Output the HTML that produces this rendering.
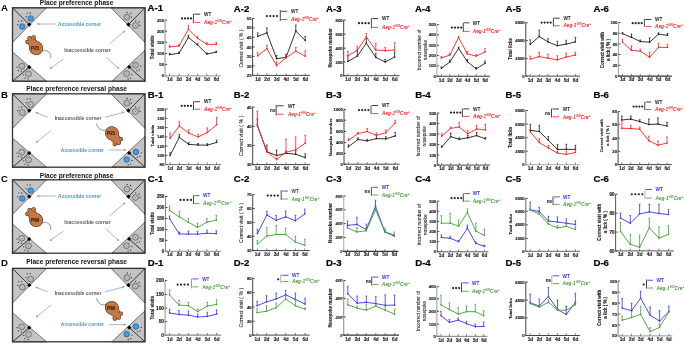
<!DOCTYPE html>
<html><head><meta charset="utf-8"><style>
html,body{margin:0;padding:0;background:#fff;}
body{width:685px;height:344px;overflow:hidden;}
svg{display:block;filter:blur(0.3px);}
text{font-family:"Liberation Sans", sans-serif;}
</style></head><body>
<svg xmlns="http://www.w3.org/2000/svg" width="685" height="344" viewBox="0 0 685 344">
<rect width="685" height="344" fill="#fff"/>
<polygon points="12.5,7.8 46.5,7.8 12.5,42.4" fill="#c4c4c4" stroke="#2a2a2a" stroke-width="0.6"/>
<polygon points="12.5,52.1 46.5,81.2 12.5,81.2" fill="#c4c4c4" stroke="#2a2a2a" stroke-width="0.6"/>
<polygon points="111,7.8 145,7.8 145,42.4" fill="#c4c4c4" stroke="#2a2a2a" stroke-width="0.6"/>
<polygon points="145,50.2 145,81.2 111.8,81.2" fill="#c4c4c4" stroke="#2a2a2a" stroke-width="0.6"/>
<line x1="12.5" y1="7.8" x2="29.3" y2="24.6" stroke="#111" stroke-width="0.8"/>
<rect x="27.8" y="23.1" width="3" height="3" fill="#000" transform="rotate(45 29.3 24.6)"/>
<line x1="12.5" y1="81.2" x2="29.2" y2="67.1" stroke="#111" stroke-width="0.8"/>
<rect x="27.7" y="65.6" width="3" height="3" fill="#000" transform="rotate(45 29.2 67.1)"/>
<line x1="145" y1="7.8" x2="128.4" y2="24.6" stroke="#111" stroke-width="0.8"/>
<rect x="126.9" y="23.1" width="3" height="3" fill="#000" transform="rotate(45 128.4 24.6)"/>
<line x1="145" y1="81.2" x2="129.2" y2="67" stroke="#111" stroke-width="0.8"/>
<rect x="127.7" y="65.5" width="3" height="3" fill="#000" transform="rotate(45 129.2 67)"/>
<rect x="12.5" y="7.8" width="132.5" height="73.4" fill="none" stroke="#333" stroke-width="1.3"/>
<circle cx="30.7" cy="18.5" r="2.75" fill="#46a6ec" stroke="#1a4f8a" stroke-width="0.7"/>
<circle cx="30.7" cy="18.5" r="1.5" fill="none" stroke="#2f80c8" stroke-width="0.35"/>
<circle cx="22.2" cy="26.5" r="2.75" fill="#46a6ec" stroke="#1a4f8a" stroke-width="0.7"/>
<circle cx="22.2" cy="26.5" r="1.5" fill="none" stroke="#2f80c8" stroke-width="0.35"/>
<circle cx="21.8" cy="66.2" r="2.9" fill="#d6d6d6" stroke="#333" stroke-width="0.6"/>
<circle cx="21.8" cy="66.2" r="1.8" fill="none" stroke="#777" stroke-width="0.4"/>
<circle cx="21.8" cy="66.2" r="0.5" fill="#444"/>
<circle cx="28.5" cy="73.9" r="2.9" fill="#d6d6d6" stroke="#333" stroke-width="0.6"/>
<circle cx="28.5" cy="73.9" r="1.8" fill="none" stroke="#777" stroke-width="0.4"/>
<circle cx="28.5" cy="73.9" r="0.5" fill="#444"/>
<circle cx="126.9" cy="17.1" r="2.9" fill="#d6d6d6" stroke="#333" stroke-width="0.6"/>
<circle cx="126.9" cy="17.1" r="1.8" fill="none" stroke="#777" stroke-width="0.4"/>
<circle cx="126.9" cy="17.1" r="0.5" fill="#444"/>
<circle cx="135.4" cy="25.5" r="2.9" fill="#d6d6d6" stroke="#333" stroke-width="0.6"/>
<circle cx="135.4" cy="25.5" r="1.8" fill="none" stroke="#777" stroke-width="0.4"/>
<circle cx="135.4" cy="25.5" r="0.5" fill="#444"/>
<circle cx="135.5" cy="65.3" r="2.9" fill="#d6d6d6" stroke="#333" stroke-width="0.6"/>
<circle cx="135.5" cy="65.3" r="1.8" fill="none" stroke="#777" stroke-width="0.4"/>
<circle cx="135.5" cy="65.3" r="0.5" fill="#444"/>
<circle cx="126.6" cy="73.7" r="2.9" fill="#d6d6d6" stroke="#333" stroke-width="0.6"/>
<circle cx="126.6" cy="73.7" r="1.8" fill="none" stroke="#777" stroke-width="0.4"/>
<circle cx="126.6" cy="73.7" r="0.5" fill="#444"/>
<circle cx="26.2" cy="16.7" r="0.65" fill="#333"/>
<circle cx="27.3" cy="13.1" r="0.65" fill="#333"/>
<circle cx="30.3" cy="13" r="0.65" fill="#333"/>
<circle cx="17.7" cy="24.7" r="0.65" fill="#333"/>
<circle cx="18.8" cy="21.1" r="0.65" fill="#333"/>
<circle cx="21.8" cy="21" r="0.65" fill="#333"/>
<circle cx="17" cy="67.1" r="0.65" fill="#333"/>
<circle cx="18.3" cy="70.4" r="0.65" fill="#333"/>
<circle cx="21.3" cy="71.2" r="0.65" fill="#333"/>
<circle cx="23.7" cy="74.8" r="0.65" fill="#333"/>
<circle cx="25" cy="78.1" r="0.65" fill="#333"/>
<circle cx="28" cy="78.9" r="0.65" fill="#333"/>
<circle cx="127.2" cy="12.4" r="0.65" fill="#333"/>
<circle cx="130.7" cy="13.5" r="0.65" fill="#333"/>
<circle cx="131.5" cy="17.1" r="0.65" fill="#333"/>
<circle cx="135.7" cy="20.8" r="0.65" fill="#333"/>
<circle cx="139.2" cy="21.9" r="0.65" fill="#333"/>
<circle cx="140" cy="25.5" r="0.65" fill="#333"/>
<circle cx="140.8" cy="66.2" r="0.65" fill="#333"/>
<circle cx="139.5" cy="69.8" r="0.65" fill="#333"/>
<circle cx="137" cy="70.6" r="0.65" fill="#333"/>
<circle cx="131.9" cy="74.6" r="0.65" fill="#333"/>
<circle cx="130.6" cy="78.2" r="0.65" fill="#333"/>
<circle cx="128.1" cy="79" r="0.65" fill="#333"/>
<text x="76.6" y="5.3" font-size="6.6" font-weight="bold" text-anchor="middle" fill="#111" >Place preference phase</text>
<text x="1" y="10.9" font-size="9.6" font-weight="bold" text-anchor="start" fill="#000" >A</text>
<text x="79.6" y="25.7" font-size="5" font-weight="bold" text-anchor="middle" fill="#4596dc" >Accessible corner</text>
<line x1="55.6" y1="24" x2="37.4" y2="24" stroke="#777" stroke-width="0.55"/>
<polyline points="39.41,23.1 37.4,24 39.41,24.9" fill="none" stroke="#777" stroke-width="0.55"/>
<text x="87.5" y="52.4" font-size="5" font-weight="bold" text-anchor="middle" fill="#5a5a5a" >Inaccessible corner</text>
<line x1="63.4" y1="59.1" x2="50.2" y2="68.6" stroke="#777" stroke-width="0.55"/>
<polyline points="51.31,66.7 50.2,68.6 52.35,68.15" fill="none" stroke="#777" stroke-width="0.55"/>
<line x1="106.2" y1="57.4" x2="118.8" y2="68.6" stroke="#777" stroke-width="0.55"/>
<polyline points="116.7,67.94 118.8,68.6 117.89,66.59" fill="none" stroke="#777" stroke-width="0.55"/>
<line x1="109.8" y1="43.6" x2="125" y2="31" stroke="#777" stroke-width="0.55"/>
<polyline points="124.03,32.97 125,31 122.88,31.59" fill="none" stroke="#777" stroke-width="0.55"/>
<g transform="translate(36,48) rotate(0)">
<ellipse cx="0" cy="0" rx="6.85" ry="7.25" transform="rotate(-40)" fill="#3a2010"/>
<circle cx="-2.5" cy="-5" r="3.95" fill="#3a2010"/>
<circle cx="-4.8" cy="-6.8" r="3.45" fill="#3a2010"/>
<circle cx="-8.6" cy="-6" r="2.15" fill="#3a2010"/>
<circle cx="-6.4" cy="-9.7" r="2.25" fill="#3a2010"/>
<circle cx="-2.4" cy="-10.6" r="2.25" fill="#3a2010"/>
<circle cx="-5.6" cy="-3.4" r="1.95" fill="#3a2010"/>
<ellipse cx="0" cy="0" rx="6.4" ry="6.8" transform="rotate(-40)" fill="#c57843"/>
<circle cx="-2.5" cy="-5" r="3.5" fill="#c57843"/>
<circle cx="-4.8" cy="-6.8" r="3" fill="#c57843"/>
<circle cx="-8.6" cy="-6" r="1.7" fill="#c57843"/>
<circle cx="-6.4" cy="-9.7" r="1.8" fill="#c57843"/>
<circle cx="-2.4" cy="-10.6" r="1.8" fill="#c57843"/>
<circle cx="-5.6" cy="-3.4" r="1.5" fill="#c57843"/>
</g>
<text x="35.2" y="49.6" font-size="4.6" font-weight="bold" text-anchor="middle" fill="#2a1508" stroke="#2a1508" stroke-width="0.1" >P21</text>
<path d="M 41.6 51.4 C 45 49.6 49 50.3 50.6 54.8 C 51.2 56.8 50.8 57.8 50.2 58.1" fill="none" stroke="#222" stroke-width="0.5"/>
<polygon points="12.5,93.8 46.5,93.8 12.5,128.4" fill="#c4c4c4" stroke="#2a2a2a" stroke-width="0.6"/>
<polygon points="12.5,138.1 46.5,167.2 12.5,167.2" fill="#c4c4c4" stroke="#2a2a2a" stroke-width="0.6"/>
<polygon points="111,93.8 145,93.8 145,128.4" fill="#c4c4c4" stroke="#2a2a2a" stroke-width="0.6"/>
<polygon points="145,136.2 145,167.2 111.8,167.2" fill="#c4c4c4" stroke="#2a2a2a" stroke-width="0.6"/>
<line x1="12.5" y1="93.8" x2="29.3" y2="110.6" stroke="#111" stroke-width="0.8"/>
<rect x="27.8" y="109.1" width="3" height="3" fill="#000" transform="rotate(45 29.3 110.6)"/>
<line x1="12.5" y1="167.2" x2="29.2" y2="153.1" stroke="#111" stroke-width="0.8"/>
<rect x="27.7" y="151.6" width="3" height="3" fill="#000" transform="rotate(45 29.2 153.1)"/>
<line x1="145" y1="93.8" x2="128.4" y2="110.6" stroke="#111" stroke-width="0.8"/>
<rect x="126.9" y="109.1" width="3" height="3" fill="#000" transform="rotate(45 128.4 110.6)"/>
<line x1="145" y1="167.2" x2="129.2" y2="153" stroke="#111" stroke-width="0.8"/>
<rect x="127.7" y="151.5" width="3" height="3" fill="#000" transform="rotate(45 129.2 153)"/>
<rect x="12.5" y="93.8" width="132.5" height="73.4" fill="none" stroke="#333" stroke-width="1.3"/>
<circle cx="30.7" cy="104.5" r="2.9" fill="#d6d6d6" stroke="#333" stroke-width="0.6"/>
<circle cx="30.7" cy="104.5" r="1.8" fill="none" stroke="#777" stroke-width="0.4"/>
<circle cx="30.7" cy="104.5" r="0.5" fill="#444"/>
<circle cx="22.2" cy="112.5" r="2.9" fill="#d6d6d6" stroke="#333" stroke-width="0.6"/>
<circle cx="22.2" cy="112.5" r="1.8" fill="none" stroke="#777" stroke-width="0.4"/>
<circle cx="22.2" cy="112.5" r="0.5" fill="#444"/>
<circle cx="21.8" cy="152.2" r="2.9" fill="#d6d6d6" stroke="#333" stroke-width="0.6"/>
<circle cx="21.8" cy="152.2" r="1.8" fill="none" stroke="#777" stroke-width="0.4"/>
<circle cx="21.8" cy="152.2" r="0.5" fill="#444"/>
<circle cx="28.5" cy="159.9" r="2.9" fill="#d6d6d6" stroke="#333" stroke-width="0.6"/>
<circle cx="28.5" cy="159.9" r="1.8" fill="none" stroke="#777" stroke-width="0.4"/>
<circle cx="28.5" cy="159.9" r="0.5" fill="#444"/>
<circle cx="126.9" cy="103.1" r="2.9" fill="#d6d6d6" stroke="#333" stroke-width="0.6"/>
<circle cx="126.9" cy="103.1" r="1.8" fill="none" stroke="#777" stroke-width="0.4"/>
<circle cx="126.9" cy="103.1" r="0.5" fill="#444"/>
<circle cx="135.4" cy="111.5" r="2.9" fill="#d6d6d6" stroke="#333" stroke-width="0.6"/>
<circle cx="135.4" cy="111.5" r="1.8" fill="none" stroke="#777" stroke-width="0.4"/>
<circle cx="135.4" cy="111.5" r="0.5" fill="#444"/>
<circle cx="135.9" cy="151.9" r="2.75" fill="#46a6ec" stroke="#1a4f8a" stroke-width="0.7"/>
<circle cx="135.9" cy="151.9" r="1.5" fill="none" stroke="#2f80c8" stroke-width="0.35"/>
<circle cx="126.7" cy="159.6" r="2.75" fill="#46a6ec" stroke="#1a4f8a" stroke-width="0.7"/>
<circle cx="126.7" cy="159.6" r="1.5" fill="none" stroke="#2f80c8" stroke-width="0.35"/>
<circle cx="26.2" cy="102.7" r="0.65" fill="#333"/>
<circle cx="27.3" cy="99.1" r="0.65" fill="#333"/>
<circle cx="30.3" cy="99" r="0.65" fill="#333"/>
<circle cx="17.7" cy="110.7" r="0.65" fill="#333"/>
<circle cx="18.8" cy="107.1" r="0.65" fill="#333"/>
<circle cx="21.8" cy="107" r="0.65" fill="#333"/>
<circle cx="17" cy="153.1" r="0.65" fill="#333"/>
<circle cx="18.3" cy="156.4" r="0.65" fill="#333"/>
<circle cx="21.3" cy="157.2" r="0.65" fill="#333"/>
<circle cx="23.7" cy="160.8" r="0.65" fill="#333"/>
<circle cx="25" cy="164.1" r="0.65" fill="#333"/>
<circle cx="28" cy="164.9" r="0.65" fill="#333"/>
<circle cx="127.2" cy="98.4" r="0.65" fill="#333"/>
<circle cx="130.7" cy="99.5" r="0.65" fill="#333"/>
<circle cx="131.5" cy="103.1" r="0.65" fill="#333"/>
<circle cx="135.7" cy="106.8" r="0.65" fill="#333"/>
<circle cx="139.2" cy="107.9" r="0.65" fill="#333"/>
<circle cx="140" cy="111.5" r="0.65" fill="#333"/>
<circle cx="141.2" cy="152.8" r="0.65" fill="#333"/>
<circle cx="139.9" cy="156.4" r="0.65" fill="#333"/>
<circle cx="137.4" cy="157.2" r="0.65" fill="#333"/>
<circle cx="132" cy="160.5" r="0.65" fill="#333"/>
<circle cx="130.7" cy="164.1" r="0.65" fill="#333"/>
<circle cx="128.2" cy="164.9" r="0.65" fill="#333"/>
<text x="76.6" y="90.8" font-size="6.6" font-weight="bold" text-anchor="middle" fill="#111" >Place preference reversal phase</text>
<text x="1" y="98.1" font-size="9.6" font-weight="bold" text-anchor="start" fill="#000" >B</text>
<text x="78" y="119.9" font-size="5" font-weight="bold" text-anchor="middle" fill="#5a5a5a" >Inaccessible corner</text>
<line x1="47.7" y1="117.3" x2="35.9" y2="112.6" stroke="#777" stroke-width="0.55"/>
<polyline points="38.1,112.51 35.9,112.6 37.43,114.18" fill="none" stroke="#777" stroke-width="0.55"/>
<line x1="104.9" y1="117.3" x2="124.3" y2="112.2" stroke="#777" stroke-width="0.55"/>
<polyline points="122.59,113.58 124.3,112.2 122.13,111.84" fill="none" stroke="#777" stroke-width="0.55"/>
<line x1="51" y1="130.4" x2="36.2" y2="142.5" stroke="#777" stroke-width="0.55"/>
<polyline points="37.19,140.53 36.2,142.5 38.32,141.92" fill="none" stroke="#777" stroke-width="0.55"/>
<text x="82.4" y="151.7" font-size="5" font-weight="bold" text-anchor="middle" fill="#4596dc" >Accessible corner</text>
<line x1="108.5" y1="150" x2="125.8" y2="150" stroke="#777" stroke-width="0.55"/>
<polyline points="123.79,150.9 125.8,150 123.79,149.1" fill="none" stroke="#777" stroke-width="0.55"/>
<g transform="translate(112,133.4) rotate(178)">
<ellipse cx="0" cy="0" rx="6.85" ry="7.25" transform="rotate(-40)" fill="#3a2010"/>
<circle cx="-2.5" cy="-5" r="3.95" fill="#3a2010"/>
<circle cx="-4.8" cy="-6.8" r="3.45" fill="#3a2010"/>
<circle cx="-8.6" cy="-6" r="2.15" fill="#3a2010"/>
<circle cx="-6.4" cy="-9.7" r="2.25" fill="#3a2010"/>
<circle cx="-2.4" cy="-10.6" r="2.25" fill="#3a2010"/>
<circle cx="-5.6" cy="-3.4" r="1.95" fill="#3a2010"/>
<ellipse cx="0" cy="0" rx="6.4" ry="6.8" transform="rotate(-40)" fill="#c57843"/>
<circle cx="-2.5" cy="-5" r="3.5" fill="#c57843"/>
<circle cx="-4.8" cy="-6.8" r="3" fill="#c57843"/>
<circle cx="-8.6" cy="-6" r="1.7" fill="#c57843"/>
<circle cx="-6.4" cy="-9.7" r="1.8" fill="#c57843"/>
<circle cx="-2.4" cy="-10.6" r="1.8" fill="#c57843"/>
<circle cx="-5.6" cy="-3.4" r="1.5" fill="#c57843"/>
</g>
<text x="111.2" y="135" font-size="4.6" font-weight="bold" text-anchor="middle" fill="#2a1508" stroke="#2a1508" stroke-width="0.1" >P21</text>
<path d="M 106.8 129.6 C 104 131 100.5 130.4 98.6 127.8 C 97 125.8 96.4 124.3 96.9 123.6" fill="none" stroke="#222" stroke-width="0.5"/>
<polygon points="12.5,179.8 46.5,179.8 12.5,214.4" fill="#c4c4c4" stroke="#2a2a2a" stroke-width="0.6"/>
<polygon points="12.5,224.1 46.5,253.2 12.5,253.2" fill="#c4c4c4" stroke="#2a2a2a" stroke-width="0.6"/>
<polygon points="111,179.8 145,179.8 145,214.4" fill="#c4c4c4" stroke="#2a2a2a" stroke-width="0.6"/>
<polygon points="145,222.2 145,253.2 111.8,253.2" fill="#c4c4c4" stroke="#2a2a2a" stroke-width="0.6"/>
<line x1="12.5" y1="179.8" x2="29.3" y2="196.6" stroke="#111" stroke-width="0.8"/>
<rect x="27.8" y="195.1" width="3" height="3" fill="#000" transform="rotate(45 29.3 196.6)"/>
<line x1="12.5" y1="253.2" x2="29.2" y2="239.1" stroke="#111" stroke-width="0.8"/>
<rect x="27.7" y="237.6" width="3" height="3" fill="#000" transform="rotate(45 29.2 239.1)"/>
<line x1="145" y1="179.8" x2="128.4" y2="196.6" stroke="#111" stroke-width="0.8"/>
<rect x="126.9" y="195.1" width="3" height="3" fill="#000" transform="rotate(45 128.4 196.6)"/>
<line x1="145" y1="253.2" x2="129.2" y2="239" stroke="#111" stroke-width="0.8"/>
<rect x="127.7" y="237.5" width="3" height="3" fill="#000" transform="rotate(45 129.2 239)"/>
<rect x="12.5" y="179.8" width="132.5" height="73.4" fill="none" stroke="#333" stroke-width="1.3"/>
<circle cx="30.7" cy="190.5" r="2.75" fill="#46a6ec" stroke="#1a4f8a" stroke-width="0.7"/>
<circle cx="30.7" cy="190.5" r="1.5" fill="none" stroke="#2f80c8" stroke-width="0.35"/>
<circle cx="22.2" cy="198.5" r="2.75" fill="#46a6ec" stroke="#1a4f8a" stroke-width="0.7"/>
<circle cx="22.2" cy="198.5" r="1.5" fill="none" stroke="#2f80c8" stroke-width="0.35"/>
<circle cx="21.8" cy="238.2" r="2.9" fill="#d6d6d6" stroke="#333" stroke-width="0.6"/>
<circle cx="21.8" cy="238.2" r="1.8" fill="none" stroke="#777" stroke-width="0.4"/>
<circle cx="21.8" cy="238.2" r="0.5" fill="#444"/>
<circle cx="28.5" cy="245.9" r="2.9" fill="#d6d6d6" stroke="#333" stroke-width="0.6"/>
<circle cx="28.5" cy="245.9" r="1.8" fill="none" stroke="#777" stroke-width="0.4"/>
<circle cx="28.5" cy="245.9" r="0.5" fill="#444"/>
<circle cx="126.9" cy="189.1" r="2.9" fill="#d6d6d6" stroke="#333" stroke-width="0.6"/>
<circle cx="126.9" cy="189.1" r="1.8" fill="none" stroke="#777" stroke-width="0.4"/>
<circle cx="126.9" cy="189.1" r="0.5" fill="#444"/>
<circle cx="135.4" cy="197.5" r="2.9" fill="#d6d6d6" stroke="#333" stroke-width="0.6"/>
<circle cx="135.4" cy="197.5" r="1.8" fill="none" stroke="#777" stroke-width="0.4"/>
<circle cx="135.4" cy="197.5" r="0.5" fill="#444"/>
<circle cx="135.5" cy="237.3" r="2.9" fill="#d6d6d6" stroke="#333" stroke-width="0.6"/>
<circle cx="135.5" cy="237.3" r="1.8" fill="none" stroke="#777" stroke-width="0.4"/>
<circle cx="135.5" cy="237.3" r="0.5" fill="#444"/>
<circle cx="126.6" cy="245.7" r="2.9" fill="#d6d6d6" stroke="#333" stroke-width="0.6"/>
<circle cx="126.6" cy="245.7" r="1.8" fill="none" stroke="#777" stroke-width="0.4"/>
<circle cx="126.6" cy="245.7" r="0.5" fill="#444"/>
<circle cx="26.2" cy="188.7" r="0.65" fill="#333"/>
<circle cx="27.3" cy="185.1" r="0.65" fill="#333"/>
<circle cx="30.3" cy="185" r="0.65" fill="#333"/>
<circle cx="17.7" cy="196.7" r="0.65" fill="#333"/>
<circle cx="18.8" cy="193.1" r="0.65" fill="#333"/>
<circle cx="21.8" cy="193" r="0.65" fill="#333"/>
<circle cx="17" cy="239.1" r="0.65" fill="#333"/>
<circle cx="18.3" cy="242.4" r="0.65" fill="#333"/>
<circle cx="21.3" cy="243.2" r="0.65" fill="#333"/>
<circle cx="23.7" cy="246.8" r="0.65" fill="#333"/>
<circle cx="25" cy="250.1" r="0.65" fill="#333"/>
<circle cx="28" cy="250.9" r="0.65" fill="#333"/>
<circle cx="127.2" cy="184.4" r="0.65" fill="#333"/>
<circle cx="130.7" cy="185.5" r="0.65" fill="#333"/>
<circle cx="131.5" cy="189.1" r="0.65" fill="#333"/>
<circle cx="135.7" cy="192.8" r="0.65" fill="#333"/>
<circle cx="139.2" cy="193.9" r="0.65" fill="#333"/>
<circle cx="140" cy="197.5" r="0.65" fill="#333"/>
<circle cx="140.8" cy="238.2" r="0.65" fill="#333"/>
<circle cx="139.5" cy="241.8" r="0.65" fill="#333"/>
<circle cx="137" cy="242.6" r="0.65" fill="#333"/>
<circle cx="131.9" cy="246.6" r="0.65" fill="#333"/>
<circle cx="130.6" cy="250.2" r="0.65" fill="#333"/>
<circle cx="128.1" cy="251" r="0.65" fill="#333"/>
<text x="76.6" y="177.8" font-size="6.6" font-weight="bold" text-anchor="middle" fill="#111" >Place preference phase</text>
<text x="1" y="182.1" font-size="9.6" font-weight="bold" text-anchor="start" fill="#000" >C</text>
<text x="79.6" y="197.7" font-size="5" font-weight="bold" text-anchor="middle" fill="#4596dc" >Accessible corner</text>
<line x1="55.6" y1="196" x2="37.4" y2="196" stroke="#777" stroke-width="0.55"/>
<polyline points="39.41,195.1 37.4,196 39.41,196.9" fill="none" stroke="#777" stroke-width="0.55"/>
<text x="87.5" y="224.4" font-size="5" font-weight="bold" text-anchor="middle" fill="#5a5a5a" >Inaccessible corner</text>
<line x1="63.4" y1="231.1" x2="50.2" y2="240.6" stroke="#777" stroke-width="0.55"/>
<polyline points="51.31,238.7 50.2,240.6 52.35,240.15" fill="none" stroke="#777" stroke-width="0.55"/>
<line x1="106.2" y1="229.4" x2="118.8" y2="240.6" stroke="#777" stroke-width="0.55"/>
<polyline points="116.7,239.94 118.8,240.6 117.89,238.59" fill="none" stroke="#777" stroke-width="0.55"/>
<line x1="109.8" y1="215.6" x2="125" y2="203" stroke="#777" stroke-width="0.55"/>
<polyline points="124.03,204.97 125,203 122.88,203.59" fill="none" stroke="#777" stroke-width="0.55"/>
<g transform="translate(36,220) rotate(0)">
<ellipse cx="0" cy="0" rx="6.85" ry="7.25" transform="rotate(-40)" fill="#3a2010"/>
<circle cx="-2.5" cy="-5" r="3.95" fill="#3a2010"/>
<circle cx="-4.8" cy="-6.8" r="3.45" fill="#3a2010"/>
<circle cx="-8.6" cy="-6" r="2.15" fill="#3a2010"/>
<circle cx="-6.4" cy="-9.7" r="2.25" fill="#3a2010"/>
<circle cx="-2.4" cy="-10.6" r="2.25" fill="#3a2010"/>
<circle cx="-5.6" cy="-3.4" r="1.95" fill="#3a2010"/>
<ellipse cx="0" cy="0" rx="6.4" ry="6.8" transform="rotate(-40)" fill="#c57843"/>
<circle cx="-2.5" cy="-5" r="3.5" fill="#c57843"/>
<circle cx="-4.8" cy="-6.8" r="3" fill="#c57843"/>
<circle cx="-8.6" cy="-6" r="1.7" fill="#c57843"/>
<circle cx="-6.4" cy="-9.7" r="1.8" fill="#c57843"/>
<circle cx="-2.4" cy="-10.6" r="1.8" fill="#c57843"/>
<circle cx="-5.6" cy="-3.4" r="1.5" fill="#c57843"/>
</g>
<text x="35.2" y="221.6" font-size="4.6" font-weight="bold" text-anchor="middle" fill="#2a1508" stroke="#2a1508" stroke-width="0.1" >P60</text>
<path d="M 41.6 223.4 C 45 221.6 49 222.3 50.6 226.8 C 51.2 228.8 50.8 229.8 50.2 230.1" fill="none" stroke="#222" stroke-width="0.5"/>
<polygon points="12.5,268.4 46.5,268.4 12.5,303" fill="#c4c4c4" stroke="#2a2a2a" stroke-width="0.6"/>
<polygon points="12.5,312.7 46.5,341.8 12.5,341.8" fill="#c4c4c4" stroke="#2a2a2a" stroke-width="0.6"/>
<polygon points="111,268.4 145,268.4 145,303" fill="#c4c4c4" stroke="#2a2a2a" stroke-width="0.6"/>
<polygon points="145,310.8 145,341.8 111.8,341.8" fill="#c4c4c4" stroke="#2a2a2a" stroke-width="0.6"/>
<line x1="12.5" y1="268.4" x2="29.3" y2="285.2" stroke="#111" stroke-width="0.8"/>
<rect x="27.8" y="283.7" width="3" height="3" fill="#000" transform="rotate(45 29.3 285.2)"/>
<line x1="12.5" y1="341.8" x2="29.2" y2="327.7" stroke="#111" stroke-width="0.8"/>
<rect x="27.7" y="326.2" width="3" height="3" fill="#000" transform="rotate(45 29.2 327.7)"/>
<line x1="145" y1="268.4" x2="128.4" y2="285.2" stroke="#111" stroke-width="0.8"/>
<rect x="126.9" y="283.7" width="3" height="3" fill="#000" transform="rotate(45 128.4 285.2)"/>
<line x1="145" y1="341.8" x2="129.2" y2="327.6" stroke="#111" stroke-width="0.8"/>
<rect x="127.7" y="326.1" width="3" height="3" fill="#000" transform="rotate(45 129.2 327.6)"/>
<rect x="12.5" y="268.4" width="132.5" height="73.4" fill="none" stroke="#333" stroke-width="1.3"/>
<circle cx="30.7" cy="279.1" r="2.9" fill="#d6d6d6" stroke="#333" stroke-width="0.6"/>
<circle cx="30.7" cy="279.1" r="1.8" fill="none" stroke="#777" stroke-width="0.4"/>
<circle cx="30.7" cy="279.1" r="0.5" fill="#444"/>
<circle cx="22.2" cy="287.1" r="2.9" fill="#d6d6d6" stroke="#333" stroke-width="0.6"/>
<circle cx="22.2" cy="287.1" r="1.8" fill="none" stroke="#777" stroke-width="0.4"/>
<circle cx="22.2" cy="287.1" r="0.5" fill="#444"/>
<circle cx="21.8" cy="326.8" r="2.9" fill="#d6d6d6" stroke="#333" stroke-width="0.6"/>
<circle cx="21.8" cy="326.8" r="1.8" fill="none" stroke="#777" stroke-width="0.4"/>
<circle cx="21.8" cy="326.8" r="0.5" fill="#444"/>
<circle cx="28.5" cy="334.5" r="2.9" fill="#d6d6d6" stroke="#333" stroke-width="0.6"/>
<circle cx="28.5" cy="334.5" r="1.8" fill="none" stroke="#777" stroke-width="0.4"/>
<circle cx="28.5" cy="334.5" r="0.5" fill="#444"/>
<circle cx="126.9" cy="277.7" r="2.9" fill="#d6d6d6" stroke="#333" stroke-width="0.6"/>
<circle cx="126.9" cy="277.7" r="1.8" fill="none" stroke="#777" stroke-width="0.4"/>
<circle cx="126.9" cy="277.7" r="0.5" fill="#444"/>
<circle cx="135.4" cy="286.1" r="2.9" fill="#d6d6d6" stroke="#333" stroke-width="0.6"/>
<circle cx="135.4" cy="286.1" r="1.8" fill="none" stroke="#777" stroke-width="0.4"/>
<circle cx="135.4" cy="286.1" r="0.5" fill="#444"/>
<circle cx="135.9" cy="326.5" r="2.75" fill="#46a6ec" stroke="#1a4f8a" stroke-width="0.7"/>
<circle cx="135.9" cy="326.5" r="1.5" fill="none" stroke="#2f80c8" stroke-width="0.35"/>
<circle cx="126.7" cy="334.2" r="2.75" fill="#46a6ec" stroke="#1a4f8a" stroke-width="0.7"/>
<circle cx="126.7" cy="334.2" r="1.5" fill="none" stroke="#2f80c8" stroke-width="0.35"/>
<circle cx="26.2" cy="277.3" r="0.65" fill="#333"/>
<circle cx="27.3" cy="273.7" r="0.65" fill="#333"/>
<circle cx="30.3" cy="273.6" r="0.65" fill="#333"/>
<circle cx="17.7" cy="285.3" r="0.65" fill="#333"/>
<circle cx="18.8" cy="281.7" r="0.65" fill="#333"/>
<circle cx="21.8" cy="281.6" r="0.65" fill="#333"/>
<circle cx="17" cy="327.7" r="0.65" fill="#333"/>
<circle cx="18.3" cy="331" r="0.65" fill="#333"/>
<circle cx="21.3" cy="331.8" r="0.65" fill="#333"/>
<circle cx="23.7" cy="335.4" r="0.65" fill="#333"/>
<circle cx="25" cy="338.7" r="0.65" fill="#333"/>
<circle cx="28" cy="339.5" r="0.65" fill="#333"/>
<circle cx="127.2" cy="273" r="0.65" fill="#333"/>
<circle cx="130.7" cy="274.1" r="0.65" fill="#333"/>
<circle cx="131.5" cy="277.7" r="0.65" fill="#333"/>
<circle cx="135.7" cy="281.4" r="0.65" fill="#333"/>
<circle cx="139.2" cy="282.5" r="0.65" fill="#333"/>
<circle cx="140" cy="286.1" r="0.65" fill="#333"/>
<circle cx="141.2" cy="327.4" r="0.65" fill="#333"/>
<circle cx="139.9" cy="331" r="0.65" fill="#333"/>
<circle cx="137.4" cy="331.8" r="0.65" fill="#333"/>
<circle cx="132" cy="335.1" r="0.65" fill="#333"/>
<circle cx="130.7" cy="338.7" r="0.65" fill="#333"/>
<circle cx="128.2" cy="339.5" r="0.65" fill="#333"/>
<text x="76.6" y="264.4" font-size="6.6" font-weight="bold" text-anchor="middle" fill="#111" >Place preference reversal phase</text>
<text x="1" y="266" font-size="9.6" font-weight="bold" text-anchor="start" fill="#000" >D</text>
<text x="78" y="294.5" font-size="5" font-weight="bold" text-anchor="middle" fill="#5a5a5a" >Inaccessible corner</text>
<line x1="47.7" y1="291.9" x2="35.9" y2="287.2" stroke="#777" stroke-width="0.55"/>
<polyline points="38.1,287.11 35.9,287.2 37.43,288.78" fill="none" stroke="#777" stroke-width="0.55"/>
<line x1="104.9" y1="291.9" x2="124.3" y2="286.8" stroke="#777" stroke-width="0.55"/>
<polyline points="122.59,288.18 124.3,286.8 122.13,286.44" fill="none" stroke="#777" stroke-width="0.55"/>
<line x1="51" y1="305" x2="36.2" y2="317.1" stroke="#777" stroke-width="0.55"/>
<polyline points="37.19,315.13 36.2,317.1 38.32,316.52" fill="none" stroke="#777" stroke-width="0.55"/>
<text x="82.4" y="326.3" font-size="5" font-weight="bold" text-anchor="middle" fill="#4596dc" >Accessible corner</text>
<line x1="108.5" y1="324.6" x2="125.8" y2="324.6" stroke="#777" stroke-width="0.55"/>
<polyline points="123.79,325.5 125.8,324.6 123.79,323.7" fill="none" stroke="#777" stroke-width="0.55"/>
<g transform="translate(112,308) rotate(178)">
<ellipse cx="0" cy="0" rx="6.85" ry="7.25" transform="rotate(-40)" fill="#3a2010"/>
<circle cx="-2.5" cy="-5" r="3.95" fill="#3a2010"/>
<circle cx="-4.8" cy="-6.8" r="3.45" fill="#3a2010"/>
<circle cx="-8.6" cy="-6" r="2.15" fill="#3a2010"/>
<circle cx="-6.4" cy="-9.7" r="2.25" fill="#3a2010"/>
<circle cx="-2.4" cy="-10.6" r="2.25" fill="#3a2010"/>
<circle cx="-5.6" cy="-3.4" r="1.95" fill="#3a2010"/>
<ellipse cx="0" cy="0" rx="6.4" ry="6.8" transform="rotate(-40)" fill="#c57843"/>
<circle cx="-2.5" cy="-5" r="3.5" fill="#c57843"/>
<circle cx="-4.8" cy="-6.8" r="3" fill="#c57843"/>
<circle cx="-8.6" cy="-6" r="1.7" fill="#c57843"/>
<circle cx="-6.4" cy="-9.7" r="1.8" fill="#c57843"/>
<circle cx="-2.4" cy="-10.6" r="1.8" fill="#c57843"/>
<circle cx="-5.6" cy="-3.4" r="1.5" fill="#c57843"/>
</g>
<text x="111.2" y="309.6" font-size="4.6" font-weight="bold" text-anchor="middle" fill="#2a1508" stroke="#2a1508" stroke-width="0.1" >P60</text>
<path d="M 106.8 304.2 C 104 305.6 100.5 305 98.6 302.4 C 97 300.4 96.4 298.9 96.9 298.2" fill="none" stroke="#222" stroke-width="0.5"/>
<text transform="translate(147.6,11.45)" font-size="9.6" font-weight="bold" fill="#000" stroke="#000" stroke-width="0.2">A-1</text>
<line x1="165.1" y1="19.7" x2="165.1" y2="76.3" stroke="#a8a8a8" stroke-width="1.3"/>
<line x1="165.1" y1="20" x2="167.1" y2="20" stroke="#222" stroke-width="0.8"/>
<text x="164" y="21.51" font-size="4.2" font-weight="bold" text-anchor="end" fill="#222" stroke="#222" stroke-width="0.15" >250</text>
<line x1="165.1" y1="31.2" x2="167.1" y2="31.2" stroke="#222" stroke-width="0.8"/>
<text x="164" y="32.71" font-size="4.2" font-weight="bold" text-anchor="end" fill="#222" stroke="#222" stroke-width="0.15" >200</text>
<line x1="165.1" y1="42.2" x2="167.1" y2="42.2" stroke="#222" stroke-width="0.8"/>
<text x="164" y="43.71" font-size="4.2" font-weight="bold" text-anchor="end" fill="#222" stroke="#222" stroke-width="0.15" >150</text>
<line x1="165.1" y1="53.5" x2="167.1" y2="53.5" stroke="#222" stroke-width="0.8"/>
<text x="164" y="55.01" font-size="4.2" font-weight="bold" text-anchor="end" fill="#222" stroke="#222" stroke-width="0.15" >100</text>
<line x1="165.1" y1="64.6" x2="167.1" y2="64.6" stroke="#222" stroke-width="0.8"/>
<text x="164" y="66.11" font-size="4.2" font-weight="bold" text-anchor="end" fill="#222" stroke="#222" stroke-width="0.15" >50</text>
<line x1="165.1" y1="75.8" x2="167.1" y2="75.8" stroke="#222" stroke-width="0.8"/>
<text x="164" y="77.31" font-size="4.2" font-weight="bold" text-anchor="end" fill="#222" stroke="#222" stroke-width="0.15" >0</text>
<line x1="164.6" y1="75.8" x2="221" y2="75.8" stroke="#a8a8a8" stroke-width="1.3"/>
<line x1="169.6" y1="73.6" x2="169.6" y2="75.8" stroke="#444" stroke-width="0.65"/>
<line x1="179" y1="73.6" x2="179" y2="75.8" stroke="#444" stroke-width="0.65"/>
<line x1="188.4" y1="73.6" x2="188.4" y2="75.8" stroke="#444" stroke-width="0.65"/>
<line x1="197.5" y1="73.6" x2="197.5" y2="75.8" stroke="#444" stroke-width="0.65"/>
<line x1="206.9" y1="73.6" x2="206.9" y2="75.8" stroke="#444" stroke-width="0.65"/>
<line x1="216.3" y1="73.6" x2="216.3" y2="75.8" stroke="#444" stroke-width="0.65"/>
<text x="169.8" y="81.25" font-size="4.7" font-weight="bold" text-anchor="middle" fill="#222" stroke="#222" stroke-width="0.12" >1d</text>
<text x="179.2" y="81.25" font-size="4.7" font-weight="bold" text-anchor="middle" fill="#222" stroke="#222" stroke-width="0.12" >2d</text>
<text x="188.6" y="81.25" font-size="4.7" font-weight="bold" text-anchor="middle" fill="#222" stroke="#222" stroke-width="0.12" >3d</text>
<text x="197.7" y="81.25" font-size="4.7" font-weight="bold" text-anchor="middle" fill="#222" stroke="#222" stroke-width="0.12" >4d</text>
<text x="207.1" y="81.25" font-size="4.7" font-weight="bold" text-anchor="middle" fill="#222" stroke="#222" stroke-width="0.12" >5d</text>
<text x="216.5" y="81.25" font-size="4.7" font-weight="bold" text-anchor="middle" fill="#222" stroke="#222" stroke-width="0.12" >6d</text>
<text transform="translate(154.28,47.3) rotate(-90)" font-size="4.66" font-weight="bold" text-anchor="middle" fill="#222" stroke="#222" stroke-width="0.12">Total visits</text>
<polyline points="169.6,54.6 179,53.3 188.4,37.4 197.5,44.9 206.9,54 216.3,52.2" fill="none" stroke="#1a1a1a" stroke-width="0.9" stroke-linejoin="round"/>
<line x1="169.6" y1="54.6" x2="169.6" y2="53.3" stroke="#1a1a1a" stroke-width="0.8"/>
<line x1="168.7" y1="53.3" x2="170.5" y2="53.3" stroke="#1a1a1a" stroke-width="0.7"/>
<rect x="168.9" y="53.9" width="1.4" height="1.4" fill="#1a1a1a"/>
<line x1="179" y1="53.3" x2="179" y2="52.2" stroke="#1a1a1a" stroke-width="0.8"/>
<line x1="178.1" y1="52.2" x2="179.9" y2="52.2" stroke="#1a1a1a" stroke-width="0.7"/>
<rect x="178.3" y="52.6" width="1.4" height="1.4" fill="#1a1a1a"/>
<line x1="188.4" y1="37.4" x2="188.4" y2="35.4" stroke="#1a1a1a" stroke-width="0.8"/>
<line x1="187.5" y1="35.4" x2="189.3" y2="35.4" stroke="#1a1a1a" stroke-width="0.7"/>
<rect x="187.7" y="36.7" width="1.4" height="1.4" fill="#1a1a1a"/>
<line x1="197.5" y1="44.9" x2="197.5" y2="43.6" stroke="#1a1a1a" stroke-width="0.8"/>
<line x1="196.6" y1="43.6" x2="198.4" y2="43.6" stroke="#1a1a1a" stroke-width="0.7"/>
<rect x="196.8" y="44.2" width="1.4" height="1.4" fill="#1a1a1a"/>
<line x1="206.9" y1="54" x2="206.9" y2="53" stroke="#1a1a1a" stroke-width="0.8"/>
<line x1="206" y1="53" x2="207.8" y2="53" stroke="#1a1a1a" stroke-width="0.7"/>
<rect x="206.2" y="53.3" width="1.4" height="1.4" fill="#1a1a1a"/>
<line x1="216.3" y1="52.2" x2="216.3" y2="51.2" stroke="#1a1a1a" stroke-width="0.8"/>
<line x1="215.4" y1="51.2" x2="217.2" y2="51.2" stroke="#1a1a1a" stroke-width="0.7"/>
<rect x="215.6" y="51.5" width="1.4" height="1.4" fill="#1a1a1a"/>
<polyline points="169.6,46.9 179,46 188.4,29.2 197.5,38.2 206.9,44.4 216.3,44.4" fill="none" stroke="#ff2020" stroke-width="0.9" stroke-linejoin="round"/>
<line x1="169.6" y1="46.9" x2="169.6" y2="45.5" stroke="#ff2020" stroke-width="0.8"/>
<line x1="168.7" y1="45.5" x2="170.5" y2="45.5" stroke="#ff2020" stroke-width="0.7"/>
<rect x="168.9" y="46.2" width="1.4" height="1.4" fill="#ff2020"/>
<line x1="179" y1="46" x2="179" y2="44.6" stroke="#ff2020" stroke-width="0.8"/>
<line x1="178.1" y1="44.6" x2="179.9" y2="44.6" stroke="#ff2020" stroke-width="0.7"/>
<rect x="178.3" y="45.3" width="1.4" height="1.4" fill="#ff2020"/>
<line x1="188.4" y1="29.2" x2="188.4" y2="25.3" stroke="#ff2020" stroke-width="0.8"/>
<line x1="187.5" y1="25.3" x2="189.3" y2="25.3" stroke="#ff2020" stroke-width="0.7"/>
<rect x="187.7" y="28.5" width="1.4" height="1.4" fill="#ff2020"/>
<line x1="197.5" y1="38.2" x2="197.5" y2="36.3" stroke="#ff2020" stroke-width="0.8"/>
<line x1="196.6" y1="36.3" x2="198.4" y2="36.3" stroke="#ff2020" stroke-width="0.7"/>
<rect x="196.8" y="37.5" width="1.4" height="1.4" fill="#ff2020"/>
<line x1="206.9" y1="44.4" x2="206.9" y2="42.4" stroke="#ff2020" stroke-width="0.8"/>
<line x1="206" y1="42.4" x2="207.8" y2="42.4" stroke="#ff2020" stroke-width="0.7"/>
<rect x="206.2" y="43.7" width="1.4" height="1.4" fill="#ff2020"/>
<line x1="216.3" y1="44.4" x2="216.3" y2="42.4" stroke="#ff2020" stroke-width="0.8"/>
<line x1="215.4" y1="42.4" x2="217.2" y2="42.4" stroke="#ff2020" stroke-width="0.7"/>
<rect x="215.6" y="43.7" width="1.4" height="1.4" fill="#ff2020"/>
<circle cx="182" cy="18.4" r="1.1" fill="#222"/>
<circle cx="185" cy="18.4" r="1.1" fill="#222"/>
<circle cx="188" cy="18.4" r="1.1" fill="#222"/>
<circle cx="191" cy="18.4" r="1.1" fill="#222"/>
<line x1="193.4" y1="13.8" x2="193.4" y2="23.2" stroke="#333" stroke-width="0.9"/>
<line x1="194.3" y1="14.2" x2="200.3" y2="14.2" stroke="#1a1a1a" stroke-width="0.85"/>
<line x1="194.3" y1="22.4" x2="200.3" y2="22.4" stroke="#ff2020" stroke-width="0.85"/>
<text x="204" y="15.9" font-size="4.7" font-weight="bold" text-anchor="start" fill="#1a1a1a" >WT</text>
<text x="204" y="24.1" font-size="4.7" font-weight="bold" font-style="italic" fill="#ff2020">Aeg-1<tspan font-size="3.0" dx="0.3" dy="-2.0">fl/fl</tspan><tspan dx="0.2" dy="2.0">Cre</tspan><tspan font-size="3.0" dx="0.2" dy="-2.0">+</tspan></text>
<text transform="translate(233.8,11.55)" font-size="9.6" font-weight="bold" fill="#000" stroke="#000" stroke-width="0.2">A-2</text>
<line x1="252.6" y1="18.1" x2="252.6" y2="75.9" stroke="#444" stroke-width="1"/>
<line x1="252.6" y1="18.4" x2="254.6" y2="18.4" stroke="#222" stroke-width="0.8"/>
<text x="251.5" y="19.91" font-size="4.2" font-weight="bold" text-anchor="end" fill="#222" stroke="#222" stroke-width="0.15" >55</text>
<line x1="252.6" y1="27.9" x2="254.6" y2="27.9" stroke="#222" stroke-width="0.8"/>
<text x="251.5" y="29.41" font-size="4.2" font-weight="bold" text-anchor="end" fill="#222" stroke="#222" stroke-width="0.15" >50</text>
<line x1="252.6" y1="37.4" x2="254.6" y2="37.4" stroke="#222" stroke-width="0.8"/>
<text x="251.5" y="38.91" font-size="4.2" font-weight="bold" text-anchor="end" fill="#222" stroke="#222" stroke-width="0.15" >45</text>
<line x1="252.6" y1="47" x2="254.6" y2="47" stroke="#222" stroke-width="0.8"/>
<text x="251.5" y="48.51" font-size="4.2" font-weight="bold" text-anchor="end" fill="#222" stroke="#222" stroke-width="0.15" >40</text>
<line x1="252.6" y1="56.4" x2="254.6" y2="56.4" stroke="#222" stroke-width="0.8"/>
<text x="251.5" y="57.91" font-size="4.2" font-weight="bold" text-anchor="end" fill="#222" stroke="#222" stroke-width="0.15" >35</text>
<line x1="252.6" y1="66" x2="254.6" y2="66" stroke="#222" stroke-width="0.8"/>
<text x="251.5" y="67.51" font-size="4.2" font-weight="bold" text-anchor="end" fill="#222" stroke="#222" stroke-width="0.15" >30</text>
<line x1="252.6" y1="75.4" x2="254.6" y2="75.4" stroke="#222" stroke-width="0.8"/>
<text x="251.5" y="76.91" font-size="4.2" font-weight="bold" text-anchor="end" fill="#222" stroke="#222" stroke-width="0.15" >25</text>
<line x1="252.1" y1="75.4" x2="309.8" y2="75.4" stroke="#444" stroke-width="1"/>
<line x1="257.7" y1="73.2" x2="257.7" y2="75.4" stroke="#444" stroke-width="0.65"/>
<line x1="266.9" y1="73.2" x2="266.9" y2="75.4" stroke="#444" stroke-width="0.65"/>
<line x1="276.6" y1="73.2" x2="276.6" y2="75.4" stroke="#444" stroke-width="0.65"/>
<line x1="286" y1="73.2" x2="286" y2="75.4" stroke="#444" stroke-width="0.65"/>
<line x1="295.8" y1="73.2" x2="295.8" y2="75.4" stroke="#444" stroke-width="0.65"/>
<line x1="305.2" y1="73.2" x2="305.2" y2="75.4" stroke="#444" stroke-width="0.65"/>
<text x="257.9" y="81.05" font-size="4.7" font-weight="bold" text-anchor="middle" fill="#222" stroke="#222" stroke-width="0.12" >1d</text>
<text x="267.1" y="81.05" font-size="4.7" font-weight="bold" text-anchor="middle" fill="#222" stroke="#222" stroke-width="0.12" >2d</text>
<text x="276.8" y="81.05" font-size="4.7" font-weight="bold" text-anchor="middle" fill="#222" stroke="#222" stroke-width="0.12" >3d</text>
<text x="286.2" y="81.05" font-size="4.7" font-weight="bold" text-anchor="middle" fill="#222" stroke="#222" stroke-width="0.12" >4d</text>
<text x="296" y="81.05" font-size="4.7" font-weight="bold" text-anchor="middle" fill="#222" stroke="#222" stroke-width="0.12" >5d</text>
<text x="305.4" y="81.05" font-size="4.7" font-weight="bold" text-anchor="middle" fill="#222" stroke="#222" stroke-width="0.12" >6d</text>
<text transform="translate(243.38,48.6) rotate(-90)" font-size="4.95" font-weight="normal" text-anchor="middle" fill="#222" stroke="#222" stroke-width="0.08">Correct visit ( % )</text>
<polyline points="257.7,36.4 266.9,32.9 276.6,58.7 286,57.4 295.8,31.1 305.2,40.4" fill="none" stroke="#1a1a1a" stroke-width="0.9" stroke-linejoin="round"/>
<line x1="257.7" y1="36.4" x2="257.7" y2="32.9" stroke="#1a1a1a" stroke-width="0.8"/>
<line x1="256.8" y1="32.9" x2="258.6" y2="32.9" stroke="#1a1a1a" stroke-width="0.7"/>
<rect x="257" y="35.7" width="1.4" height="1.4" fill="#1a1a1a"/>
<line x1="266.9" y1="32.9" x2="266.9" y2="27.9" stroke="#1a1a1a" stroke-width="0.8"/>
<line x1="266" y1="27.9" x2="267.8" y2="27.9" stroke="#1a1a1a" stroke-width="0.7"/>
<rect x="266.2" y="32.2" width="1.4" height="1.4" fill="#1a1a1a"/>
<line x1="276.6" y1="58.7" x2="276.6" y2="55.6" stroke="#1a1a1a" stroke-width="0.8"/>
<line x1="275.7" y1="55.6" x2="277.5" y2="55.6" stroke="#1a1a1a" stroke-width="0.7"/>
<rect x="275.9" y="58" width="1.4" height="1.4" fill="#1a1a1a"/>
<line x1="286" y1="57.4" x2="286" y2="54.5" stroke="#1a1a1a" stroke-width="0.8"/>
<line x1="285.1" y1="54.5" x2="286.9" y2="54.5" stroke="#1a1a1a" stroke-width="0.7"/>
<rect x="285.3" y="56.7" width="1.4" height="1.4" fill="#1a1a1a"/>
<line x1="295.8" y1="31.1" x2="295.8" y2="25.1" stroke="#1a1a1a" stroke-width="0.8"/>
<line x1="294.9" y1="25.1" x2="296.7" y2="25.1" stroke="#1a1a1a" stroke-width="0.7"/>
<rect x="295.1" y="30.4" width="1.4" height="1.4" fill="#1a1a1a"/>
<line x1="305.2" y1="40.4" x2="305.2" y2="36.4" stroke="#1a1a1a" stroke-width="0.8"/>
<line x1="304.3" y1="36.4" x2="306.1" y2="36.4" stroke="#1a1a1a" stroke-width="0.7"/>
<rect x="304.5" y="39.7" width="1.4" height="1.4" fill="#1a1a1a"/>
<polyline points="257.7,55.8 266.9,48.6 276.6,65.6 286,57.8 295.8,51.2 305.2,56.2" fill="none" stroke="#ff2020" stroke-width="0.9" stroke-linejoin="round"/>
<line x1="257.7" y1="55.8" x2="257.7" y2="52.4" stroke="#ff2020" stroke-width="0.8"/>
<line x1="256.8" y1="52.4" x2="258.6" y2="52.4" stroke="#ff2020" stroke-width="0.7"/>
<rect x="257" y="55.1" width="1.4" height="1.4" fill="#ff2020"/>
<line x1="266.9" y1="48.6" x2="266.9" y2="45.3" stroke="#ff2020" stroke-width="0.8"/>
<line x1="266" y1="45.3" x2="267.8" y2="45.3" stroke="#ff2020" stroke-width="0.7"/>
<rect x="266.2" y="47.9" width="1.4" height="1.4" fill="#ff2020"/>
<line x1="276.6" y1="65.6" x2="276.6" y2="61.8" stroke="#ff2020" stroke-width="0.8"/>
<line x1="275.7" y1="61.8" x2="277.5" y2="61.8" stroke="#ff2020" stroke-width="0.7"/>
<rect x="275.9" y="64.9" width="1.4" height="1.4" fill="#ff2020"/>
<line x1="286" y1="57.8" x2="286" y2="54.3" stroke="#ff2020" stroke-width="0.8"/>
<line x1="285.1" y1="54.3" x2="286.9" y2="54.3" stroke="#ff2020" stroke-width="0.7"/>
<rect x="285.3" y="57.1" width="1.4" height="1.4" fill="#ff2020"/>
<line x1="295.8" y1="51.2" x2="295.8" y2="47.4" stroke="#ff2020" stroke-width="0.8"/>
<line x1="294.9" y1="47.4" x2="296.7" y2="47.4" stroke="#ff2020" stroke-width="0.7"/>
<rect x="295.1" y="50.5" width="1.4" height="1.4" fill="#ff2020"/>
<line x1="305.2" y1="56.2" x2="305.2" y2="50.8" stroke="#ff2020" stroke-width="0.8"/>
<line x1="304.3" y1="50.8" x2="306.1" y2="50.8" stroke="#ff2020" stroke-width="0.7"/>
<rect x="304.5" y="55.5" width="1.4" height="1.4" fill="#ff2020"/>
<circle cx="266.9" cy="16.1" r="1.1" fill="#222"/>
<circle cx="270.27" cy="16.1" r="1.1" fill="#222"/>
<circle cx="273.63" cy="16.1" r="1.1" fill="#222"/>
<circle cx="277" cy="16.1" r="1.1" fill="#222"/>
<line x1="280.3" y1="10" x2="280.3" y2="21.1" stroke="#333" stroke-width="0.9"/>
<line x1="281.2" y1="11.3" x2="287.2" y2="11.3" stroke="#1a1a1a" stroke-width="0.85"/>
<line x1="281.2" y1="19.5" x2="287.2" y2="19.5" stroke="#ff2020" stroke-width="0.85"/>
<text x="291" y="13" font-size="4.7" font-weight="bold" text-anchor="start" fill="#1a1a1a" >WT</text>
<text x="291" y="21.2" font-size="4.7" font-weight="bold" font-style="italic" fill="#ff2020">Aeg-1<tspan font-size="3.0" dx="0.3" dy="-2.0">fl/fl</tspan><tspan dx="0.2" dy="2.0">Cre</tspan><tspan font-size="3.0" dx="0.2" dy="-2.0">+</tspan></text>
<text transform="translate(326.1,11.55)" font-size="9.6" font-weight="bold" fill="#000" stroke="#000" stroke-width="0.2">A-3</text>
<line x1="343.7" y1="19.8" x2="343.7" y2="76.2" stroke="#444" stroke-width="1"/>
<line x1="343.7" y1="20.1" x2="345.7" y2="20.1" stroke="#222" stroke-width="0.8"/>
<text x="342.6" y="21.61" font-size="4.2" font-weight="bold" text-anchor="end" fill="#222" stroke="#222" stroke-width="0.15" >800</text>
<line x1="343.7" y1="34.2" x2="345.7" y2="34.2" stroke="#222" stroke-width="0.8"/>
<text x="342.6" y="35.71" font-size="4.2" font-weight="bold" text-anchor="end" fill="#222" stroke="#222" stroke-width="0.15" >600</text>
<line x1="343.7" y1="48.2" x2="345.7" y2="48.2" stroke="#222" stroke-width="0.8"/>
<text x="342.6" y="49.71" font-size="4.2" font-weight="bold" text-anchor="end" fill="#222" stroke="#222" stroke-width="0.15" >400</text>
<line x1="343.7" y1="62" x2="345.7" y2="62" stroke="#222" stroke-width="0.8"/>
<text x="342.6" y="63.51" font-size="4.2" font-weight="bold" text-anchor="end" fill="#222" stroke="#222" stroke-width="0.15" >200</text>
<line x1="343.7" y1="75.7" x2="345.7" y2="75.7" stroke="#222" stroke-width="0.8"/>
<text x="342.6" y="77.21" font-size="4.2" font-weight="bold" text-anchor="end" fill="#222" stroke="#222" stroke-width="0.15" >0</text>
<line x1="343.2" y1="75.7" x2="399.6" y2="75.7" stroke="#444" stroke-width="1"/>
<line x1="347.9" y1="73.5" x2="347.9" y2="75.7" stroke="#444" stroke-width="0.65"/>
<line x1="357.3" y1="73.5" x2="357.3" y2="75.7" stroke="#444" stroke-width="0.65"/>
<line x1="366.3" y1="73.5" x2="366.3" y2="75.7" stroke="#444" stroke-width="0.65"/>
<line x1="375.8" y1="73.5" x2="375.8" y2="75.7" stroke="#444" stroke-width="0.65"/>
<line x1="385.2" y1="73.5" x2="385.2" y2="75.7" stroke="#444" stroke-width="0.65"/>
<line x1="394.6" y1="73.5" x2="394.6" y2="75.7" stroke="#444" stroke-width="0.65"/>
<text x="348.1" y="81.45" font-size="4.7" font-weight="bold" text-anchor="middle" fill="#222" stroke="#222" stroke-width="0.12" >1d</text>
<text x="357.5" y="81.45" font-size="4.7" font-weight="bold" text-anchor="middle" fill="#222" stroke="#222" stroke-width="0.12" >2d</text>
<text x="366.5" y="81.45" font-size="4.7" font-weight="bold" text-anchor="middle" fill="#222" stroke="#222" stroke-width="0.12" >3d</text>
<text x="376" y="81.45" font-size="4.7" font-weight="bold" text-anchor="middle" fill="#222" stroke="#222" stroke-width="0.12" >4d</text>
<text x="385.4" y="81.45" font-size="4.7" font-weight="bold" text-anchor="middle" fill="#222" stroke="#222" stroke-width="0.12" >5d</text>
<text x="394.8" y="81.45" font-size="4.7" font-weight="bold" text-anchor="middle" fill="#222" stroke="#222" stroke-width="0.12" >6d</text>
<text transform="translate(332.13,47.9) rotate(-90)" font-size="4.52" font-weight="bold" text-anchor="middle" fill="#222" stroke="#222" stroke-width="0.12">Nosepoke number</text>
<polyline points="347.9,61.4 357.3,56.1 366.3,43.2 375.8,57.4 385.2,62 394.6,57" fill="none" stroke="#1a1a1a" stroke-width="0.9" stroke-linejoin="round"/>
<line x1="347.9" y1="61.4" x2="347.9" y2="55.7" stroke="#1a1a1a" stroke-width="0.8"/>
<line x1="347" y1="55.7" x2="348.8" y2="55.7" stroke="#1a1a1a" stroke-width="0.7"/>
<rect x="347.2" y="60.7" width="1.4" height="1.4" fill="#1a1a1a"/>
<line x1="357.3" y1="56.1" x2="357.3" y2="51.3" stroke="#1a1a1a" stroke-width="0.8"/>
<line x1="356.4" y1="51.3" x2="358.2" y2="51.3" stroke="#1a1a1a" stroke-width="0.7"/>
<rect x="356.6" y="55.4" width="1.4" height="1.4" fill="#1a1a1a"/>
<line x1="366.3" y1="43.2" x2="366.3" y2="38.8" stroke="#1a1a1a" stroke-width="0.8"/>
<line x1="365.4" y1="38.8" x2="367.2" y2="38.8" stroke="#1a1a1a" stroke-width="0.7"/>
<rect x="365.6" y="42.5" width="1.4" height="1.4" fill="#1a1a1a"/>
<line x1="375.8" y1="57.4" x2="375.8" y2="53.2" stroke="#1a1a1a" stroke-width="0.8"/>
<line x1="374.9" y1="53.2" x2="376.7" y2="53.2" stroke="#1a1a1a" stroke-width="0.7"/>
<rect x="375.1" y="56.7" width="1.4" height="1.4" fill="#1a1a1a"/>
<line x1="385.2" y1="62" x2="385.2" y2="59.5" stroke="#1a1a1a" stroke-width="0.8"/>
<line x1="384.3" y1="59.5" x2="386.1" y2="59.5" stroke="#1a1a1a" stroke-width="0.7"/>
<rect x="384.5" y="61.3" width="1.4" height="1.4" fill="#1a1a1a"/>
<line x1="394.6" y1="57" x2="394.6" y2="52" stroke="#1a1a1a" stroke-width="0.8"/>
<line x1="393.7" y1="52" x2="395.5" y2="52" stroke="#1a1a1a" stroke-width="0.7"/>
<rect x="393.9" y="56.3" width="1.4" height="1.4" fill="#1a1a1a"/>
<polyline points="347.9,55.7 357.3,50.3 366.3,36.9 375.8,50.1 385.2,50.7 394.6,50.1" fill="none" stroke="#ff2020" stroke-width="0.9" stroke-linejoin="round"/>
<line x1="347.9" y1="55.7" x2="347.9" y2="51.3" stroke="#ff2020" stroke-width="0.8"/>
<line x1="347" y1="51.3" x2="348.8" y2="51.3" stroke="#ff2020" stroke-width="0.7"/>
<rect x="347.2" y="55" width="1.4" height="1.4" fill="#ff2020"/>
<line x1="357.3" y1="50.3" x2="357.3" y2="46.3" stroke="#ff2020" stroke-width="0.8"/>
<line x1="356.4" y1="46.3" x2="358.2" y2="46.3" stroke="#ff2020" stroke-width="0.7"/>
<rect x="356.6" y="49.6" width="1.4" height="1.4" fill="#ff2020"/>
<line x1="366.3" y1="36.9" x2="366.3" y2="33.5" stroke="#ff2020" stroke-width="0.8"/>
<line x1="365.4" y1="33.5" x2="367.2" y2="33.5" stroke="#ff2020" stroke-width="0.7"/>
<rect x="365.6" y="36.2" width="1.4" height="1.4" fill="#ff2020"/>
<line x1="375.8" y1="50.1" x2="375.8" y2="43.2" stroke="#ff2020" stroke-width="0.8"/>
<line x1="374.9" y1="43.2" x2="376.7" y2="43.2" stroke="#ff2020" stroke-width="0.7"/>
<rect x="375.1" y="49.4" width="1.4" height="1.4" fill="#ff2020"/>
<line x1="385.2" y1="50.7" x2="385.2" y2="47.6" stroke="#ff2020" stroke-width="0.8"/>
<line x1="384.3" y1="47.6" x2="386.1" y2="47.6" stroke="#ff2020" stroke-width="0.7"/>
<rect x="384.5" y="50" width="1.4" height="1.4" fill="#ff2020"/>
<line x1="394.6" y1="50.1" x2="394.6" y2="42.8" stroke="#ff2020" stroke-width="0.8"/>
<line x1="393.7" y1="42.8" x2="395.5" y2="42.8" stroke="#ff2020" stroke-width="0.7"/>
<rect x="393.9" y="49.4" width="1.4" height="1.4" fill="#ff2020"/>
<circle cx="359" cy="23.2" r="1.1" fill="#222"/>
<circle cx="362.23" cy="23.2" r="1.1" fill="#222"/>
<circle cx="365.47" cy="23.2" r="1.1" fill="#222"/>
<circle cx="368.7" cy="23.2" r="1.1" fill="#222"/>
<line x1="371.4" y1="18.2" x2="371.4" y2="28.6" stroke="#333" stroke-width="0.9"/>
<line x1="372.3" y1="18.6" x2="378" y2="18.6" stroke="#1a1a1a" stroke-width="0.85"/>
<line x1="372.3" y1="27.4" x2="378" y2="27.4" stroke="#ff2020" stroke-width="0.85"/>
<text x="382" y="20.3" font-size="4.7" font-weight="bold" text-anchor="start" fill="#1a1a1a" >WT</text>
<text x="382" y="29.1" font-size="4.7" font-weight="bold" font-style="italic" fill="#ff2020">Aeg-1<tspan font-size="3.0" dx="0.3" dy="-2.0">fl/fl</tspan><tspan dx="0.2" dy="2.0">Cre</tspan><tspan font-size="3.0" dx="0.2" dy="-2.0">+</tspan></text>
<text transform="translate(414.9,11.65)" font-size="9.6" font-weight="bold" fill="#000" stroke="#000" stroke-width="0.2">A-4</text>
<line x1="436.9" y1="24.3" x2="436.9" y2="76.7" stroke="#b0b0b0" stroke-width="1.1"/>
<line x1="436.9" y1="24.6" x2="438.9" y2="24.6" stroke="#222" stroke-width="0.8"/>
<text x="435.8" y="26.11" font-size="4.2" font-weight="bold" text-anchor="end" fill="#222" stroke="#222" stroke-width="0.15" >500</text>
<line x1="436.9" y1="34.8" x2="438.9" y2="34.8" stroke="#222" stroke-width="0.8"/>
<text x="435.8" y="36.31" font-size="4.2" font-weight="bold" text-anchor="end" fill="#222" stroke="#222" stroke-width="0.15" >400</text>
<line x1="436.9" y1="45.3" x2="438.9" y2="45.3" stroke="#222" stroke-width="0.8"/>
<text x="435.8" y="46.81" font-size="4.2" font-weight="bold" text-anchor="end" fill="#222" stroke="#222" stroke-width="0.15" >300</text>
<line x1="436.9" y1="55.5" x2="438.9" y2="55.5" stroke="#222" stroke-width="0.8"/>
<text x="435.8" y="57.01" font-size="4.2" font-weight="bold" text-anchor="end" fill="#222" stroke="#222" stroke-width="0.15" >200</text>
<line x1="436.9" y1="65.9" x2="438.9" y2="65.9" stroke="#222" stroke-width="0.8"/>
<text x="435.8" y="67.41" font-size="4.2" font-weight="bold" text-anchor="end" fill="#222" stroke="#222" stroke-width="0.15" >100</text>
<line x1="436.9" y1="76.2" x2="438.9" y2="76.2" stroke="#222" stroke-width="0.8"/>
<text x="435.8" y="77.71" font-size="4.2" font-weight="bold" text-anchor="end" fill="#222" stroke="#222" stroke-width="0.15" >0</text>
<line x1="436.4" y1="76.2" x2="490" y2="76.2" stroke="#333" stroke-width="1.1"/>
<line x1="441.4" y1="74" x2="441.4" y2="76.2" stroke="#444" stroke-width="0.65"/>
<line x1="449.8" y1="74" x2="449.8" y2="76.2" stroke="#444" stroke-width="0.65"/>
<line x1="458.6" y1="74" x2="458.6" y2="76.2" stroke="#444" stroke-width="0.65"/>
<line x1="467.4" y1="74" x2="467.4" y2="76.2" stroke="#444" stroke-width="0.65"/>
<line x1="476.2" y1="74" x2="476.2" y2="76.2" stroke="#444" stroke-width="0.65"/>
<line x1="485" y1="74" x2="485" y2="76.2" stroke="#444" stroke-width="0.65"/>
<text x="441.6" y="81.75" font-size="4.7" font-weight="bold" text-anchor="middle" fill="#222" stroke="#222" stroke-width="0.12" >1d</text>
<text x="450" y="81.75" font-size="4.7" font-weight="bold" text-anchor="middle" fill="#222" stroke="#222" stroke-width="0.12" >2d</text>
<text x="458.8" y="81.75" font-size="4.7" font-weight="bold" text-anchor="middle" fill="#222" stroke="#222" stroke-width="0.12" >3d</text>
<text x="467.6" y="81.75" font-size="4.7" font-weight="bold" text-anchor="middle" fill="#222" stroke="#222" stroke-width="0.12" >4d</text>
<text x="476.4" y="81.75" font-size="4.7" font-weight="bold" text-anchor="middle" fill="#222" stroke="#222" stroke-width="0.12" >5d</text>
<text x="485.2" y="81.75" font-size="4.7" font-weight="bold" text-anchor="middle" fill="#222" stroke="#222" stroke-width="0.12" >6d</text>
<text transform="translate(420.58,49.9) rotate(-90)" font-size="4.68" font-weight="normal" text-anchor="middle" fill="#222" stroke="#222" stroke-width="0.08">Incorrect number of</text>
<text transform="translate(426.68,49.9) rotate(-90)" font-size="4.68" font-weight="normal" text-anchor="middle" fill="#222" stroke="#222" stroke-width="0.08">nosepoke</text>
<polyline points="441.4,68.3 449.8,62 458.6,48.3 467.4,61.6 476.2,68.9 485,63.3" fill="none" stroke="#1a1a1a" stroke-width="0.9" stroke-linejoin="round"/>
<line x1="441.4" y1="68.3" x2="441.4" y2="67" stroke="#1a1a1a" stroke-width="0.8"/>
<line x1="440.5" y1="67" x2="442.3" y2="67" stroke="#1a1a1a" stroke-width="0.7"/>
<rect x="440.7" y="67.6" width="1.4" height="1.4" fill="#1a1a1a"/>
<line x1="449.8" y1="62" x2="449.8" y2="60" stroke="#1a1a1a" stroke-width="0.8"/>
<line x1="448.9" y1="60" x2="450.7" y2="60" stroke="#1a1a1a" stroke-width="0.7"/>
<rect x="449.1" y="61.3" width="1.4" height="1.4" fill="#1a1a1a"/>
<line x1="458.6" y1="48.3" x2="458.6" y2="47" stroke="#1a1a1a" stroke-width="0.8"/>
<line x1="457.7" y1="47" x2="459.5" y2="47" stroke="#1a1a1a" stroke-width="0.7"/>
<rect x="457.9" y="47.6" width="1.4" height="1.4" fill="#1a1a1a"/>
<line x1="467.4" y1="61.6" x2="467.4" y2="59.5" stroke="#1a1a1a" stroke-width="0.8"/>
<line x1="466.5" y1="59.5" x2="468.3" y2="59.5" stroke="#1a1a1a" stroke-width="0.7"/>
<rect x="466.7" y="60.9" width="1.4" height="1.4" fill="#1a1a1a"/>
<line x1="476.2" y1="68.9" x2="476.2" y2="67.5" stroke="#1a1a1a" stroke-width="0.8"/>
<line x1="475.3" y1="67.5" x2="477.1" y2="67.5" stroke="#1a1a1a" stroke-width="0.7"/>
<rect x="475.5" y="68.2" width="1.4" height="1.4" fill="#1a1a1a"/>
<line x1="485" y1="63.3" x2="485" y2="61" stroke="#1a1a1a" stroke-width="0.8"/>
<line x1="484.1" y1="61" x2="485.9" y2="61" stroke="#1a1a1a" stroke-width="0.7"/>
<rect x="484.3" y="62.6" width="1.4" height="1.4" fill="#1a1a1a"/>
<polyline points="441.4,57.9 449.8,55.1 458.6,37.5 467.4,53.9 476.2,56.1 485,52" fill="none" stroke="#ff2020" stroke-width="0.9" stroke-linejoin="round"/>
<line x1="441.4" y1="57.9" x2="441.4" y2="56.5" stroke="#ff2020" stroke-width="0.8"/>
<line x1="440.5" y1="56.5" x2="442.3" y2="56.5" stroke="#ff2020" stroke-width="0.7"/>
<rect x="440.7" y="57.2" width="1.4" height="1.4" fill="#ff2020"/>
<line x1="449.8" y1="55.1" x2="449.8" y2="53.5" stroke="#ff2020" stroke-width="0.8"/>
<line x1="448.9" y1="53.5" x2="450.7" y2="53.5" stroke="#ff2020" stroke-width="0.7"/>
<rect x="449.1" y="54.4" width="1.4" height="1.4" fill="#ff2020"/>
<line x1="458.6" y1="37.5" x2="458.6" y2="36.3" stroke="#ff2020" stroke-width="0.8"/>
<line x1="457.7" y1="36.3" x2="459.5" y2="36.3" stroke="#ff2020" stroke-width="0.7"/>
<rect x="457.9" y="36.8" width="1.4" height="1.4" fill="#ff2020"/>
<line x1="467.4" y1="53.9" x2="467.4" y2="51.5" stroke="#ff2020" stroke-width="0.8"/>
<line x1="466.5" y1="51.5" x2="468.3" y2="51.5" stroke="#ff2020" stroke-width="0.7"/>
<rect x="466.7" y="53.2" width="1.4" height="1.4" fill="#ff2020"/>
<line x1="476.2" y1="56.1" x2="476.2" y2="54.5" stroke="#ff2020" stroke-width="0.8"/>
<line x1="475.3" y1="54.5" x2="477.1" y2="54.5" stroke="#ff2020" stroke-width="0.7"/>
<rect x="475.5" y="55.4" width="1.4" height="1.4" fill="#ff2020"/>
<line x1="485" y1="52" x2="485" y2="48.6" stroke="#ff2020" stroke-width="0.8"/>
<line x1="484.1" y1="48.6" x2="485.9" y2="48.6" stroke="#ff2020" stroke-width="0.7"/>
<rect x="484.3" y="51.3" width="1.4" height="1.4" fill="#ff2020"/>
<circle cx="451.9" cy="27.6" r="1.1" fill="#222"/>
<circle cx="455" cy="27.6" r="1.1" fill="#222"/>
<circle cx="458.1" cy="27.6" r="1.1" fill="#222"/>
<circle cx="461.2" cy="27.6" r="1.1" fill="#222"/>
<line x1="463.3" y1="22.6" x2="463.3" y2="32" stroke="#333" stroke-width="0.9"/>
<line x1="464.2" y1="22.8" x2="469.3" y2="22.8" stroke="#1a1a1a" stroke-width="0.85"/>
<line x1="464.2" y1="31.4" x2="469.3" y2="31.4" stroke="#ff2020" stroke-width="0.85"/>
<text x="472.8" y="24.5" font-size="4.7" font-weight="bold" text-anchor="start" fill="#1a1a1a" >WT</text>
<text x="472.8" y="33.1" font-size="4.7" font-weight="bold" font-style="italic" fill="#ff2020">Aeg-1<tspan font-size="3.0" dx="0.3" dy="-2.0">fl/fl</tspan><tspan dx="0.2" dy="2.0">Cre</tspan><tspan font-size="3.0" dx="0.2" dy="-2.0">+</tspan></text>
<text transform="translate(505.6,11.65)" font-size="9.6" font-weight="bold" fill="#000" stroke="#000" stroke-width="0.2">A-5</text>
<line x1="525.8" y1="22.4" x2="525.8" y2="76.6" stroke="#444" stroke-width="1"/>
<line x1="525.8" y1="22.7" x2="527.8" y2="22.7" stroke="#222" stroke-width="0.8"/>
<text x="524.7" y="24.21" font-size="4.2" font-weight="bold" text-anchor="end" fill="#222" stroke="#222" stroke-width="0.15" >6000</text>
<line x1="525.8" y1="40.6" x2="527.8" y2="40.6" stroke="#222" stroke-width="0.8"/>
<text x="524.7" y="42.11" font-size="4.2" font-weight="bold" text-anchor="end" fill="#222" stroke="#222" stroke-width="0.15" >4000</text>
<line x1="525.8" y1="58.6" x2="527.8" y2="58.6" stroke="#222" stroke-width="0.8"/>
<text x="524.7" y="60.11" font-size="4.2" font-weight="bold" text-anchor="end" fill="#222" stroke="#222" stroke-width="0.15" >2000</text>
<line x1="525.8" y1="76.1" x2="527.8" y2="76.1" stroke="#222" stroke-width="0.8"/>
<text x="524.7" y="77.61" font-size="4.2" font-weight="bold" text-anchor="end" fill="#222" stroke="#222" stroke-width="0.15" >0</text>
<line x1="525.3" y1="76.1" x2="580" y2="76.1" stroke="#444" stroke-width="1"/>
<line x1="530.2" y1="73.9" x2="530.2" y2="76.1" stroke="#444" stroke-width="0.65"/>
<line x1="539.2" y1="73.9" x2="539.2" y2="76.1" stroke="#444" stroke-width="0.65"/>
<line x1="548" y1="73.9" x2="548" y2="76.1" stroke="#444" stroke-width="0.65"/>
<line x1="557.4" y1="73.9" x2="557.4" y2="76.1" stroke="#444" stroke-width="0.65"/>
<line x1="566.2" y1="73.9" x2="566.2" y2="76.1" stroke="#444" stroke-width="0.65"/>
<line x1="575.4" y1="73.9" x2="575.4" y2="76.1" stroke="#444" stroke-width="0.65"/>
<text x="530.4" y="81.75" font-size="4.7" font-weight="bold" text-anchor="middle" fill="#222" stroke="#222" stroke-width="0.12" >1d</text>
<text x="539.4" y="81.75" font-size="4.7" font-weight="bold" text-anchor="middle" fill="#222" stroke="#222" stroke-width="0.12" >2d</text>
<text x="548.2" y="81.75" font-size="4.7" font-weight="bold" text-anchor="middle" fill="#222" stroke="#222" stroke-width="0.12" >3d</text>
<text x="557.6" y="81.75" font-size="4.7" font-weight="bold" text-anchor="middle" fill="#222" stroke="#222" stroke-width="0.12" >4d</text>
<text x="566.4" y="81.75" font-size="4.7" font-weight="bold" text-anchor="middle" fill="#222" stroke="#222" stroke-width="0.12" >5d</text>
<text x="575.6" y="81.75" font-size="4.7" font-weight="bold" text-anchor="middle" fill="#222" stroke="#222" stroke-width="0.12" >6d</text>
<text transform="translate(512.32,48.8) rotate(-90)" font-size="4.5" font-weight="bold" text-anchor="middle" fill="#222" stroke="#222" stroke-width="0.12">Total licks</text>
<polyline points="530.2,44.4 539.2,36.5 548,41.9 557.4,45.7 566.2,44.1 575.4,41.9" fill="none" stroke="#1a1a1a" stroke-width="0.9" stroke-linejoin="round"/>
<line x1="530.2" y1="44.4" x2="530.2" y2="39.8" stroke="#1a1a1a" stroke-width="0.8"/>
<line x1="529.3" y1="39.8" x2="531.1" y2="39.8" stroke="#1a1a1a" stroke-width="0.7"/>
<rect x="529.5" y="43.7" width="1.4" height="1.4" fill="#1a1a1a"/>
<line x1="539.2" y1="36.5" x2="539.2" y2="30.1" stroke="#1a1a1a" stroke-width="0.8"/>
<line x1="538.3" y1="30.1" x2="540.1" y2="30.1" stroke="#1a1a1a" stroke-width="0.7"/>
<rect x="538.5" y="35.8" width="1.4" height="1.4" fill="#1a1a1a"/>
<line x1="548" y1="41.9" x2="548" y2="38.8" stroke="#1a1a1a" stroke-width="0.8"/>
<line x1="547.1" y1="38.8" x2="548.9" y2="38.8" stroke="#1a1a1a" stroke-width="0.7"/>
<rect x="547.3" y="41.2" width="1.4" height="1.4" fill="#1a1a1a"/>
<line x1="557.4" y1="45.7" x2="557.4" y2="41.3" stroke="#1a1a1a" stroke-width="0.8"/>
<line x1="556.5" y1="41.3" x2="558.3" y2="41.3" stroke="#1a1a1a" stroke-width="0.7"/>
<rect x="556.7" y="45" width="1.4" height="1.4" fill="#1a1a1a"/>
<line x1="566.2" y1="44.1" x2="566.2" y2="40.3" stroke="#1a1a1a" stroke-width="0.8"/>
<line x1="565.3" y1="40.3" x2="567.1" y2="40.3" stroke="#1a1a1a" stroke-width="0.7"/>
<rect x="565.5" y="43.4" width="1.4" height="1.4" fill="#1a1a1a"/>
<line x1="575.4" y1="41.9" x2="575.4" y2="37.3" stroke="#1a1a1a" stroke-width="0.8"/>
<line x1="574.5" y1="37.3" x2="576.3" y2="37.3" stroke="#1a1a1a" stroke-width="0.7"/>
<rect x="574.7" y="41.2" width="1.4" height="1.4" fill="#1a1a1a"/>
<polyline points="530.2,59.1 539.2,56.6 548,58.2 557.4,59.9 566.2,57 575.4,55.1" fill="none" stroke="#ff2020" stroke-width="0.9" stroke-linejoin="round"/>
<line x1="530.2" y1="59.1" x2="530.2" y2="56.1" stroke="#ff2020" stroke-width="0.8"/>
<line x1="529.3" y1="56.1" x2="531.1" y2="56.1" stroke="#ff2020" stroke-width="0.7"/>
<rect x="529.5" y="58.4" width="1.4" height="1.4" fill="#ff2020"/>
<line x1="539.2" y1="56.6" x2="539.2" y2="52.3" stroke="#ff2020" stroke-width="0.8"/>
<line x1="538.3" y1="52.3" x2="540.1" y2="52.3" stroke="#ff2020" stroke-width="0.7"/>
<rect x="538.5" y="55.9" width="1.4" height="1.4" fill="#ff2020"/>
<line x1="548" y1="58.2" x2="548" y2="54.2" stroke="#ff2020" stroke-width="0.8"/>
<line x1="547.1" y1="54.2" x2="548.9" y2="54.2" stroke="#ff2020" stroke-width="0.7"/>
<rect x="547.3" y="57.5" width="1.4" height="1.4" fill="#ff2020"/>
<line x1="557.4" y1="59.9" x2="557.4" y2="55.7" stroke="#ff2020" stroke-width="0.8"/>
<line x1="556.5" y1="55.7" x2="558.3" y2="55.7" stroke="#ff2020" stroke-width="0.7"/>
<rect x="556.7" y="59.2" width="1.4" height="1.4" fill="#ff2020"/>
<line x1="566.2" y1="57" x2="566.2" y2="53.2" stroke="#ff2020" stroke-width="0.8"/>
<line x1="565.3" y1="53.2" x2="567.1" y2="53.2" stroke="#ff2020" stroke-width="0.7"/>
<rect x="565.5" y="56.3" width="1.4" height="1.4" fill="#ff2020"/>
<line x1="575.4" y1="55.1" x2="575.4" y2="52" stroke="#ff2020" stroke-width="0.8"/>
<line x1="574.5" y1="52" x2="576.3" y2="52" stroke="#ff2020" stroke-width="0.7"/>
<rect x="574.7" y="54.4" width="1.4" height="1.4" fill="#ff2020"/>
<circle cx="541.6" cy="22.6" r="1.1" fill="#222"/>
<circle cx="544.63" cy="22.6" r="1.1" fill="#222"/>
<circle cx="547.67" cy="22.6" r="1.1" fill="#222"/>
<circle cx="550.7" cy="22.6" r="1.1" fill="#222"/>
<line x1="553.4" y1="17.6" x2="553.4" y2="26.6" stroke="#333" stroke-width="0.9"/>
<line x1="554.3" y1="18.2" x2="559.7" y2="18.2" stroke="#1a1a1a" stroke-width="0.85"/>
<line x1="554.3" y1="25.7" x2="559.7" y2="25.7" stroke="#ff2020" stroke-width="0.85"/>
<text x="563.4" y="19.9" font-size="4.7" font-weight="bold" text-anchor="start" fill="#1a1a1a" >WT</text>
<text x="563.4" y="27.4" font-size="4.7" font-weight="bold" font-style="italic" fill="#ff2020">Aeg-1<tspan font-size="3.0" dx="0.3" dy="-2.0">fl/fl</tspan><tspan dx="0.2" dy="2.0">Cre</tspan><tspan font-size="3.0" dx="0.2" dy="-2.0">+</tspan></text>
<text transform="translate(593.5,11.65)" font-size="9.6" font-weight="bold" fill="#000" stroke="#000" stroke-width="0.2">A-6</text>
<line x1="618.5" y1="22.3" x2="618.5" y2="76.6" stroke="#a8a8a8" stroke-width="1.2"/>
<line x1="618.5" y1="22.6" x2="620.5" y2="22.6" stroke="#222" stroke-width="0.8"/>
<text x="617.4" y="24.11" font-size="4.2" font-weight="bold" text-anchor="end" fill="#222" stroke="#222" stroke-width="0.15" >100</text>
<line x1="618.5" y1="33.4" x2="620.5" y2="33.4" stroke="#222" stroke-width="0.8"/>
<text x="617.4" y="34.91" font-size="4.2" font-weight="bold" text-anchor="end" fill="#222" stroke="#222" stroke-width="0.15" >80</text>
<line x1="618.5" y1="44" x2="620.5" y2="44" stroke="#222" stroke-width="0.8"/>
<text x="617.4" y="45.51" font-size="4.2" font-weight="bold" text-anchor="end" fill="#222" stroke="#222" stroke-width="0.15" >60</text>
<line x1="618.5" y1="54.5" x2="620.5" y2="54.5" stroke="#222" stroke-width="0.8"/>
<text x="617.4" y="56.01" font-size="4.2" font-weight="bold" text-anchor="end" fill="#222" stroke="#222" stroke-width="0.15" >40</text>
<line x1="618.5" y1="65.3" x2="620.5" y2="65.3" stroke="#222" stroke-width="0.8"/>
<text x="617.4" y="66.81" font-size="4.2" font-weight="bold" text-anchor="end" fill="#222" stroke="#222" stroke-width="0.15" >20</text>
<line x1="618.5" y1="76.1" x2="620.5" y2="76.1" stroke="#222" stroke-width="0.8"/>
<text x="617.4" y="77.61" font-size="4.2" font-weight="bold" text-anchor="end" fill="#222" stroke="#222" stroke-width="0.15" >0</text>
<line x1="618" y1="76.1" x2="671.8" y2="76.1" stroke="#333" stroke-width="1.2"/>
<line x1="622.5" y1="73.9" x2="622.5" y2="76.1" stroke="#444" stroke-width="0.65"/>
<line x1="631.5" y1="73.9" x2="631.5" y2="76.1" stroke="#444" stroke-width="0.65"/>
<line x1="640.3" y1="73.9" x2="640.3" y2="76.1" stroke="#444" stroke-width="0.65"/>
<line x1="649.6" y1="73.9" x2="649.6" y2="76.1" stroke="#444" stroke-width="0.65"/>
<line x1="658.5" y1="73.9" x2="658.5" y2="76.1" stroke="#444" stroke-width="0.65"/>
<line x1="667.5" y1="73.9" x2="667.5" y2="76.1" stroke="#444" stroke-width="0.65"/>
<text x="622.7" y="81.45" font-size="4.7" font-weight="bold" text-anchor="middle" fill="#222" stroke="#222" stroke-width="0.12" >1d</text>
<text x="631.7" y="81.45" font-size="4.7" font-weight="bold" text-anchor="middle" fill="#222" stroke="#222" stroke-width="0.12" >2d</text>
<text x="640.5" y="81.45" font-size="4.7" font-weight="bold" text-anchor="middle" fill="#222" stroke="#222" stroke-width="0.12" >3d</text>
<text x="649.8" y="81.45" font-size="4.7" font-weight="bold" text-anchor="middle" fill="#222" stroke="#222" stroke-width="0.12" >4d</text>
<text x="658.7" y="81.45" font-size="4.7" font-weight="bold" text-anchor="middle" fill="#222" stroke="#222" stroke-width="0.12" >5d</text>
<text x="667.7" y="81.45" font-size="4.7" font-weight="bold" text-anchor="middle" fill="#222" stroke="#222" stroke-width="0.12" >6d</text>
<text transform="translate(603.91,50) rotate(-90)" font-size="4.46" font-weight="bold" text-anchor="middle" fill="#222" stroke="#222" stroke-width="0.12">Correct visit with</text>
<text transform="translate(609.51,50) rotate(-90)" font-size="4.46" font-weight="bold" text-anchor="middle" fill="#222" stroke="#222" stroke-width="0.12">a lick ( % )</text>
<polyline points="622.5,33.7 631.5,37.3 640.3,41.5 649.6,42.2 658.5,34.2 667.5,35.3" fill="none" stroke="#1a1a1a" stroke-width="0.9" stroke-linejoin="round"/>
<line x1="622.5" y1="33.7" x2="622.5" y2="32.4" stroke="#1a1a1a" stroke-width="0.8"/>
<line x1="621.6" y1="32.4" x2="623.4" y2="32.4" stroke="#1a1a1a" stroke-width="0.7"/>
<rect x="621.8" y="33" width="1.4" height="1.4" fill="#1a1a1a"/>
<line x1="631.5" y1="37.3" x2="631.5" y2="34" stroke="#1a1a1a" stroke-width="0.8"/>
<line x1="630.6" y1="34" x2="632.4" y2="34" stroke="#1a1a1a" stroke-width="0.7"/>
<rect x="630.8" y="36.6" width="1.4" height="1.4" fill="#1a1a1a"/>
<line x1="640.3" y1="41.5" x2="640.3" y2="40" stroke="#1a1a1a" stroke-width="0.8"/>
<line x1="639.4" y1="40" x2="641.2" y2="40" stroke="#1a1a1a" stroke-width="0.7"/>
<rect x="639.6" y="40.8" width="1.4" height="1.4" fill="#1a1a1a"/>
<line x1="649.6" y1="42.2" x2="649.6" y2="37.8" stroke="#1a1a1a" stroke-width="0.8"/>
<line x1="648.7" y1="37.8" x2="650.5" y2="37.8" stroke="#1a1a1a" stroke-width="0.7"/>
<rect x="648.9" y="41.5" width="1.4" height="1.4" fill="#1a1a1a"/>
<line x1="658.5" y1="34.2" x2="658.5" y2="32.8" stroke="#1a1a1a" stroke-width="0.8"/>
<line x1="657.6" y1="32.8" x2="659.4" y2="32.8" stroke="#1a1a1a" stroke-width="0.7"/>
<rect x="657.8" y="33.5" width="1.4" height="1.4" fill="#1a1a1a"/>
<line x1="667.5" y1="35.3" x2="667.5" y2="33.4" stroke="#1a1a1a" stroke-width="0.8"/>
<line x1="666.6" y1="33.4" x2="668.4" y2="33.4" stroke="#1a1a1a" stroke-width="0.7"/>
<rect x="666.8" y="34.6" width="1.4" height="1.4" fill="#1a1a1a"/>
<polyline points="622.5,42.2 631.5,50.4 640.3,51.2 649.6,57.2 658.5,47.4 667.5,47.4" fill="none" stroke="#ff2020" stroke-width="0.9" stroke-linejoin="round"/>
<line x1="622.5" y1="42.2" x2="622.5" y2="39.2" stroke="#ff2020" stroke-width="0.8"/>
<line x1="621.6" y1="39.2" x2="623.4" y2="39.2" stroke="#ff2020" stroke-width="0.7"/>
<rect x="621.8" y="41.5" width="1.4" height="1.4" fill="#ff2020"/>
<line x1="631.5" y1="50.4" x2="631.5" y2="45.8" stroke="#ff2020" stroke-width="0.8"/>
<line x1="630.6" y1="45.8" x2="632.4" y2="45.8" stroke="#ff2020" stroke-width="0.7"/>
<rect x="630.8" y="49.7" width="1.4" height="1.4" fill="#ff2020"/>
<line x1="640.3" y1="51.2" x2="640.3" y2="49.1" stroke="#ff2020" stroke-width="0.8"/>
<line x1="639.4" y1="49.1" x2="641.2" y2="49.1" stroke="#ff2020" stroke-width="0.7"/>
<rect x="639.6" y="50.5" width="1.4" height="1.4" fill="#ff2020"/>
<line x1="649.6" y1="57.2" x2="649.6" y2="52.4" stroke="#ff2020" stroke-width="0.8"/>
<line x1="648.7" y1="52.4" x2="650.5" y2="52.4" stroke="#ff2020" stroke-width="0.7"/>
<rect x="648.9" y="56.5" width="1.4" height="1.4" fill="#ff2020"/>
<line x1="658.5" y1="47.4" x2="658.5" y2="43.3" stroke="#ff2020" stroke-width="0.8"/>
<line x1="657.6" y1="43.3" x2="659.4" y2="43.3" stroke="#ff2020" stroke-width="0.7"/>
<rect x="657.8" y="46.7" width="1.4" height="1.4" fill="#ff2020"/>
<line x1="667.5" y1="47.4" x2="667.5" y2="44.2" stroke="#ff2020" stroke-width="0.8"/>
<line x1="666.6" y1="44.2" x2="668.4" y2="44.2" stroke="#ff2020" stroke-width="0.7"/>
<rect x="666.8" y="46.7" width="1.4" height="1.4" fill="#ff2020"/>
<circle cx="632.7" cy="23.2" r="1.1" fill="#222"/>
<circle cx="635.7" cy="23.2" r="1.1" fill="#222"/>
<circle cx="638.7" cy="23.2" r="1.1" fill="#222"/>
<circle cx="641.7" cy="23.2" r="1.1" fill="#222"/>
<line x1="644.4" y1="18.8" x2="644.4" y2="26.6" stroke="#333" stroke-width="0.9"/>
<line x1="645.3" y1="19.5" x2="651.3" y2="19.5" stroke="#1a1a1a" stroke-width="0.85"/>
<line x1="645.3" y1="26.6" x2="651.3" y2="26.6" stroke="#ff2020" stroke-width="0.85"/>
<text x="655" y="21.2" font-size="4.7" font-weight="bold" text-anchor="start" fill="#1a1a1a" >WT</text>
<text x="655" y="28.3" font-size="4.7" font-weight="bold" font-style="italic" fill="#ff2020">Aeg-1<tspan font-size="3.0" dx="0.3" dy="-2.0">fl/fl</tspan><tspan dx="0.2" dy="2.0">Cre</tspan><tspan font-size="3.0" dx="0.2" dy="-2.0">+</tspan></text>
<text transform="translate(147.8,98.25)" font-size="9.6" font-weight="bold" fill="#000" stroke="#000" stroke-width="0.2">B-1</text>
<line x1="165.5" y1="108.7" x2="165.5" y2="165.1" stroke="#777" stroke-width="1"/>
<line x1="165.5" y1="109" x2="167.5" y2="109" stroke="#222" stroke-width="0.8"/>
<text x="164.4" y="110.58" font-size="4.4" font-weight="bold" text-anchor="end" fill="#222" stroke="#222" stroke-width="0.15" >200</text>
<line x1="165.5" y1="118.3" x2="167.5" y2="118.3" stroke="#222" stroke-width="0.8"/>
<text x="164.4" y="119.88" font-size="4.4" font-weight="bold" text-anchor="end" fill="#222" stroke="#222" stroke-width="0.15" >180</text>
<line x1="165.5" y1="127.6" x2="167.5" y2="127.6" stroke="#222" stroke-width="0.8"/>
<text x="164.4" y="129.18" font-size="4.4" font-weight="bold" text-anchor="end" fill="#222" stroke="#222" stroke-width="0.15" >160</text>
<line x1="165.5" y1="136.9" x2="167.5" y2="136.9" stroke="#222" stroke-width="0.8"/>
<text x="164.4" y="138.48" font-size="4.4" font-weight="bold" text-anchor="end" fill="#222" stroke="#222" stroke-width="0.15" >140</text>
<line x1="165.5" y1="146.1" x2="167.5" y2="146.1" stroke="#222" stroke-width="0.8"/>
<text x="164.4" y="147.68" font-size="4.4" font-weight="bold" text-anchor="end" fill="#222" stroke="#222" stroke-width="0.15" >120</text>
<line x1="165.5" y1="155.4" x2="167.5" y2="155.4" stroke="#222" stroke-width="0.8"/>
<text x="164.4" y="156.98" font-size="4.4" font-weight="bold" text-anchor="end" fill="#222" stroke="#222" stroke-width="0.15" >100</text>
<line x1="165.5" y1="164.6" x2="167.5" y2="164.6" stroke="#222" stroke-width="0.8"/>
<text x="164.4" y="166.18" font-size="4.4" font-weight="bold" text-anchor="end" fill="#222" stroke="#222" stroke-width="0.15" >80</text>
<line x1="165" y1="164.6" x2="221.1" y2="164.6" stroke="#777" stroke-width="1"/>
<line x1="170.1" y1="162.4" x2="170.1" y2="164.6" stroke="#444" stroke-width="0.65"/>
<line x1="179.3" y1="162.4" x2="179.3" y2="164.6" stroke="#444" stroke-width="0.65"/>
<line x1="188.7" y1="162.4" x2="188.7" y2="164.6" stroke="#444" stroke-width="0.65"/>
<line x1="198.1" y1="162.4" x2="198.1" y2="164.6" stroke="#444" stroke-width="0.65"/>
<line x1="207.3" y1="162.4" x2="207.3" y2="164.6" stroke="#444" stroke-width="0.65"/>
<line x1="216.6" y1="162.4" x2="216.6" y2="164.6" stroke="#444" stroke-width="0.65"/>
<text x="170.3" y="169.85" font-size="4.7" font-weight="bold" text-anchor="middle" fill="#222" stroke="#222" stroke-width="0.12" >1d</text>
<text x="179.5" y="169.85" font-size="4.7" font-weight="bold" text-anchor="middle" fill="#222" stroke="#222" stroke-width="0.12" >2d</text>
<text x="188.9" y="169.85" font-size="4.7" font-weight="bold" text-anchor="middle" fill="#222" stroke="#222" stroke-width="0.12" >3d</text>
<text x="198.3" y="169.85" font-size="4.7" font-weight="bold" text-anchor="middle" fill="#222" stroke="#222" stroke-width="0.12" >4d</text>
<text x="207.5" y="169.85" font-size="4.7" font-weight="bold" text-anchor="middle" fill="#222" stroke="#222" stroke-width="0.12" >5d</text>
<text x="216.8" y="169.85" font-size="4.7" font-weight="bold" text-anchor="middle" fill="#222" stroke="#222" stroke-width="0.12" >6d</text>
<text transform="translate(153.95,135.8) rotate(-90)" font-size="4.3" font-weight="bold" text-anchor="middle" fill="#222" stroke="#222" stroke-width="0.12">Total visits</text>
<polyline points="170.1,155.5 179.3,137.3 188.7,144.4 198.1,145 207.3,145.2 216.6,142.4" fill="none" stroke="#1a1a1a" stroke-width="0.9" stroke-linejoin="round"/>
<line x1="170.1" y1="155.5" x2="170.1" y2="152.8" stroke="#1a1a1a" stroke-width="0.8"/>
<line x1="169.2" y1="152.8" x2="171" y2="152.8" stroke="#1a1a1a" stroke-width="0.7"/>
<rect x="169.4" y="154.8" width="1.4" height="1.4" fill="#1a1a1a"/>
<line x1="179.3" y1="137.3" x2="179.3" y2="134.6" stroke="#1a1a1a" stroke-width="0.8"/>
<line x1="178.4" y1="134.6" x2="180.2" y2="134.6" stroke="#1a1a1a" stroke-width="0.7"/>
<rect x="178.6" y="136.6" width="1.4" height="1.4" fill="#1a1a1a"/>
<line x1="188.7" y1="144.4" x2="188.7" y2="142.5" stroke="#1a1a1a" stroke-width="0.8"/>
<line x1="187.8" y1="142.5" x2="189.6" y2="142.5" stroke="#1a1a1a" stroke-width="0.7"/>
<rect x="188" y="143.7" width="1.4" height="1.4" fill="#1a1a1a"/>
<line x1="198.1" y1="145" x2="198.1" y2="143.5" stroke="#1a1a1a" stroke-width="0.8"/>
<line x1="197.2" y1="143.5" x2="199" y2="143.5" stroke="#1a1a1a" stroke-width="0.7"/>
<rect x="197.4" y="144.3" width="1.4" height="1.4" fill="#1a1a1a"/>
<line x1="207.3" y1="145.2" x2="207.3" y2="143.7" stroke="#1a1a1a" stroke-width="0.8"/>
<line x1="206.4" y1="143.7" x2="208.2" y2="143.7" stroke="#1a1a1a" stroke-width="0.7"/>
<rect x="206.6" y="144.5" width="1.4" height="1.4" fill="#1a1a1a"/>
<line x1="216.6" y1="142.4" x2="216.6" y2="140.1" stroke="#1a1a1a" stroke-width="0.8"/>
<line x1="215.7" y1="140.1" x2="217.5" y2="140.1" stroke="#1a1a1a" stroke-width="0.7"/>
<rect x="215.9" y="141.7" width="1.4" height="1.4" fill="#1a1a1a"/>
<polyline points="170.1,138.3 179.3,126 188.7,133 198.1,136.9 207.3,132.6 216.6,124.8" fill="none" stroke="#ff2020" stroke-width="0.9" stroke-linejoin="round"/>
<line x1="170.1" y1="138.3" x2="170.1" y2="133" stroke="#ff2020" stroke-width="0.8"/>
<line x1="169.2" y1="133" x2="171" y2="133" stroke="#ff2020" stroke-width="0.7"/>
<rect x="169.4" y="137.6" width="1.4" height="1.4" fill="#ff2020"/>
<line x1="179.3" y1="126" x2="179.3" y2="121.6" stroke="#ff2020" stroke-width="0.8"/>
<line x1="178.4" y1="121.6" x2="180.2" y2="121.6" stroke="#ff2020" stroke-width="0.7"/>
<rect x="178.6" y="125.3" width="1.4" height="1.4" fill="#ff2020"/>
<line x1="188.7" y1="133" x2="188.7" y2="129.8" stroke="#ff2020" stroke-width="0.8"/>
<line x1="187.8" y1="129.8" x2="189.6" y2="129.8" stroke="#ff2020" stroke-width="0.7"/>
<rect x="188" y="132.3" width="1.4" height="1.4" fill="#ff2020"/>
<line x1="198.1" y1="136.9" x2="198.1" y2="134" stroke="#ff2020" stroke-width="0.8"/>
<line x1="197.2" y1="134" x2="199" y2="134" stroke="#ff2020" stroke-width="0.7"/>
<rect x="197.4" y="136.2" width="1.4" height="1.4" fill="#ff2020"/>
<line x1="207.3" y1="132.6" x2="207.3" y2="127.9" stroke="#ff2020" stroke-width="0.8"/>
<line x1="206.4" y1="127.9" x2="208.2" y2="127.9" stroke="#ff2020" stroke-width="0.7"/>
<rect x="206.6" y="131.9" width="1.4" height="1.4" fill="#ff2020"/>
<line x1="216.6" y1="124.8" x2="216.6" y2="117.3" stroke="#ff2020" stroke-width="0.8"/>
<line x1="215.7" y1="117.3" x2="217.5" y2="117.3" stroke="#ff2020" stroke-width="0.7"/>
<rect x="215.9" y="124.1" width="1.4" height="1.4" fill="#ff2020"/>
<circle cx="181.7" cy="105.8" r="1.1" fill="#222"/>
<circle cx="184.8" cy="105.8" r="1.1" fill="#222"/>
<circle cx="187.9" cy="105.8" r="1.1" fill="#222"/>
<circle cx="191" cy="105.8" r="1.1" fill="#222"/>
<line x1="193.5" y1="101.3" x2="193.5" y2="109.9" stroke="#333" stroke-width="0.9"/>
<line x1="194.4" y1="101.7" x2="200" y2="101.7" stroke="#1a1a1a" stroke-width="0.85"/>
<line x1="194.4" y1="109.2" x2="200" y2="109.2" stroke="#ff2020" stroke-width="0.85"/>
<text x="204" y="103.4" font-size="4.7" font-weight="bold" text-anchor="start" fill="#1a1a1a" >WT</text>
<text x="204" y="110.9" font-size="4.7" font-weight="bold" font-style="italic" fill="#ff2020">Aeg-1<tspan font-size="3.0" dx="0.3" dy="-2.0">fl/fl</tspan><tspan dx="0.2" dy="2.0">Cre</tspan><tspan font-size="3.0" dx="0.2" dy="-2.0">+</tspan></text>
<text transform="translate(233.8,98.25)" font-size="9.6" font-weight="bold" fill="#000" stroke="#000" stroke-width="0.2">B-2</text>
<line x1="252.7" y1="106.8" x2="252.7" y2="165.1" stroke="#444" stroke-width="1"/>
<line x1="252.7" y1="107.1" x2="254.7" y2="107.1" stroke="#222" stroke-width="0.8"/>
<text x="251.6" y="108.61" font-size="4.2" font-weight="bold" text-anchor="end" fill="#222" stroke="#222" stroke-width="0.15" >45</text>
<line x1="252.7" y1="126.3" x2="254.7" y2="126.3" stroke="#222" stroke-width="0.8"/>
<text x="251.6" y="127.81" font-size="4.2" font-weight="bold" text-anchor="end" fill="#222" stroke="#222" stroke-width="0.15" >40</text>
<line x1="252.7" y1="145.4" x2="254.7" y2="145.4" stroke="#222" stroke-width="0.8"/>
<text x="251.6" y="146.91" font-size="4.2" font-weight="bold" text-anchor="end" fill="#222" stroke="#222" stroke-width="0.15" >35</text>
<line x1="252.7" y1="164.6" x2="254.7" y2="164.6" stroke="#222" stroke-width="0.8"/>
<text x="251.6" y="166.11" font-size="4.2" font-weight="bold" text-anchor="end" fill="#222" stroke="#222" stroke-width="0.15" >30</text>
<line x1="252.2" y1="164.6" x2="310.1" y2="164.6" stroke="#444" stroke-width="1"/>
<line x1="257.4" y1="162.4" x2="257.4" y2="164.6" stroke="#444" stroke-width="0.65"/>
<line x1="266.9" y1="162.4" x2="266.9" y2="164.6" stroke="#444" stroke-width="0.65"/>
<line x1="276.6" y1="162.4" x2="276.6" y2="164.6" stroke="#444" stroke-width="0.65"/>
<line x1="286" y1="162.4" x2="286" y2="164.6" stroke="#444" stroke-width="0.65"/>
<line x1="295.7" y1="162.4" x2="295.7" y2="164.6" stroke="#444" stroke-width="0.65"/>
<line x1="305.2" y1="162.4" x2="305.2" y2="164.6" stroke="#444" stroke-width="0.65"/>
<text x="257.6" y="170.05" font-size="4.7" font-weight="bold" text-anchor="middle" fill="#222" stroke="#222" stroke-width="0.12" >1d</text>
<text x="267.1" y="170.05" font-size="4.7" font-weight="bold" text-anchor="middle" fill="#222" stroke="#222" stroke-width="0.12" >2d</text>
<text x="276.8" y="170.05" font-size="4.7" font-weight="bold" text-anchor="middle" fill="#222" stroke="#222" stroke-width="0.12" >3d</text>
<text x="286.2" y="170.05" font-size="4.7" font-weight="bold" text-anchor="middle" fill="#222" stroke="#222" stroke-width="0.12" >4d</text>
<text x="295.9" y="170.05" font-size="4.7" font-weight="bold" text-anchor="middle" fill="#222" stroke="#222" stroke-width="0.12" >5d</text>
<text x="305.4" y="170.05" font-size="4.7" font-weight="bold" text-anchor="middle" fill="#222" stroke="#222" stroke-width="0.12" >6d</text>
<text transform="translate(243.21,135.9) rotate(-90)" font-size="5.3" font-weight="normal" text-anchor="middle" fill="#222" stroke="#222" stroke-width="0.08">Correct visit ( % )</text>
<polyline points="257.4,125.4 266.9,151.7 276.6,155.5 286,153.3 295.7,154.2 305.2,157.6" fill="none" stroke="#1a1a1a" stroke-width="0.9" stroke-linejoin="round"/>
<line x1="257.4" y1="125.4" x2="257.4" y2="119.1" stroke="#1a1a1a" stroke-width="0.8"/>
<line x1="256.5" y1="119.1" x2="258.3" y2="119.1" stroke="#1a1a1a" stroke-width="0.7"/>
<rect x="256.7" y="124.7" width="1.4" height="1.4" fill="#1a1a1a"/>
<line x1="266.9" y1="151.7" x2="266.9" y2="145" stroke="#1a1a1a" stroke-width="0.8"/>
<line x1="266" y1="145" x2="267.8" y2="145" stroke="#1a1a1a" stroke-width="0.7"/>
<rect x="266.2" y="151" width="1.4" height="1.4" fill="#1a1a1a"/>
<line x1="276.6" y1="155.5" x2="276.6" y2="150.1" stroke="#1a1a1a" stroke-width="0.8"/>
<line x1="275.7" y1="150.1" x2="277.5" y2="150.1" stroke="#1a1a1a" stroke-width="0.7"/>
<rect x="275.9" y="154.8" width="1.4" height="1.4" fill="#1a1a1a"/>
<line x1="286" y1="153.3" x2="286" y2="151" stroke="#1a1a1a" stroke-width="0.8"/>
<line x1="285.1" y1="151" x2="286.9" y2="151" stroke="#1a1a1a" stroke-width="0.7"/>
<rect x="285.3" y="152.6" width="1.4" height="1.4" fill="#1a1a1a"/>
<line x1="295.7" y1="154.2" x2="295.7" y2="150.8" stroke="#1a1a1a" stroke-width="0.8"/>
<line x1="294.8" y1="150.8" x2="296.6" y2="150.8" stroke="#1a1a1a" stroke-width="0.7"/>
<rect x="295" y="153.5" width="1.4" height="1.4" fill="#1a1a1a"/>
<line x1="305.2" y1="157.6" x2="305.2" y2="153.8" stroke="#1a1a1a" stroke-width="0.8"/>
<line x1="304.3" y1="153.8" x2="306.1" y2="153.8" stroke="#1a1a1a" stroke-width="0.7"/>
<rect x="304.5" y="156.9" width="1.4" height="1.4" fill="#1a1a1a"/>
<polyline points="257.4,125.4 266.9,151.7 276.6,159.6 286,152.3 295.7,149.8 305.2,143.3" fill="none" stroke="#ff2020" stroke-width="0.9" stroke-linejoin="round"/>
<line x1="257.4" y1="125.4" x2="257.4" y2="111.1" stroke="#ff2020" stroke-width="0.8"/>
<line x1="256.5" y1="111.1" x2="258.3" y2="111.1" stroke="#ff2020" stroke-width="0.7"/>
<rect x="256.7" y="124.7" width="1.4" height="1.4" fill="#ff2020"/>
<line x1="266.9" y1="151.7" x2="266.9" y2="150" stroke="#ff2020" stroke-width="0.8"/>
<line x1="266" y1="150" x2="267.8" y2="150" stroke="#ff2020" stroke-width="0.7"/>
<rect x="266.2" y="151" width="1.4" height="1.4" fill="#ff2020"/>
<line x1="276.6" y1="159.6" x2="276.6" y2="158" stroke="#ff2020" stroke-width="0.8"/>
<line x1="275.7" y1="158" x2="277.5" y2="158" stroke="#ff2020" stroke-width="0.7"/>
<rect x="275.9" y="158.9" width="1.4" height="1.4" fill="#ff2020"/>
<line x1="286" y1="152.3" x2="286" y2="139.1" stroke="#ff2020" stroke-width="0.8"/>
<line x1="285.1" y1="139.1" x2="286.9" y2="139.1" stroke="#ff2020" stroke-width="0.7"/>
<rect x="285.3" y="151.6" width="1.4" height="1.4" fill="#ff2020"/>
<line x1="295.7" y1="149.8" x2="295.7" y2="137" stroke="#ff2020" stroke-width="0.8"/>
<line x1="294.8" y1="137" x2="296.6" y2="137" stroke="#ff2020" stroke-width="0.7"/>
<rect x="295" y="149.1" width="1.4" height="1.4" fill="#ff2020"/>
<line x1="305.2" y1="143.3" x2="305.2" y2="135.3" stroke="#ff2020" stroke-width="0.8"/>
<line x1="304.3" y1="135.3" x2="306.1" y2="135.3" stroke="#ff2020" stroke-width="0.7"/>
<rect x="304.5" y="142.6" width="1.4" height="1.4" fill="#ff2020"/>
<text x="272.8" y="112.4" font-size="4.6" font-weight="bold" text-anchor="middle" fill="#222" stroke="#222" stroke-width="0.1" >ns</text>
<line x1="276.2" y1="104.8" x2="276.2" y2="115.5" stroke="#333" stroke-width="0.9"/>
<line x1="277.1" y1="105.8" x2="283.5" y2="105.8" stroke="#1a1a1a" stroke-width="0.85"/>
<line x1="277.1" y1="114.2" x2="283.5" y2="114.2" stroke="#ff2020" stroke-width="0.85"/>
<text x="287.9" y="107.5" font-size="4.7" font-weight="bold" text-anchor="start" fill="#1a1a1a" >WT</text>
<text x="287.9" y="115.9" font-size="4.7" font-weight="bold" font-style="italic" fill="#ff2020">Aeg-1<tspan font-size="3.0" dx="0.3" dy="-2.0">fl/fl</tspan><tspan dx="0.2" dy="2.0">Cre</tspan><tspan font-size="3.0" dx="0.2" dy="-2.0">+</tspan></text>
<text transform="translate(326.1,98.25)" font-size="9.6" font-weight="bold" fill="#000" stroke="#000" stroke-width="0.2">B-3</text>
<line x1="344" y1="109.1" x2="344" y2="164.7" stroke="#444" stroke-width="1"/>
<line x1="344" y1="109.4" x2="346" y2="109.4" stroke="#222" stroke-width="0.8"/>
<text x="342.9" y="110.91" font-size="4.2" font-weight="bold" text-anchor="end" fill="#222" stroke="#222" stroke-width="0.15" >1000</text>
<line x1="344" y1="120.2" x2="346" y2="120.2" stroke="#222" stroke-width="0.8"/>
<text x="342.9" y="121.71" font-size="4.2" font-weight="bold" text-anchor="end" fill="#222" stroke="#222" stroke-width="0.15" >800</text>
<line x1="344" y1="131.5" x2="346" y2="131.5" stroke="#222" stroke-width="0.8"/>
<text x="342.9" y="133.01" font-size="4.2" font-weight="bold" text-anchor="end" fill="#222" stroke="#222" stroke-width="0.15" >600</text>
<line x1="344" y1="142.5" x2="346" y2="142.5" stroke="#222" stroke-width="0.8"/>
<text x="342.9" y="144.01" font-size="4.2" font-weight="bold" text-anchor="end" fill="#222" stroke="#222" stroke-width="0.15" >400</text>
<line x1="344" y1="153.4" x2="346" y2="153.4" stroke="#222" stroke-width="0.8"/>
<text x="342.9" y="154.91" font-size="4.2" font-weight="bold" text-anchor="end" fill="#222" stroke="#222" stroke-width="0.15" >200</text>
<line x1="344" y1="164.2" x2="346" y2="164.2" stroke="#222" stroke-width="0.8"/>
<text x="342.9" y="165.71" font-size="4.2" font-weight="bold" text-anchor="end" fill="#222" stroke="#222" stroke-width="0.15" >0</text>
<line x1="343.5" y1="164.2" x2="399.6" y2="164.2" stroke="#444" stroke-width="1"/>
<line x1="348.4" y1="162" x2="348.4" y2="164.2" stroke="#444" stroke-width="0.65"/>
<line x1="357.9" y1="162" x2="357.9" y2="164.2" stroke="#444" stroke-width="0.65"/>
<line x1="367.2" y1="162" x2="367.2" y2="164.2" stroke="#444" stroke-width="0.65"/>
<line x1="376.4" y1="162" x2="376.4" y2="164.2" stroke="#444" stroke-width="0.65"/>
<line x1="385.8" y1="162" x2="385.8" y2="164.2" stroke="#444" stroke-width="0.65"/>
<line x1="395.2" y1="162" x2="395.2" y2="164.2" stroke="#444" stroke-width="0.65"/>
<text x="348.6" y="169.85" font-size="4.7" font-weight="bold" text-anchor="middle" fill="#222" stroke="#222" stroke-width="0.12" >1d</text>
<text x="358.1" y="169.85" font-size="4.7" font-weight="bold" text-anchor="middle" fill="#222" stroke="#222" stroke-width="0.12" >2d</text>
<text x="367.4" y="169.85" font-size="4.7" font-weight="bold" text-anchor="middle" fill="#222" stroke="#222" stroke-width="0.12" >3d</text>
<text x="376.6" y="169.85" font-size="4.7" font-weight="bold" text-anchor="middle" fill="#222" stroke="#222" stroke-width="0.12" >4d</text>
<text x="386" y="169.85" font-size="4.7" font-weight="bold" text-anchor="middle" fill="#222" stroke="#222" stroke-width="0.12" >5d</text>
<text x="395.4" y="169.85" font-size="4.7" font-weight="bold" text-anchor="middle" fill="#222" stroke="#222" stroke-width="0.12" >6d</text>
<text transform="translate(332.06,137.3) rotate(-90)" font-size="4.33" font-weight="bold" text-anchor="middle" fill="#222" stroke="#222" stroke-width="0.12">Nosepoke number</text>
<polyline points="348.4,146.8 357.9,139.5 367.2,140.8 376.4,138.6 385.8,138.8 395.2,136" fill="none" stroke="#1a1a1a" stroke-width="0.9" stroke-linejoin="round"/>
<line x1="348.4" y1="146.8" x2="348.4" y2="144.8" stroke="#1a1a1a" stroke-width="0.8"/>
<line x1="347.5" y1="144.8" x2="349.3" y2="144.8" stroke="#1a1a1a" stroke-width="0.7"/>
<rect x="347.7" y="146.1" width="1.4" height="1.4" fill="#1a1a1a"/>
<line x1="357.9" y1="139.5" x2="357.9" y2="137.8" stroke="#1a1a1a" stroke-width="0.8"/>
<line x1="357" y1="137.8" x2="358.8" y2="137.8" stroke="#1a1a1a" stroke-width="0.7"/>
<rect x="357.2" y="138.8" width="1.4" height="1.4" fill="#1a1a1a"/>
<line x1="367.2" y1="140.8" x2="367.2" y2="139.2" stroke="#1a1a1a" stroke-width="0.8"/>
<line x1="366.3" y1="139.2" x2="368.1" y2="139.2" stroke="#1a1a1a" stroke-width="0.7"/>
<rect x="366.5" y="140.1" width="1.4" height="1.4" fill="#1a1a1a"/>
<line x1="376.4" y1="138.6" x2="376.4" y2="135.4" stroke="#1a1a1a" stroke-width="0.8"/>
<line x1="375.5" y1="135.4" x2="377.3" y2="135.4" stroke="#1a1a1a" stroke-width="0.7"/>
<rect x="375.7" y="137.9" width="1.4" height="1.4" fill="#1a1a1a"/>
<line x1="385.8" y1="138.8" x2="385.8" y2="136.7" stroke="#1a1a1a" stroke-width="0.8"/>
<line x1="384.9" y1="136.7" x2="386.7" y2="136.7" stroke="#1a1a1a" stroke-width="0.7"/>
<rect x="385.1" y="138.1" width="1.4" height="1.4" fill="#1a1a1a"/>
<line x1="395.2" y1="136" x2="395.2" y2="132.4" stroke="#1a1a1a" stroke-width="0.8"/>
<line x1="394.3" y1="132.4" x2="396.1" y2="132.4" stroke="#1a1a1a" stroke-width="0.7"/>
<rect x="394.5" y="135.3" width="1.4" height="1.4" fill="#1a1a1a"/>
<polyline points="348.4,140.3 357.9,133.7 367.2,131.5 376.4,135.3 385.8,132.8 395.2,123" fill="none" stroke="#ff2020" stroke-width="0.9" stroke-linejoin="round"/>
<line x1="348.4" y1="140.3" x2="348.4" y2="138.7" stroke="#ff2020" stroke-width="0.8"/>
<line x1="347.5" y1="138.7" x2="349.3" y2="138.7" stroke="#ff2020" stroke-width="0.7"/>
<rect x="347.7" y="139.6" width="1.4" height="1.4" fill="#ff2020"/>
<line x1="357.9" y1="133.7" x2="357.9" y2="132.4" stroke="#ff2020" stroke-width="0.8"/>
<line x1="357" y1="132.4" x2="358.8" y2="132.4" stroke="#ff2020" stroke-width="0.7"/>
<rect x="357.2" y="133" width="1.4" height="1.4" fill="#ff2020"/>
<line x1="367.2" y1="131.5" x2="367.2" y2="128.6" stroke="#ff2020" stroke-width="0.8"/>
<line x1="366.3" y1="128.6" x2="368.1" y2="128.6" stroke="#ff2020" stroke-width="0.7"/>
<rect x="366.5" y="130.8" width="1.4" height="1.4" fill="#ff2020"/>
<line x1="376.4" y1="135.3" x2="376.4" y2="133" stroke="#ff2020" stroke-width="0.8"/>
<line x1="375.5" y1="133" x2="377.3" y2="133" stroke="#ff2020" stroke-width="0.7"/>
<rect x="375.7" y="134.6" width="1.4" height="1.4" fill="#ff2020"/>
<line x1="385.8" y1="132.8" x2="385.8" y2="129.9" stroke="#ff2020" stroke-width="0.8"/>
<line x1="384.9" y1="129.9" x2="386.7" y2="129.9" stroke="#ff2020" stroke-width="0.7"/>
<rect x="385.1" y="132.1" width="1.4" height="1.4" fill="#ff2020"/>
<line x1="395.2" y1="123" x2="395.2" y2="120.3" stroke="#ff2020" stroke-width="0.8"/>
<line x1="394.3" y1="120.3" x2="396.1" y2="120.3" stroke="#ff2020" stroke-width="0.7"/>
<rect x="394.5" y="122.3" width="1.4" height="1.4" fill="#ff2020"/>
<circle cx="359" cy="110.1" r="1.1" fill="#222"/>
<circle cx="362.13" cy="110.1" r="1.1" fill="#222"/>
<circle cx="365.27" cy="110.1" r="1.1" fill="#222"/>
<circle cx="368.4" cy="110.1" r="1.1" fill="#222"/>
<line x1="371" y1="105.5" x2="371" y2="114.2" stroke="#333" stroke-width="0.9"/>
<line x1="371.9" y1="105.5" x2="378" y2="105.5" stroke="#1a1a1a" stroke-width="0.85"/>
<line x1="371.9" y1="113.6" x2="378" y2="113.6" stroke="#ff2020" stroke-width="0.85"/>
<text x="382" y="107.2" font-size="4.7" font-weight="bold" text-anchor="start" fill="#1a1a1a" >WT</text>
<text x="382" y="115.3" font-size="4.7" font-weight="bold" font-style="italic" fill="#ff2020">Aeg-1<tspan font-size="3.0" dx="0.3" dy="-2.0">fl/fl</tspan><tspan dx="0.2" dy="2.0">Cre</tspan><tspan font-size="3.0" dx="0.2" dy="-2.0">+</tspan></text>
<text transform="translate(415.2,98.25)" font-size="9.6" font-weight="bold" fill="#000" stroke="#000" stroke-width="0.2">B-4</text>
<line x1="437.3" y1="112.7" x2="437.3" y2="165.6" stroke="#444" stroke-width="1"/>
<line x1="437.3" y1="113" x2="439.3" y2="113" stroke="#222" stroke-width="0.8"/>
<text x="436.2" y="114.51" font-size="4.2" font-weight="bold" text-anchor="end" fill="#222" stroke="#222" stroke-width="0.15" >500</text>
<line x1="437.3" y1="123.5" x2="439.3" y2="123.5" stroke="#222" stroke-width="0.8"/>
<text x="436.2" y="125.01" font-size="4.2" font-weight="bold" text-anchor="end" fill="#222" stroke="#222" stroke-width="0.15" >400</text>
<line x1="437.3" y1="134" x2="439.3" y2="134" stroke="#222" stroke-width="0.8"/>
<text x="436.2" y="135.51" font-size="4.2" font-weight="bold" text-anchor="end" fill="#222" stroke="#222" stroke-width="0.15" >300</text>
<line x1="437.3" y1="144.6" x2="439.3" y2="144.6" stroke="#222" stroke-width="0.8"/>
<text x="436.2" y="146.11" font-size="4.2" font-weight="bold" text-anchor="end" fill="#222" stroke="#222" stroke-width="0.15" >200</text>
<line x1="437.3" y1="155" x2="439.3" y2="155" stroke="#222" stroke-width="0.8"/>
<text x="436.2" y="156.51" font-size="4.2" font-weight="bold" text-anchor="end" fill="#222" stroke="#222" stroke-width="0.15" >100</text>
<line x1="437.3" y1="165.1" x2="439.3" y2="165.1" stroke="#222" stroke-width="0.8"/>
<text x="436.2" y="166.61" font-size="4.2" font-weight="bold" text-anchor="end" fill="#222" stroke="#222" stroke-width="0.15" >0</text>
<line x1="436.8" y1="165.1" x2="490" y2="165.1" stroke="#444" stroke-width="1"/>
<line x1="441.7" y1="162.9" x2="441.7" y2="165.1" stroke="#444" stroke-width="0.65"/>
<line x1="450.7" y1="162.9" x2="450.7" y2="165.1" stroke="#444" stroke-width="0.65"/>
<line x1="459.2" y1="162.9" x2="459.2" y2="165.1" stroke="#444" stroke-width="0.65"/>
<line x1="467.8" y1="162.9" x2="467.8" y2="165.1" stroke="#444" stroke-width="0.65"/>
<line x1="476.6" y1="162.9" x2="476.6" y2="165.1" stroke="#444" stroke-width="0.65"/>
<line x1="485.4" y1="162.9" x2="485.4" y2="165.1" stroke="#444" stroke-width="0.65"/>
<text x="441.9" y="170.25" font-size="4.7" font-weight="bold" text-anchor="middle" fill="#222" stroke="#222" stroke-width="0.12" >1d</text>
<text x="450.9" y="170.25" font-size="4.7" font-weight="bold" text-anchor="middle" fill="#222" stroke="#222" stroke-width="0.12" >2d</text>
<text x="459.4" y="170.25" font-size="4.7" font-weight="bold" text-anchor="middle" fill="#222" stroke="#222" stroke-width="0.12" >3d</text>
<text x="468" y="170.25" font-size="4.7" font-weight="bold" text-anchor="middle" fill="#222" stroke="#222" stroke-width="0.12" >4d</text>
<text x="476.8" y="170.25" font-size="4.7" font-weight="bold" text-anchor="middle" fill="#222" stroke="#222" stroke-width="0.12" >5d</text>
<text x="485.6" y="170.25" font-size="4.7" font-weight="bold" text-anchor="middle" fill="#222" stroke="#222" stroke-width="0.12" >6d</text>
<text transform="translate(420.38,136.3) rotate(-90)" font-size="4.68" font-weight="normal" text-anchor="middle" fill="#222" stroke="#222" stroke-width="0.08">Incorrect number of</text>
<text transform="translate(426.28,136.3) rotate(-90)" font-size="4.68" font-weight="normal" text-anchor="middle" fill="#222" stroke="#222" stroke-width="0.08">nosepoke</text>
<polyline points="441.7,147.1 450.7,136.6 459.2,139.3 467.8,137.8 476.6,135.6 485.4,138.8" fill="none" stroke="#1a1a1a" stroke-width="0.9" stroke-linejoin="round"/>
<line x1="441.7" y1="147.1" x2="441.7" y2="146" stroke="#1a1a1a" stroke-width="0.8"/>
<line x1="440.8" y1="146" x2="442.6" y2="146" stroke="#1a1a1a" stroke-width="0.7"/>
<rect x="441" y="146.4" width="1.4" height="1.4" fill="#1a1a1a"/>
<line x1="450.7" y1="136.6" x2="450.7" y2="133" stroke="#1a1a1a" stroke-width="0.8"/>
<line x1="449.8" y1="133" x2="451.6" y2="133" stroke="#1a1a1a" stroke-width="0.7"/>
<rect x="450" y="135.9" width="1.4" height="1.4" fill="#1a1a1a"/>
<line x1="459.2" y1="139.3" x2="459.2" y2="137.8" stroke="#1a1a1a" stroke-width="0.8"/>
<line x1="458.3" y1="137.8" x2="460.1" y2="137.8" stroke="#1a1a1a" stroke-width="0.7"/>
<rect x="458.5" y="138.6" width="1.4" height="1.4" fill="#1a1a1a"/>
<line x1="467.8" y1="137.8" x2="467.8" y2="135.3" stroke="#1a1a1a" stroke-width="0.8"/>
<line x1="466.9" y1="135.3" x2="468.7" y2="135.3" stroke="#1a1a1a" stroke-width="0.7"/>
<rect x="467.1" y="137.1" width="1.4" height="1.4" fill="#1a1a1a"/>
<line x1="476.6" y1="135.6" x2="476.6" y2="132.4" stroke="#1a1a1a" stroke-width="0.8"/>
<line x1="475.7" y1="132.4" x2="477.5" y2="132.4" stroke="#1a1a1a" stroke-width="0.7"/>
<rect x="475.9" y="134.9" width="1.4" height="1.4" fill="#1a1a1a"/>
<line x1="485.4" y1="138.8" x2="485.4" y2="137.6" stroke="#1a1a1a" stroke-width="0.8"/>
<line x1="484.5" y1="137.6" x2="486.3" y2="137.6" stroke="#1a1a1a" stroke-width="0.7"/>
<rect x="484.7" y="138.1" width="1.4" height="1.4" fill="#1a1a1a"/>
<polyline points="441.7,136.2 450.7,128.3 459.2,127 467.8,133.8 476.6,129 485.4,129.9" fill="none" stroke="#ff2020" stroke-width="0.9" stroke-linejoin="round"/>
<line x1="441.7" y1="136.2" x2="441.7" y2="133.7" stroke="#ff2020" stroke-width="0.8"/>
<line x1="440.8" y1="133.7" x2="442.6" y2="133.7" stroke="#ff2020" stroke-width="0.7"/>
<rect x="441" y="135.5" width="1.4" height="1.4" fill="#ff2020"/>
<line x1="450.7" y1="128.3" x2="450.7" y2="127" stroke="#ff2020" stroke-width="0.8"/>
<line x1="449.8" y1="127" x2="451.6" y2="127" stroke="#ff2020" stroke-width="0.7"/>
<rect x="450" y="127.6" width="1.4" height="1.4" fill="#ff2020"/>
<line x1="459.2" y1="127" x2="459.2" y2="122.4" stroke="#ff2020" stroke-width="0.8"/>
<line x1="458.3" y1="122.4" x2="460.1" y2="122.4" stroke="#ff2020" stroke-width="0.7"/>
<rect x="458.5" y="126.3" width="1.4" height="1.4" fill="#ff2020"/>
<line x1="467.8" y1="133.8" x2="467.8" y2="130.6" stroke="#ff2020" stroke-width="0.8"/>
<line x1="466.9" y1="130.6" x2="468.7" y2="130.6" stroke="#ff2020" stroke-width="0.7"/>
<rect x="467.1" y="133.1" width="1.4" height="1.4" fill="#ff2020"/>
<line x1="476.6" y1="129" x2="476.6" y2="125.3" stroke="#ff2020" stroke-width="0.8"/>
<line x1="475.7" y1="125.3" x2="477.5" y2="125.3" stroke="#ff2020" stroke-width="0.7"/>
<rect x="475.9" y="128.3" width="1.4" height="1.4" fill="#ff2020"/>
<line x1="485.4" y1="129.9" x2="485.4" y2="124.3" stroke="#ff2020" stroke-width="0.8"/>
<line x1="484.5" y1="124.3" x2="486.3" y2="124.3" stroke="#ff2020" stroke-width="0.7"/>
<rect x="484.7" y="129.2" width="1.4" height="1.4" fill="#ff2020"/>
<circle cx="451" cy="112.6" r="1.1" fill="#222"/>
<circle cx="454.1" cy="112.6" r="1.1" fill="#222"/>
<circle cx="457.2" cy="112.6" r="1.1" fill="#222"/>
<circle cx="460.3" cy="112.6" r="1.1" fill="#222"/>
<line x1="462.4" y1="108.6" x2="462.4" y2="117.1" stroke="#333" stroke-width="0.9"/>
<line x1="463.3" y1="108.9" x2="469.3" y2="108.9" stroke="#1a1a1a" stroke-width="0.85"/>
<line x1="463.3" y1="116.4" x2="469.3" y2="116.4" stroke="#ff2020" stroke-width="0.85"/>
<text x="473" y="110.6" font-size="4.7" font-weight="bold" text-anchor="start" fill="#1a1a1a" >WT</text>
<text x="473" y="118.1" font-size="4.7" font-weight="bold" font-style="italic" fill="#ff2020">Aeg-1<tspan font-size="3.0" dx="0.3" dy="-2.0">fl/fl</tspan><tspan dx="0.2" dy="2.0">Cre</tspan><tspan font-size="3.0" dx="0.2" dy="-2.0">+</tspan></text>
<text transform="translate(505.6,98.25)" font-size="9.6" font-weight="bold" fill="#000" stroke="#000" stroke-width="0.2">B-5</text>
<line x1="525.8" y1="110.2" x2="525.8" y2="165.2" stroke="#777" stroke-width="1"/>
<line x1="525.8" y1="110.5" x2="527.8" y2="110.5" stroke="#222" stroke-width="0.8"/>
<text x="524.7" y="112.01" font-size="4.2" font-weight="bold" text-anchor="end" fill="#222" stroke="#222" stroke-width="0.15" >8000</text>
<line x1="525.8" y1="124" x2="527.8" y2="124" stroke="#222" stroke-width="0.8"/>
<text x="524.7" y="125.51" font-size="4.2" font-weight="bold" text-anchor="end" fill="#222" stroke="#222" stroke-width="0.15" >6000</text>
<line x1="525.8" y1="137.8" x2="527.8" y2="137.8" stroke="#222" stroke-width="0.8"/>
<text x="524.7" y="139.31" font-size="4.2" font-weight="bold" text-anchor="end" fill="#222" stroke="#222" stroke-width="0.15" >4000</text>
<line x1="525.8" y1="151.2" x2="527.8" y2="151.2" stroke="#222" stroke-width="0.8"/>
<text x="524.7" y="152.71" font-size="4.2" font-weight="bold" text-anchor="end" fill="#222" stroke="#222" stroke-width="0.15" >2000</text>
<line x1="525.8" y1="164.7" x2="527.8" y2="164.7" stroke="#222" stroke-width="0.8"/>
<text x="524.7" y="166.21" font-size="4.2" font-weight="bold" text-anchor="end" fill="#222" stroke="#222" stroke-width="0.15" >0</text>
<line x1="525.3" y1="164.7" x2="580" y2="164.7" stroke="#aaa" stroke-width="1"/>
<line x1="530.4" y1="162.5" x2="530.4" y2="164.7" stroke="#444" stroke-width="0.65"/>
<line x1="539.3" y1="162.5" x2="539.3" y2="164.7" stroke="#444" stroke-width="0.65"/>
<line x1="548.4" y1="162.5" x2="548.4" y2="164.7" stroke="#444" stroke-width="0.65"/>
<line x1="557.5" y1="162.5" x2="557.5" y2="164.7" stroke="#444" stroke-width="0.65"/>
<line x1="566.3" y1="162.5" x2="566.3" y2="164.7" stroke="#444" stroke-width="0.65"/>
<line x1="575.4" y1="162.5" x2="575.4" y2="164.7" stroke="#444" stroke-width="0.65"/>
<text x="530.6" y="170.05" font-size="4.7" font-weight="bold" text-anchor="middle" fill="#222" stroke="#222" stroke-width="0.12" >1d</text>
<text x="539.5" y="170.05" font-size="4.7" font-weight="bold" text-anchor="middle" fill="#222" stroke="#222" stroke-width="0.12" >2d</text>
<text x="548.6" y="170.05" font-size="4.7" font-weight="bold" text-anchor="middle" fill="#222" stroke="#222" stroke-width="0.12" >3d</text>
<text x="557.7" y="170.05" font-size="4.7" font-weight="bold" text-anchor="middle" fill="#222" stroke="#222" stroke-width="0.12" >4d</text>
<text x="566.5" y="170.05" font-size="4.7" font-weight="bold" text-anchor="middle" fill="#222" stroke="#222" stroke-width="0.12" >5d</text>
<text x="575.6" y="170.05" font-size="4.7" font-weight="bold" text-anchor="middle" fill="#222" stroke="#222" stroke-width="0.12" >6d</text>
<text transform="translate(512.29,137.4) rotate(-90)" font-size="4.42" font-weight="bold" text-anchor="middle" fill="#222" stroke="#222" stroke-width="0.12">Total licks</text>
<polyline points="530.4,130.3 539.3,131.5 548.4,140.3 557.5,149.4 566.3,149.4 575.4,149.4" fill="none" stroke="#1a1a1a" stroke-width="0.9" stroke-linejoin="round"/>
<line x1="530.4" y1="130.3" x2="530.4" y2="124.3" stroke="#1a1a1a" stroke-width="0.8"/>
<line x1="529.5" y1="124.3" x2="531.3" y2="124.3" stroke="#1a1a1a" stroke-width="0.7"/>
<rect x="529.7" y="129.6" width="1.4" height="1.4" fill="#1a1a1a"/>
<line x1="539.3" y1="131.5" x2="539.3" y2="125.3" stroke="#1a1a1a" stroke-width="0.8"/>
<line x1="538.4" y1="125.3" x2="540.2" y2="125.3" stroke="#1a1a1a" stroke-width="0.7"/>
<rect x="538.6" y="130.8" width="1.4" height="1.4" fill="#1a1a1a"/>
<line x1="548.4" y1="140.3" x2="548.4" y2="136.5" stroke="#1a1a1a" stroke-width="0.8"/>
<line x1="547.5" y1="136.5" x2="549.3" y2="136.5" stroke="#1a1a1a" stroke-width="0.7"/>
<rect x="547.7" y="139.6" width="1.4" height="1.4" fill="#1a1a1a"/>
<line x1="557.5" y1="149.4" x2="557.5" y2="144.6" stroke="#1a1a1a" stroke-width="0.8"/>
<line x1="556.6" y1="144.6" x2="558.4" y2="144.6" stroke="#1a1a1a" stroke-width="0.7"/>
<rect x="556.8" y="148.7" width="1.4" height="1.4" fill="#1a1a1a"/>
<line x1="566.3" y1="149.4" x2="566.3" y2="144.3" stroke="#1a1a1a" stroke-width="0.8"/>
<line x1="565.4" y1="144.3" x2="567.2" y2="144.3" stroke="#1a1a1a" stroke-width="0.7"/>
<rect x="565.6" y="148.7" width="1.4" height="1.4" fill="#1a1a1a"/>
<line x1="575.4" y1="149.4" x2="575.4" y2="145.3" stroke="#1a1a1a" stroke-width="0.8"/>
<line x1="574.5" y1="145.3" x2="576.3" y2="145.3" stroke="#1a1a1a" stroke-width="0.7"/>
<rect x="574.7" y="148.7" width="1.4" height="1.4" fill="#1a1a1a"/>
<polyline points="530.4,131.8 539.3,142.5 548.4,147.9 557.5,153.1 566.3,154.4 575.4,152.5" fill="none" stroke="#ff2020" stroke-width="0.9" stroke-linejoin="round"/>
<line x1="530.4" y1="131.8" x2="530.4" y2="130" stroke="#ff2020" stroke-width="0.8"/>
<line x1="529.5" y1="130" x2="531.3" y2="130" stroke="#ff2020" stroke-width="0.7"/>
<rect x="529.7" y="131.1" width="1.4" height="1.4" fill="#ff2020"/>
<line x1="539.3" y1="142.5" x2="539.3" y2="138.7" stroke="#ff2020" stroke-width="0.8"/>
<line x1="538.4" y1="138.7" x2="540.2" y2="138.7" stroke="#ff2020" stroke-width="0.7"/>
<rect x="538.6" y="141.8" width="1.4" height="1.4" fill="#ff2020"/>
<line x1="548.4" y1="147.9" x2="548.4" y2="145.6" stroke="#ff2020" stroke-width="0.8"/>
<line x1="547.5" y1="145.6" x2="549.3" y2="145.6" stroke="#ff2020" stroke-width="0.7"/>
<rect x="547.7" y="147.2" width="1.4" height="1.4" fill="#ff2020"/>
<line x1="557.5" y1="153.1" x2="557.5" y2="151" stroke="#ff2020" stroke-width="0.8"/>
<line x1="556.6" y1="151" x2="558.4" y2="151" stroke="#ff2020" stroke-width="0.7"/>
<rect x="556.8" y="152.4" width="1.4" height="1.4" fill="#ff2020"/>
<line x1="566.3" y1="154.4" x2="566.3" y2="151.2" stroke="#ff2020" stroke-width="0.8"/>
<line x1="565.4" y1="151.2" x2="567.2" y2="151.2" stroke="#ff2020" stroke-width="0.7"/>
<rect x="565.6" y="153.7" width="1.4" height="1.4" fill="#ff2020"/>
<line x1="575.4" y1="152.5" x2="575.4" y2="149.4" stroke="#ff2020" stroke-width="0.8"/>
<line x1="574.5" y1="149.4" x2="576.3" y2="149.4" stroke="#ff2020" stroke-width="0.7"/>
<rect x="574.7" y="151.8" width="1.4" height="1.4" fill="#ff2020"/>
<text x="547.75" y="114.9" font-size="4.6" font-weight="bold" text-anchor="middle" fill="#222" stroke="#222" stroke-width="0.1" >ns</text>
<line x1="551.5" y1="108.6" x2="551.5" y2="117.4" stroke="#333" stroke-width="0.9"/>
<line x1="552.4" y1="109" x2="559" y2="109" stroke="#1a1a1a" stroke-width="0.85"/>
<line x1="552.4" y1="116.8" x2="559" y2="116.8" stroke="#ff2020" stroke-width="0.85"/>
<text x="562.8" y="110.7" font-size="4.7" font-weight="bold" text-anchor="start" fill="#1a1a1a" >WT</text>
<text x="562.8" y="118.5" font-size="4.7" font-weight="bold" font-style="italic" fill="#ff2020">Aeg-1<tspan font-size="3.0" dx="0.3" dy="-2.0">fl/fl</tspan><tspan dx="0.2" dy="2.0">Cre</tspan><tspan font-size="3.0" dx="0.2" dy="-2.0">+</tspan></text>
<text transform="translate(593.5,98.15)" font-size="9.6" font-weight="bold" fill="#000" stroke="#000" stroke-width="0.2">B-6</text>
<line x1="618.1" y1="111.3" x2="618.1" y2="165.1" stroke="#444" stroke-width="1"/>
<line x1="618.1" y1="111.6" x2="620.1" y2="111.6" stroke="#222" stroke-width="0.8"/>
<text x="617" y="113.11" font-size="4.2" font-weight="bold" text-anchor="end" fill="#222" stroke="#222" stroke-width="0.15" >80</text>
<line x1="618.1" y1="124.3" x2="620.1" y2="124.3" stroke="#222" stroke-width="0.8"/>
<text x="617" y="125.81" font-size="4.2" font-weight="bold" text-anchor="end" fill="#222" stroke="#222" stroke-width="0.15" >60</text>
<line x1="618.1" y1="138" x2="620.1" y2="138" stroke="#222" stroke-width="0.8"/>
<text x="617" y="139.51" font-size="4.2" font-weight="bold" text-anchor="end" fill="#222" stroke="#222" stroke-width="0.15" >40</text>
<line x1="618.1" y1="151.4" x2="620.1" y2="151.4" stroke="#222" stroke-width="0.8"/>
<text x="617" y="152.91" font-size="4.2" font-weight="bold" text-anchor="end" fill="#222" stroke="#222" stroke-width="0.15" >20</text>
<line x1="618.1" y1="164.6" x2="620.1" y2="164.6" stroke="#222" stroke-width="0.8"/>
<text x="617" y="166.11" font-size="4.2" font-weight="bold" text-anchor="end" fill="#222" stroke="#222" stroke-width="0.15" >0</text>
<line x1="617.6" y1="164.6" x2="671.8" y2="164.6" stroke="#444" stroke-width="1"/>
<line x1="621.9" y1="162.4" x2="621.9" y2="164.6" stroke="#444" stroke-width="0.65"/>
<line x1="630.8" y1="162.4" x2="630.8" y2="164.6" stroke="#444" stroke-width="0.65"/>
<line x1="639.7" y1="162.4" x2="639.7" y2="164.6" stroke="#444" stroke-width="0.65"/>
<line x1="648.9" y1="162.4" x2="648.9" y2="164.6" stroke="#444" stroke-width="0.65"/>
<line x1="658" y1="162.4" x2="658" y2="164.6" stroke="#444" stroke-width="0.65"/>
<line x1="667" y1="162.4" x2="667" y2="164.6" stroke="#444" stroke-width="0.65"/>
<text x="622.1" y="170.15" font-size="4.7" font-weight="bold" text-anchor="middle" fill="#222" stroke="#222" stroke-width="0.12" >1d</text>
<text x="631" y="170.15" font-size="4.7" font-weight="bold" text-anchor="middle" fill="#222" stroke="#222" stroke-width="0.12" >2d</text>
<text x="639.9" y="170.15" font-size="4.7" font-weight="bold" text-anchor="middle" fill="#222" stroke="#222" stroke-width="0.12" >3d</text>
<text x="649.1" y="170.15" font-size="4.7" font-weight="bold" text-anchor="middle" fill="#222" stroke="#222" stroke-width="0.12" >4d</text>
<text x="658.2" y="170.15" font-size="4.7" font-weight="bold" text-anchor="middle" fill="#222" stroke="#222" stroke-width="0.12" >5d</text>
<text x="667.2" y="170.15" font-size="4.7" font-weight="bold" text-anchor="middle" fill="#222" stroke="#222" stroke-width="0.12" >6d</text>
<text transform="translate(603.48,135.7) rotate(-90)" font-size="4.12" font-weight="bold" text-anchor="middle" fill="#222" stroke="#222" stroke-width="0.12">Correct visit with</text>
<text transform="translate(609.18,135.7) rotate(-90)" font-size="4.12" font-weight="bold" text-anchor="middle" fill="#222" stroke="#222" stroke-width="0.12">a lick ( % )</text>
<polyline points="621.9,120 630.8,119.1 639.7,121.6 648.9,124.5 658,124.1 667,126" fill="none" stroke="#1a1a1a" stroke-width="0.9" stroke-linejoin="round"/>
<line x1="621.9" y1="120" x2="621.9" y2="116" stroke="#1a1a1a" stroke-width="0.8"/>
<line x1="621" y1="116" x2="622.8" y2="116" stroke="#1a1a1a" stroke-width="0.7"/>
<rect x="621.2" y="119.3" width="1.4" height="1.4" fill="#1a1a1a"/>
<line x1="630.8" y1="119.1" x2="630.8" y2="116" stroke="#1a1a1a" stroke-width="0.8"/>
<line x1="629.9" y1="116" x2="631.7" y2="116" stroke="#1a1a1a" stroke-width="0.7"/>
<rect x="630.1" y="118.4" width="1.4" height="1.4" fill="#1a1a1a"/>
<line x1="639.7" y1="121.6" x2="639.7" y2="119.75" stroke="#1a1a1a" stroke-width="0.8"/>
<line x1="638.8" y1="119.75" x2="640.6" y2="119.75" stroke="#1a1a1a" stroke-width="0.7"/>
<rect x="639" y="120.9" width="1.4" height="1.4" fill="#1a1a1a"/>
<line x1="648.9" y1="124.5" x2="648.9" y2="119.1" stroke="#1a1a1a" stroke-width="0.8"/>
<line x1="648" y1="119.1" x2="649.8" y2="119.1" stroke="#1a1a1a" stroke-width="0.7"/>
<rect x="648.2" y="123.8" width="1.4" height="1.4" fill="#1a1a1a"/>
<line x1="658" y1="124.1" x2="658" y2="117.9" stroke="#1a1a1a" stroke-width="0.8"/>
<line x1="657.1" y1="117.9" x2="658.9" y2="117.9" stroke="#1a1a1a" stroke-width="0.7"/>
<rect x="657.3" y="123.4" width="1.4" height="1.4" fill="#1a1a1a"/>
<line x1="667" y1="126" x2="667" y2="122.25" stroke="#1a1a1a" stroke-width="0.8"/>
<line x1="666.1" y1="122.25" x2="667.9" y2="122.25" stroke="#1a1a1a" stroke-width="0.7"/>
<rect x="666.3" y="125.3" width="1.4" height="1.4" fill="#1a1a1a"/>
<polyline points="621.9,128.3 630.8,128.5 639.7,129.2 648.9,140.8 658,145.2 667,143.1" fill="none" stroke="#ff2020" stroke-width="0.9" stroke-linejoin="round"/>
<line x1="621.9" y1="128.3" x2="621.9" y2="120" stroke="#ff2020" stroke-width="0.8"/>
<line x1="621" y1="120" x2="622.8" y2="120" stroke="#ff2020" stroke-width="0.7"/>
<rect x="621.2" y="127.6" width="1.4" height="1.4" fill="#ff2020"/>
<line x1="630.8" y1="128.5" x2="630.8" y2="125.5" stroke="#ff2020" stroke-width="0.8"/>
<line x1="629.9" y1="125.5" x2="631.7" y2="125.5" stroke="#ff2020" stroke-width="0.7"/>
<rect x="630.1" y="127.8" width="1.4" height="1.4" fill="#ff2020"/>
<line x1="639.7" y1="129.2" x2="639.7" y2="127.2" stroke="#ff2020" stroke-width="0.8"/>
<line x1="638.8" y1="127.2" x2="640.6" y2="127.2" stroke="#ff2020" stroke-width="0.7"/>
<rect x="639" y="128.5" width="1.4" height="1.4" fill="#ff2020"/>
<line x1="648.9" y1="140.8" x2="648.9" y2="136.2" stroke="#ff2020" stroke-width="0.8"/>
<line x1="648" y1="136.2" x2="649.8" y2="136.2" stroke="#ff2020" stroke-width="0.7"/>
<rect x="648.2" y="140.1" width="1.4" height="1.4" fill="#ff2020"/>
<line x1="658" y1="145.2" x2="658" y2="141" stroke="#ff2020" stroke-width="0.8"/>
<line x1="657.1" y1="141" x2="658.9" y2="141" stroke="#ff2020" stroke-width="0.7"/>
<rect x="657.3" y="144.5" width="1.4" height="1.4" fill="#ff2020"/>
<line x1="667" y1="143.1" x2="667" y2="136.9" stroke="#ff2020" stroke-width="0.8"/>
<line x1="666.1" y1="136.9" x2="667.9" y2="136.9" stroke="#ff2020" stroke-width="0.7"/>
<rect x="666.3" y="142.4" width="1.4" height="1.4" fill="#ff2020"/>
<circle cx="633.6" cy="106.6" r="1.1" fill="#222"/>
<circle cx="636.5" cy="106.6" r="1.1" fill="#222"/>
<circle cx="639.4" cy="106.6" r="1.1" fill="#222"/>
<circle cx="642.3" cy="106.6" r="1.1" fill="#222"/>
<line x1="644.8" y1="102" x2="644.8" y2="110.4" stroke="#333" stroke-width="0.9"/>
<line x1="645.7" y1="102" x2="651.3" y2="102" stroke="#1a1a1a" stroke-width="0.85"/>
<line x1="645.7" y1="109.5" x2="651.3" y2="109.5" stroke="#ff2020" stroke-width="0.85"/>
<text x="655" y="103.7" font-size="4.7" font-weight="bold" text-anchor="start" fill="#1a1a1a" >WT</text>
<text x="655" y="111.2" font-size="4.7" font-weight="bold" font-style="italic" fill="#ff2020">Aeg-1<tspan font-size="3.0" dx="0.3" dy="-2.0">fl/fl</tspan><tspan dx="0.2" dy="2.0">Cre</tspan><tspan font-size="3.0" dx="0.2" dy="-2.0">+</tspan></text>
<text transform="translate(147.8,181.65)" font-size="9.6" font-weight="bold" fill="#000" stroke="#000" stroke-width="0.2">C-1</text>
<line x1="165.5" y1="196.2" x2="165.5" y2="251.8" stroke="#888" stroke-width="1"/>
<line x1="165.5" y1="196.5" x2="167.5" y2="196.5" stroke="#222" stroke-width="0.8"/>
<text x="164.4" y="198.16" font-size="4.6" font-weight="bold" text-anchor="end" fill="#222" stroke="#222" stroke-width="0.15" >250</text>
<line x1="165.5" y1="207.5" x2="167.5" y2="207.5" stroke="#222" stroke-width="0.8"/>
<text x="164.4" y="209.16" font-size="4.6" font-weight="bold" text-anchor="end" fill="#222" stroke="#222" stroke-width="0.15" >200</text>
<line x1="165.5" y1="218.5" x2="167.5" y2="218.5" stroke="#222" stroke-width="0.8"/>
<text x="164.4" y="220.16" font-size="4.6" font-weight="bold" text-anchor="end" fill="#222" stroke="#222" stroke-width="0.15" >150</text>
<line x1="165.5" y1="229.5" x2="167.5" y2="229.5" stroke="#222" stroke-width="0.8"/>
<text x="164.4" y="231.16" font-size="4.6" font-weight="bold" text-anchor="end" fill="#222" stroke="#222" stroke-width="0.15" >100</text>
<line x1="165.5" y1="240.4" x2="167.5" y2="240.4" stroke="#222" stroke-width="0.8"/>
<text x="164.4" y="242.06" font-size="4.6" font-weight="bold" text-anchor="end" fill="#222" stroke="#222" stroke-width="0.15" >50</text>
<line x1="165.5" y1="251.3" x2="167.5" y2="251.3" stroke="#222" stroke-width="0.8"/>
<text x="164.4" y="252.96" font-size="4.6" font-weight="bold" text-anchor="end" fill="#222" stroke="#222" stroke-width="0.15" >0</text>
<line x1="165" y1="251.3" x2="221.1" y2="251.3" stroke="#888" stroke-width="1"/>
<line x1="169.6" y1="249.1" x2="169.6" y2="251.3" stroke="#444" stroke-width="0.65"/>
<line x1="179.3" y1="249.1" x2="179.3" y2="251.3" stroke="#444" stroke-width="0.65"/>
<line x1="188.4" y1="249.1" x2="188.4" y2="251.3" stroke="#444" stroke-width="0.65"/>
<line x1="197.5" y1="249.1" x2="197.5" y2="251.3" stroke="#444" stroke-width="0.65"/>
<line x1="206.9" y1="249.1" x2="206.9" y2="251.3" stroke="#444" stroke-width="0.65"/>
<line x1="216.3" y1="249.1" x2="216.3" y2="251.3" stroke="#444" stroke-width="0.65"/>
<text x="169.8" y="256.25" font-size="4.7" font-weight="bold" text-anchor="middle" fill="#222" stroke="#222" stroke-width="0.12" >1d</text>
<text x="179.5" y="256.25" font-size="4.7" font-weight="bold" text-anchor="middle" fill="#222" stroke="#222" stroke-width="0.12" >2d</text>
<text x="188.6" y="256.25" font-size="4.7" font-weight="bold" text-anchor="middle" fill="#222" stroke="#222" stroke-width="0.12" >3d</text>
<text x="197.7" y="256.25" font-size="4.7" font-weight="bold" text-anchor="middle" fill="#222" stroke="#222" stroke-width="0.12" >4d</text>
<text x="207.1" y="256.25" font-size="4.7" font-weight="bold" text-anchor="middle" fill="#222" stroke="#222" stroke-width="0.12" >5d</text>
<text x="216.5" y="256.25" font-size="4.7" font-weight="bold" text-anchor="middle" fill="#222" stroke="#222" stroke-width="0.12" >6d</text>
<text transform="translate(153.91,223.5) rotate(-90)" font-size="4.47" font-weight="bold" text-anchor="middle" fill="#222" stroke="#222" stroke-width="0.12">Total visits</text>
<polyline points="169.6,218.8 179.3,233.9 188.4,234.1 197.5,234.1 206.9,233.3 216.3,233.6" fill="none" stroke="#3434f0" stroke-width="0.9" stroke-linejoin="round"/>
<line x1="169.6" y1="218.8" x2="169.6" y2="216.1" stroke="#3434f0" stroke-width="0.8"/>
<line x1="168.7" y1="216.1" x2="170.5" y2="216.1" stroke="#3434f0" stroke-width="0.7"/>
<rect x="168.9" y="218.1" width="1.4" height="1.4" fill="#3434f0"/>
<line x1="179.3" y1="233.9" x2="179.3" y2="232" stroke="#3434f0" stroke-width="0.8"/>
<line x1="178.4" y1="232" x2="180.2" y2="232" stroke="#3434f0" stroke-width="0.7"/>
<rect x="178.6" y="233.2" width="1.4" height="1.4" fill="#3434f0"/>
<line x1="188.4" y1="234.1" x2="188.4" y2="231.1" stroke="#3434f0" stroke-width="0.8"/>
<line x1="187.5" y1="231.1" x2="189.3" y2="231.1" stroke="#3434f0" stroke-width="0.7"/>
<rect x="187.7" y="233.4" width="1.4" height="1.4" fill="#3434f0"/>
<line x1="197.5" y1="234.1" x2="197.5" y2="231.4" stroke="#3434f0" stroke-width="0.8"/>
<line x1="196.6" y1="231.4" x2="198.4" y2="231.4" stroke="#3434f0" stroke-width="0.7"/>
<rect x="196.8" y="233.4" width="1.4" height="1.4" fill="#3434f0"/>
<line x1="206.9" y1="233.3" x2="206.9" y2="230.1" stroke="#3434f0" stroke-width="0.8"/>
<line x1="206" y1="230.1" x2="207.8" y2="230.1" stroke="#3434f0" stroke-width="0.7"/>
<rect x="206.2" y="232.6" width="1.4" height="1.4" fill="#3434f0"/>
<line x1="216.3" y1="233.6" x2="216.3" y2="230.8" stroke="#3434f0" stroke-width="0.8"/>
<line x1="215.4" y1="230.8" x2="217.2" y2="230.8" stroke="#3434f0" stroke-width="0.7"/>
<rect x="215.6" y="232.9" width="1.4" height="1.4" fill="#3434f0"/>
<polyline points="169.6,210.3 179.3,216.9 188.4,222.3 197.5,227.4 206.9,222.3 216.3,220.1" fill="none" stroke="#42a03a" stroke-width="0.9" stroke-linejoin="round"/>
<line x1="169.6" y1="210.3" x2="169.6" y2="206" stroke="#42a03a" stroke-width="0.8"/>
<line x1="168.7" y1="206" x2="170.5" y2="206" stroke="#42a03a" stroke-width="0.7"/>
<rect x="168.9" y="209.6" width="1.4" height="1.4" fill="#42a03a"/>
<line x1="179.3" y1="216.9" x2="179.3" y2="211.3" stroke="#42a03a" stroke-width="0.8"/>
<line x1="178.4" y1="211.3" x2="180.2" y2="211.3" stroke="#42a03a" stroke-width="0.7"/>
<rect x="178.6" y="216.2" width="1.4" height="1.4" fill="#42a03a"/>
<line x1="188.4" y1="222.3" x2="188.4" y2="218.2" stroke="#42a03a" stroke-width="0.8"/>
<line x1="187.5" y1="218.2" x2="189.3" y2="218.2" stroke="#42a03a" stroke-width="0.7"/>
<rect x="187.7" y="221.6" width="1.4" height="1.4" fill="#42a03a"/>
<line x1="197.5" y1="227.4" x2="197.5" y2="223.2" stroke="#42a03a" stroke-width="0.8"/>
<line x1="196.6" y1="223.2" x2="198.4" y2="223.2" stroke="#42a03a" stroke-width="0.7"/>
<rect x="196.8" y="226.7" width="1.4" height="1.4" fill="#42a03a"/>
<line x1="206.9" y1="222.3" x2="206.9" y2="218.6" stroke="#42a03a" stroke-width="0.8"/>
<line x1="206" y1="218.6" x2="207.8" y2="218.6" stroke="#42a03a" stroke-width="0.7"/>
<rect x="206.2" y="221.6" width="1.4" height="1.4" fill="#42a03a"/>
<line x1="216.3" y1="220.1" x2="216.3" y2="215.3" stroke="#42a03a" stroke-width="0.8"/>
<line x1="215.4" y1="215.3" x2="217.2" y2="215.3" stroke="#42a03a" stroke-width="0.7"/>
<rect x="215.6" y="219.4" width="1.4" height="1.4" fill="#42a03a"/>
<circle cx="180.4" cy="199.9" r="1.1" fill="#222"/>
<circle cx="183.93" cy="199.9" r="1.1" fill="#222"/>
<circle cx="187.47" cy="199.9" r="1.1" fill="#222"/>
<circle cx="191" cy="199.9" r="1.1" fill="#222"/>
<line x1="193.5" y1="195.2" x2="193.5" y2="204" stroke="#333" stroke-width="0.9"/>
<line x1="194.4" y1="195.6" x2="199.4" y2="195.6" stroke="#3434f0" stroke-width="0.85"/>
<line x1="194.4" y1="203.6" x2="199.4" y2="203.6" stroke="#42a03a" stroke-width="0.85"/>
<text x="203.1" y="197.3" font-size="4.7" font-weight="bold" text-anchor="start" fill="#3434f0" >WT</text>
<text x="203.1" y="205.3" font-size="4.7" font-weight="bold" font-style="italic" fill="#42a03a">Aeg-1<tspan font-size="3.0" dx="0.3" dy="-2.0">fl/fl</tspan><tspan dx="0.2" dy="2.0">Cre</tspan><tspan font-size="3.0" dx="0.2" dy="-2.0">+</tspan></text>
<text transform="translate(233.8,181.65)" font-size="9.6" font-weight="bold" fill="#000" stroke="#000" stroke-width="0.2">C-2</text>
<line x1="252.7" y1="194.4" x2="252.7" y2="251.1" stroke="#444" stroke-width="1"/>
<line x1="252.7" y1="194.7" x2="254.7" y2="194.7" stroke="#222" stroke-width="0.8"/>
<text x="251.6" y="196.21" font-size="4.2" font-weight="bold" text-anchor="end" fill="#222" stroke="#222" stroke-width="0.15" >70</text>
<line x1="252.7" y1="208.5" x2="254.7" y2="208.5" stroke="#222" stroke-width="0.8"/>
<text x="251.6" y="210.01" font-size="4.2" font-weight="bold" text-anchor="end" fill="#222" stroke="#222" stroke-width="0.15" >60</text>
<line x1="252.7" y1="222.4" x2="254.7" y2="222.4" stroke="#222" stroke-width="0.8"/>
<text x="251.6" y="223.91" font-size="4.2" font-weight="bold" text-anchor="end" fill="#222" stroke="#222" stroke-width="0.15" >50</text>
<line x1="252.7" y1="236.4" x2="254.7" y2="236.4" stroke="#222" stroke-width="0.8"/>
<text x="251.6" y="237.91" font-size="4.2" font-weight="bold" text-anchor="end" fill="#222" stroke="#222" stroke-width="0.15" >40</text>
<line x1="252.7" y1="250.6" x2="254.7" y2="250.6" stroke="#222" stroke-width="0.8"/>
<text x="251.6" y="252.11" font-size="4.2" font-weight="bold" text-anchor="end" fill="#222" stroke="#222" stroke-width="0.15" >30</text>
<line x1="252.2" y1="250.6" x2="309.8" y2="250.6" stroke="#444" stroke-width="1"/>
<line x1="257.4" y1="248.4" x2="257.4" y2="250.6" stroke="#444" stroke-width="0.65"/>
<line x1="266.9" y1="248.4" x2="266.9" y2="250.6" stroke="#444" stroke-width="0.65"/>
<line x1="276.2" y1="248.4" x2="276.2" y2="250.6" stroke="#444" stroke-width="0.65"/>
<line x1="285.7" y1="248.4" x2="285.7" y2="250.6" stroke="#444" stroke-width="0.65"/>
<line x1="295.4" y1="248.4" x2="295.4" y2="250.6" stroke="#444" stroke-width="0.65"/>
<line x1="304.8" y1="248.4" x2="304.8" y2="250.6" stroke="#444" stroke-width="0.65"/>
<text x="257.6" y="256.05" font-size="4.7" font-weight="bold" text-anchor="middle" fill="#222" stroke="#222" stroke-width="0.12" >1d</text>
<text x="267.1" y="256.05" font-size="4.7" font-weight="bold" text-anchor="middle" fill="#222" stroke="#222" stroke-width="0.12" >2d</text>
<text x="276.4" y="256.05" font-size="4.7" font-weight="bold" text-anchor="middle" fill="#222" stroke="#222" stroke-width="0.12" >3d</text>
<text x="285.9" y="256.05" font-size="4.7" font-weight="bold" text-anchor="middle" fill="#222" stroke="#222" stroke-width="0.12" >4d</text>
<text x="295.6" y="256.05" font-size="4.7" font-weight="bold" text-anchor="middle" fill="#222" stroke="#222" stroke-width="0.12" >5d</text>
<text x="305" y="256.05" font-size="4.7" font-weight="bold" text-anchor="middle" fill="#222" stroke="#222" stroke-width="0.12" >6d</text>
<text transform="translate(242.78,223) rotate(-90)" font-size="5.23" font-weight="normal" text-anchor="middle" fill="#222" stroke="#222" stroke-width="0.08">Correct visit ( % )</text>
<polyline points="257.4,233.6 266.9,215 276.2,220.3 285.7,216.9 295.4,220.7 304.8,214" fill="none" stroke="#3434f0" stroke-width="0.9" stroke-linejoin="round"/>
<line x1="257.4" y1="233.6" x2="257.4" y2="229.5" stroke="#3434f0" stroke-width="0.8"/>
<line x1="256.5" y1="229.5" x2="258.3" y2="229.5" stroke="#3434f0" stroke-width="0.7"/>
<rect x="256.7" y="232.9" width="1.4" height="1.4" fill="#3434f0"/>
<line x1="266.9" y1="215" x2="266.9" y2="211.3" stroke="#3434f0" stroke-width="0.8"/>
<line x1="266" y1="211.3" x2="267.8" y2="211.3" stroke="#3434f0" stroke-width="0.7"/>
<rect x="266.2" y="214.3" width="1.4" height="1.4" fill="#3434f0"/>
<line x1="276.2" y1="220.3" x2="276.2" y2="215.3" stroke="#3434f0" stroke-width="0.8"/>
<line x1="275.3" y1="215.3" x2="277.1" y2="215.3" stroke="#3434f0" stroke-width="0.7"/>
<rect x="275.5" y="219.6" width="1.4" height="1.4" fill="#3434f0"/>
<line x1="285.7" y1="216.9" x2="285.7" y2="211" stroke="#3434f0" stroke-width="0.8"/>
<line x1="284.8" y1="211" x2="286.6" y2="211" stroke="#3434f0" stroke-width="0.7"/>
<rect x="285" y="216.2" width="1.4" height="1.4" fill="#3434f0"/>
<line x1="295.4" y1="220.7" x2="295.4" y2="215.3" stroke="#3434f0" stroke-width="0.8"/>
<line x1="294.5" y1="215.3" x2="296.3" y2="215.3" stroke="#3434f0" stroke-width="0.7"/>
<rect x="294.7" y="220" width="1.4" height="1.4" fill="#3434f0"/>
<line x1="304.8" y1="214" x2="304.8" y2="209" stroke="#3434f0" stroke-width="0.8"/>
<line x1="303.9" y1="209" x2="305.7" y2="209" stroke="#3434f0" stroke-width="0.7"/>
<rect x="304.1" y="213.3" width="1.4" height="1.4" fill="#3434f0"/>
<polyline points="257.4,243.9 266.9,236.1 276.2,234.5 285.7,234.5 295.4,242 304.8,245.4" fill="none" stroke="#42a03a" stroke-width="0.9" stroke-linejoin="round"/>
<line x1="257.4" y1="243.9" x2="257.4" y2="240.4" stroke="#42a03a" stroke-width="0.8"/>
<line x1="256.5" y1="240.4" x2="258.3" y2="240.4" stroke="#42a03a" stroke-width="0.7"/>
<rect x="256.7" y="243.2" width="1.4" height="1.4" fill="#42a03a"/>
<line x1="266.9" y1="236.1" x2="266.9" y2="227.3" stroke="#42a03a" stroke-width="0.8"/>
<line x1="266" y1="227.3" x2="267.8" y2="227.3" stroke="#42a03a" stroke-width="0.7"/>
<rect x="266.2" y="235.4" width="1.4" height="1.4" fill="#42a03a"/>
<line x1="276.2" y1="234.5" x2="276.2" y2="225.3" stroke="#42a03a" stroke-width="0.8"/>
<line x1="275.3" y1="225.3" x2="277.1" y2="225.3" stroke="#42a03a" stroke-width="0.7"/>
<rect x="275.5" y="233.8" width="1.4" height="1.4" fill="#42a03a"/>
<line x1="285.7" y1="234.5" x2="285.7" y2="228.2" stroke="#42a03a" stroke-width="0.8"/>
<line x1="284.8" y1="228.2" x2="286.6" y2="228.2" stroke="#42a03a" stroke-width="0.7"/>
<rect x="285" y="233.8" width="1.4" height="1.4" fill="#42a03a"/>
<line x1="295.4" y1="242" x2="295.4" y2="236.1" stroke="#42a03a" stroke-width="0.8"/>
<line x1="294.5" y1="236.1" x2="296.3" y2="236.1" stroke="#42a03a" stroke-width="0.7"/>
<rect x="294.7" y="241.3" width="1.4" height="1.4" fill="#42a03a"/>
<line x1="304.8" y1="245.4" x2="304.8" y2="239.1" stroke="#42a03a" stroke-width="0.8"/>
<line x1="303.9" y1="239.1" x2="305.7" y2="239.1" stroke="#42a03a" stroke-width="0.7"/>
<rect x="304.1" y="244.7" width="1.4" height="1.4" fill="#42a03a"/>
<circle cx="267.7" cy="195.6" r="1.1" fill="#222"/>
<circle cx="271.1" cy="195.6" r="1.1" fill="#222"/>
<circle cx="274.5" cy="195.6" r="1.1" fill="#222"/>
<circle cx="277.9" cy="195.6" r="1.1" fill="#222"/>
<line x1="281.2" y1="190.2" x2="281.2" y2="199.9" stroke="#333" stroke-width="0.9"/>
<line x1="282.1" y1="191.1" x2="287.9" y2="191.1" stroke="#3434f0" stroke-width="0.85"/>
<line x1="282.1" y1="199" x2="287.9" y2="199" stroke="#42a03a" stroke-width="0.85"/>
<text x="291.6" y="192.8" font-size="4.7" font-weight="bold" text-anchor="start" fill="#3434f0" >WT</text>
<text x="291.6" y="200.7" font-size="4.7" font-weight="bold" font-style="italic" fill="#42a03a">Aeg-1<tspan font-size="3.0" dx="0.3" dy="-2.0">fl/fl</tspan><tspan dx="0.2" dy="2.0">Cre</tspan><tspan font-size="3.0" dx="0.2" dy="-2.0">+</tspan></text>
<text transform="translate(326.1,181.65)" font-size="9.6" font-weight="bold" fill="#000" stroke="#000" stroke-width="0.2">C-3</text>
<line x1="343.7" y1="195.7" x2="343.7" y2="251.8" stroke="#b8b8b8" stroke-width="1.2"/>
<line x1="343.7" y1="196" x2="345.7" y2="196" stroke="#222" stroke-width="0.8"/>
<text x="342.6" y="197.51" font-size="4.2" font-weight="bold" text-anchor="end" fill="#222" font-style="italic" stroke="#222" stroke-width="0.15" >800</text>
<line x1="343.7" y1="209.8" x2="345.7" y2="209.8" stroke="#222" stroke-width="0.8"/>
<text x="342.6" y="211.31" font-size="4.2" font-weight="bold" text-anchor="end" fill="#222" font-style="italic" stroke="#222" stroke-width="0.15" >600</text>
<line x1="343.7" y1="223.6" x2="345.7" y2="223.6" stroke="#222" stroke-width="0.8"/>
<text x="342.6" y="225.11" font-size="4.2" font-weight="bold" text-anchor="end" fill="#222" font-style="italic" stroke="#222" stroke-width="0.15" >400</text>
<line x1="343.7" y1="237.4" x2="345.7" y2="237.4" stroke="#222" stroke-width="0.8"/>
<text x="342.6" y="238.91" font-size="4.2" font-weight="bold" text-anchor="end" fill="#222" font-style="italic" stroke="#222" stroke-width="0.15" >200</text>
<line x1="343.7" y1="251.3" x2="345.7" y2="251.3" stroke="#222" stroke-width="0.8"/>
<text x="342.6" y="252.81" font-size="4.2" font-weight="bold" text-anchor="end" fill="#222" font-style="italic" stroke="#222" stroke-width="0.15" >0</text>
<line x1="343.2" y1="251.3" x2="398.4" y2="251.3" stroke="#333" stroke-width="1.2"/>
<line x1="347.5" y1="249.1" x2="347.5" y2="251.3" stroke="#444" stroke-width="0.65"/>
<line x1="356.9" y1="249.1" x2="356.9" y2="251.3" stroke="#444" stroke-width="0.65"/>
<line x1="366.3" y1="249.1" x2="366.3" y2="251.3" stroke="#444" stroke-width="0.65"/>
<line x1="375.5" y1="249.1" x2="375.5" y2="251.3" stroke="#444" stroke-width="0.65"/>
<line x1="384.9" y1="249.1" x2="384.9" y2="251.3" stroke="#444" stroke-width="0.65"/>
<line x1="394.2" y1="249.1" x2="394.2" y2="251.3" stroke="#444" stroke-width="0.65"/>
<text x="347.7" y="256.25" font-size="4.7" font-weight="bold" text-anchor="middle" fill="#222" stroke="#222" stroke-width="0.12" >1d</text>
<text x="357.1" y="256.25" font-size="4.7" font-weight="bold" text-anchor="middle" fill="#222" stroke="#222" stroke-width="0.12" >2d</text>
<text x="366.5" y="256.25" font-size="4.7" font-weight="bold" text-anchor="middle" fill="#222" stroke="#222" stroke-width="0.12" >3d</text>
<text x="375.7" y="256.25" font-size="4.7" font-weight="bold" text-anchor="middle" fill="#222" stroke="#222" stroke-width="0.12" >4d</text>
<text x="385.1" y="256.25" font-size="4.7" font-weight="bold" text-anchor="middle" fill="#222" stroke="#222" stroke-width="0.12" >5d</text>
<text x="394.4" y="256.25" font-size="4.7" font-weight="bold" text-anchor="middle" fill="#222" stroke="#222" stroke-width="0.12" >6d</text>
<text transform="translate(331.56,223) rotate(-90)" font-size="4.6" font-weight="bold" text-anchor="middle" fill="#222" stroke="#222" stroke-width="0.12">Nosepoke number</text>
<polyline points="347.5,225.3 356.9,224.5 366.3,229.5 375.5,206.3 384.9,232 394.2,236.1" fill="none" stroke="#3434f0" stroke-width="0.9" stroke-linejoin="round"/>
<line x1="347.5" y1="225.3" x2="347.5" y2="221.1" stroke="#3434f0" stroke-width="0.8"/>
<line x1="346.6" y1="221.1" x2="348.4" y2="221.1" stroke="#3434f0" stroke-width="0.7"/>
<rect x="346.8" y="224.6" width="1.4" height="1.4" fill="#3434f0"/>
<line x1="356.9" y1="224.5" x2="356.9" y2="217.3" stroke="#3434f0" stroke-width="0.8"/>
<line x1="356" y1="217.3" x2="357.8" y2="217.3" stroke="#3434f0" stroke-width="0.7"/>
<rect x="356.2" y="223.8" width="1.4" height="1.4" fill="#3434f0"/>
<line x1="366.3" y1="229.5" x2="366.3" y2="224.1" stroke="#3434f0" stroke-width="0.8"/>
<line x1="365.4" y1="224.1" x2="367.2" y2="224.1" stroke="#3434f0" stroke-width="0.7"/>
<rect x="365.6" y="228.8" width="1.4" height="1.4" fill="#3434f0"/>
<line x1="375.5" y1="206.3" x2="375.5" y2="200.2" stroke="#3434f0" stroke-width="0.8"/>
<line x1="374.6" y1="200.2" x2="376.4" y2="200.2" stroke="#3434f0" stroke-width="0.7"/>
<rect x="374.8" y="205.6" width="1.4" height="1.4" fill="#3434f0"/>
<line x1="384.9" y1="232" x2="384.9" y2="230.5" stroke="#3434f0" stroke-width="0.8"/>
<line x1="384" y1="230.5" x2="385.8" y2="230.5" stroke="#3434f0" stroke-width="0.7"/>
<rect x="384.2" y="231.3" width="1.4" height="1.4" fill="#3434f0"/>
<line x1="394.2" y1="236.1" x2="394.2" y2="234.5" stroke="#3434f0" stroke-width="0.8"/>
<line x1="393.3" y1="234.5" x2="395.1" y2="234.5" stroke="#3434f0" stroke-width="0.7"/>
<rect x="393.5" y="235.4" width="1.4" height="1.4" fill="#3434f0"/>
<polyline points="347.5,227.9 356.9,232 366.3,230.7 375.5,209.8 384.9,231.6 394.2,235.1" fill="none" stroke="#42a03a" stroke-width="0.9" stroke-linejoin="round"/>
<line x1="347.5" y1="227.9" x2="347.5" y2="226.5" stroke="#42a03a" stroke-width="0.8"/>
<line x1="346.6" y1="226.5" x2="348.4" y2="226.5" stroke="#42a03a" stroke-width="0.7"/>
<rect x="346.8" y="227.2" width="1.4" height="1.4" fill="#42a03a"/>
<line x1="356.9" y1="232" x2="356.9" y2="227.6" stroke="#42a03a" stroke-width="0.8"/>
<line x1="356" y1="227.6" x2="357.8" y2="227.6" stroke="#42a03a" stroke-width="0.7"/>
<rect x="356.2" y="231.3" width="1.4" height="1.4" fill="#42a03a"/>
<line x1="366.3" y1="230.7" x2="366.3" y2="229" stroke="#42a03a" stroke-width="0.8"/>
<line x1="365.4" y1="229" x2="367.2" y2="229" stroke="#42a03a" stroke-width="0.7"/>
<rect x="365.6" y="230" width="1.4" height="1.4" fill="#42a03a"/>
<line x1="375.5" y1="209.8" x2="375.5" y2="207" stroke="#42a03a" stroke-width="0.8"/>
<line x1="374.6" y1="207" x2="376.4" y2="207" stroke="#42a03a" stroke-width="0.7"/>
<rect x="374.8" y="209.1" width="1.4" height="1.4" fill="#42a03a"/>
<line x1="384.9" y1="231.6" x2="384.9" y2="228.2" stroke="#42a03a" stroke-width="0.8"/>
<line x1="384" y1="228.2" x2="385.8" y2="228.2" stroke="#42a03a" stroke-width="0.7"/>
<rect x="384.2" y="230.9" width="1.4" height="1.4" fill="#42a03a"/>
<line x1="394.2" y1="235.1" x2="394.2" y2="232" stroke="#42a03a" stroke-width="0.8"/>
<line x1="393.3" y1="232" x2="395.1" y2="232" stroke="#42a03a" stroke-width="0.7"/>
<rect x="393.5" y="234.4" width="1.4" height="1.4" fill="#42a03a"/>
<text x="367.3" y="193" font-size="4.6" font-weight="bold" text-anchor="middle" fill="#222" stroke="#222" stroke-width="0.1" >ns</text>
<line x1="371.4" y1="187.1" x2="371.4" y2="195.6" stroke="#333" stroke-width="0.9"/>
<line x1="372.3" y1="187.3" x2="378" y2="187.3" stroke="#3434f0" stroke-width="0.85"/>
<line x1="372.3" y1="195" x2="378" y2="195" stroke="#42a03a" stroke-width="0.85"/>
<text x="381.8" y="189" font-size="4.7" font-weight="bold" text-anchor="start" fill="#3434f0" >WT</text>
<text x="381.8" y="196.7" font-size="4.7" font-weight="bold" font-style="italic" fill="#42a03a">Aeg-1<tspan font-size="3.0" dx="0.3" dy="-2.0">fl/fl</tspan><tspan dx="0.2" dy="2.0">Cre</tspan><tspan font-size="3.0" dx="0.2" dy="-2.0">+</tspan></text>
<text transform="translate(415.2,181.65)" font-size="9.6" font-weight="bold" fill="#000" stroke="#000" stroke-width="0.2">C-4</text>
<line x1="437.3" y1="200.8" x2="437.3" y2="252.3" stroke="#555" stroke-width="1"/>
<line x1="437.3" y1="201.1" x2="439.3" y2="201.1" stroke="#222" stroke-width="0.8"/>
<text x="436.2" y="202.61" font-size="4.2" font-weight="bold" text-anchor="end" fill="#222" stroke="#222" stroke-width="0.15" >500</text>
<line x1="437.3" y1="211.3" x2="439.3" y2="211.3" stroke="#222" stroke-width="0.8"/>
<text x="436.2" y="212.81" font-size="4.2" font-weight="bold" text-anchor="end" fill="#222" stroke="#222" stroke-width="0.15" >400</text>
<line x1="437.3" y1="221.4" x2="439.3" y2="221.4" stroke="#222" stroke-width="0.8"/>
<text x="436.2" y="222.91" font-size="4.2" font-weight="bold" text-anchor="end" fill="#222" stroke="#222" stroke-width="0.15" >300</text>
<line x1="437.3" y1="231.5" x2="439.3" y2="231.5" stroke="#222" stroke-width="0.8"/>
<text x="436.2" y="233.01" font-size="4.2" font-weight="bold" text-anchor="end" fill="#222" stroke="#222" stroke-width="0.15" >200</text>
<line x1="437.3" y1="241.7" x2="439.3" y2="241.7" stroke="#222" stroke-width="0.8"/>
<text x="436.2" y="243.21" font-size="4.2" font-weight="bold" text-anchor="end" fill="#222" stroke="#222" stroke-width="0.15" >100</text>
<line x1="437.3" y1="251.8" x2="439.3" y2="251.8" stroke="#222" stroke-width="0.8"/>
<text x="436.2" y="253.31" font-size="4.2" font-weight="bold" text-anchor="end" fill="#222" stroke="#222" stroke-width="0.15" >0</text>
<line x1="436.8" y1="251.8" x2="488.4" y2="251.8" stroke="#555" stroke-width="1"/>
<line x1="441.4" y1="249.6" x2="441.4" y2="251.8" stroke="#444" stroke-width="0.65"/>
<line x1="450.2" y1="249.6" x2="450.2" y2="251.8" stroke="#444" stroke-width="0.65"/>
<line x1="458.6" y1="249.6" x2="458.6" y2="251.8" stroke="#444" stroke-width="0.65"/>
<line x1="467.4" y1="249.6" x2="467.4" y2="251.8" stroke="#444" stroke-width="0.65"/>
<line x1="475.8" y1="249.6" x2="475.8" y2="251.8" stroke="#444" stroke-width="0.65"/>
<line x1="484.4" y1="249.6" x2="484.4" y2="251.8" stroke="#444" stroke-width="0.65"/>
<text x="441.6" y="256.95" font-size="4.7" font-weight="bold" text-anchor="middle" fill="#222" stroke="#222" stroke-width="0.12" >1d</text>
<text x="450.4" y="256.95" font-size="4.7" font-weight="bold" text-anchor="middle" fill="#222" stroke="#222" stroke-width="0.12" >2d</text>
<text x="458.8" y="256.95" font-size="4.7" font-weight="bold" text-anchor="middle" fill="#222" stroke="#222" stroke-width="0.12" >3d</text>
<text x="467.6" y="256.95" font-size="4.7" font-weight="bold" text-anchor="middle" fill="#222" stroke="#222" stroke-width="0.12" >4d</text>
<text x="476" y="256.95" font-size="4.7" font-weight="bold" text-anchor="middle" fill="#222" stroke="#222" stroke-width="0.12" >5d</text>
<text x="484.6" y="256.95" font-size="4.7" font-weight="bold" text-anchor="middle" fill="#222" stroke="#222" stroke-width="0.12" >6d</text>
<text transform="translate(420.73,224.8) rotate(-90)" font-size="4.81" font-weight="normal" text-anchor="middle" fill="#222" stroke="#222" stroke-width="0.08">Incorrect number of</text>
<text transform="translate(426.63,224.8) rotate(-90)" font-size="4.81" font-weight="normal" text-anchor="middle" fill="#222" stroke="#222" stroke-width="0.08">nosepoke</text>
<polyline points="441.4,237.4 450.2,238.3 458.6,241.7 467.4,228.2 475.8,243.3 484.4,246.4" fill="none" stroke="#3434f0" stroke-width="0.9" stroke-linejoin="round"/>
<line x1="441.4" y1="237.4" x2="441.4" y2="234.9" stroke="#3434f0" stroke-width="0.8"/>
<line x1="440.5" y1="234.9" x2="442.3" y2="234.9" stroke="#3434f0" stroke-width="0.7"/>
<rect x="440.7" y="236.7" width="1.4" height="1.4" fill="#3434f0"/>
<line x1="450.2" y1="238.3" x2="450.2" y2="236.4" stroke="#3434f0" stroke-width="0.8"/>
<line x1="449.3" y1="236.4" x2="451.1" y2="236.4" stroke="#3434f0" stroke-width="0.7"/>
<rect x="449.5" y="237.6" width="1.4" height="1.4" fill="#3434f0"/>
<line x1="458.6" y1="241.7" x2="458.6" y2="240.5" stroke="#3434f0" stroke-width="0.8"/>
<line x1="457.7" y1="240.5" x2="459.5" y2="240.5" stroke="#3434f0" stroke-width="0.7"/>
<rect x="457.9" y="241" width="1.4" height="1.4" fill="#3434f0"/>
<line x1="467.4" y1="228.2" x2="467.4" y2="225.1" stroke="#3434f0" stroke-width="0.8"/>
<line x1="466.5" y1="225.1" x2="468.3" y2="225.1" stroke="#3434f0" stroke-width="0.7"/>
<rect x="466.7" y="227.5" width="1.4" height="1.4" fill="#3434f0"/>
<line x1="475.8" y1="243.3" x2="475.8" y2="242" stroke="#3434f0" stroke-width="0.8"/>
<line x1="474.9" y1="242" x2="476.7" y2="242" stroke="#3434f0" stroke-width="0.7"/>
<rect x="475.1" y="242.6" width="1.4" height="1.4" fill="#3434f0"/>
<line x1="484.4" y1="246.4" x2="484.4" y2="245" stroke="#3434f0" stroke-width="0.8"/>
<line x1="483.5" y1="245" x2="485.3" y2="245" stroke="#3434f0" stroke-width="0.7"/>
<rect x="483.7" y="245.7" width="1.4" height="1.4" fill="#3434f0"/>
<polyline points="441.4,223.2 450.2,223.2 458.6,226.1 467.4,212.5 475.8,231.1 484.4,235.4" fill="none" stroke="#42a03a" stroke-width="0.9" stroke-linejoin="round"/>
<line x1="441.4" y1="223.2" x2="441.4" y2="215.7" stroke="#42a03a" stroke-width="0.8"/>
<line x1="440.5" y1="215.7" x2="442.3" y2="215.7" stroke="#42a03a" stroke-width="0.7"/>
<rect x="440.7" y="222.5" width="1.4" height="1.4" fill="#42a03a"/>
<line x1="450.2" y1="223.2" x2="450.2" y2="213.2" stroke="#42a03a" stroke-width="0.8"/>
<line x1="449.3" y1="213.2" x2="451.1" y2="213.2" stroke="#42a03a" stroke-width="0.7"/>
<rect x="449.5" y="222.5" width="1.4" height="1.4" fill="#42a03a"/>
<line x1="458.6" y1="226.1" x2="458.6" y2="220.1" stroke="#42a03a" stroke-width="0.8"/>
<line x1="457.7" y1="220.1" x2="459.5" y2="220.1" stroke="#42a03a" stroke-width="0.7"/>
<rect x="457.9" y="225.4" width="1.4" height="1.4" fill="#42a03a"/>
<line x1="467.4" y1="212.5" x2="467.4" y2="208.8" stroke="#42a03a" stroke-width="0.8"/>
<line x1="466.5" y1="208.8" x2="468.3" y2="208.8" stroke="#42a03a" stroke-width="0.7"/>
<rect x="466.7" y="211.8" width="1.4" height="1.4" fill="#42a03a"/>
<line x1="475.8" y1="231.1" x2="475.8" y2="223.2" stroke="#42a03a" stroke-width="0.8"/>
<line x1="474.9" y1="223.2" x2="476.7" y2="223.2" stroke="#42a03a" stroke-width="0.7"/>
<rect x="475.1" y="230.4" width="1.4" height="1.4" fill="#42a03a"/>
<line x1="484.4" y1="235.4" x2="484.4" y2="229.1" stroke="#42a03a" stroke-width="0.8"/>
<line x1="483.5" y1="229.1" x2="485.3" y2="229.1" stroke="#42a03a" stroke-width="0.7"/>
<rect x="483.7" y="234.7" width="1.4" height="1.4" fill="#42a03a"/>
<circle cx="451.5" cy="198.1" r="1.1" fill="#222"/>
<circle cx="454.73" cy="198.1" r="1.1" fill="#222"/>
<circle cx="457.97" cy="198.1" r="1.1" fill="#222"/>
<circle cx="461.2" cy="198.1" r="1.1" fill="#222"/>
<line x1="463.3" y1="193.6" x2="463.3" y2="201.9" stroke="#333" stroke-width="0.9"/>
<line x1="464.2" y1="193.6" x2="469.9" y2="193.6" stroke="#3434f0" stroke-width="0.85"/>
<line x1="464.2" y1="201.1" x2="469.9" y2="201.1" stroke="#42a03a" stroke-width="0.85"/>
<text x="472.8" y="195.3" font-size="4.7" font-weight="bold" text-anchor="start" fill="#3434f0" >WT</text>
<text x="472.8" y="202.8" font-size="4.7" font-weight="bold" font-style="italic" fill="#42a03a">Aeg-1<tspan font-size="3.0" dx="0.3" dy="-2.0">fl/fl</tspan><tspan dx="0.2" dy="2.0">Cre</tspan><tspan font-size="3.0" dx="0.2" dy="-2.0">+</tspan></text>
<text transform="translate(505.6,181.65)" font-size="9.6" font-weight="bold" fill="#000" stroke="#000" stroke-width="0.2">C-5</text>
<line x1="525.8" y1="198.1" x2="525.8" y2="251.8" stroke="#666" stroke-width="1"/>
<line x1="525.8" y1="198.4" x2="527.8" y2="198.4" stroke="#222" stroke-width="0.8"/>
<text x="524.7" y="199.91" font-size="4.2" font-weight="bold" text-anchor="end" fill="#222" stroke="#222" stroke-width="0.15" >8000</text>
<line x1="525.8" y1="211.4" x2="527.8" y2="211.4" stroke="#222" stroke-width="0.8"/>
<text x="524.7" y="212.91" font-size="4.2" font-weight="bold" text-anchor="end" fill="#222" stroke="#222" stroke-width="0.15" >6000</text>
<line x1="525.8" y1="224.8" x2="527.8" y2="224.8" stroke="#222" stroke-width="0.8"/>
<text x="524.7" y="226.31" font-size="4.2" font-weight="bold" text-anchor="end" fill="#222" stroke="#222" stroke-width="0.15" >4000</text>
<line x1="525.8" y1="238.4" x2="527.8" y2="238.4" stroke="#222" stroke-width="0.8"/>
<text x="524.7" y="239.91" font-size="4.2" font-weight="bold" text-anchor="end" fill="#222" stroke="#222" stroke-width="0.15" >2000</text>
<line x1="525.8" y1="251.3" x2="527.8" y2="251.3" stroke="#222" stroke-width="0.8"/>
<text x="524.7" y="252.81" font-size="4.2" font-weight="bold" text-anchor="end" fill="#222" stroke="#222" stroke-width="0.15" >0</text>
<line x1="525.3" y1="251.3" x2="580" y2="251.3" stroke="#666" stroke-width="1"/>
<line x1="530.2" y1="249.1" x2="530.2" y2="251.3" stroke="#444" stroke-width="0.65"/>
<line x1="539.2" y1="249.1" x2="539.2" y2="251.3" stroke="#444" stroke-width="0.65"/>
<line x1="548.4" y1="249.1" x2="548.4" y2="251.3" stroke="#444" stroke-width="0.65"/>
<line x1="557.5" y1="249.1" x2="557.5" y2="251.3" stroke="#444" stroke-width="0.65"/>
<line x1="566.3" y1="249.1" x2="566.3" y2="251.3" stroke="#444" stroke-width="0.65"/>
<line x1="575.4" y1="249.1" x2="575.4" y2="251.3" stroke="#444" stroke-width="0.65"/>
<text x="530.4" y="256.55" font-size="4.7" font-weight="bold" text-anchor="middle" fill="#222" stroke="#222" stroke-width="0.12" >1d</text>
<text x="539.4" y="256.55" font-size="4.7" font-weight="bold" text-anchor="middle" fill="#222" stroke="#222" stroke-width="0.12" >2d</text>
<text x="548.6" y="256.55" font-size="4.7" font-weight="bold" text-anchor="middle" fill="#222" stroke="#222" stroke-width="0.12" >3d</text>
<text x="557.7" y="256.55" font-size="4.7" font-weight="bold" text-anchor="middle" fill="#222" stroke="#222" stroke-width="0.12" >4d</text>
<text x="566.5" y="256.55" font-size="4.7" font-weight="bold" text-anchor="middle" fill="#222" stroke="#222" stroke-width="0.12" >5d</text>
<text x="575.6" y="256.55" font-size="4.7" font-weight="bold" text-anchor="middle" fill="#222" stroke="#222" stroke-width="0.12" >6d</text>
<text transform="translate(511.66,224.3) rotate(-90)" font-size="4.34" font-weight="bold" text-anchor="middle" fill="#222" stroke="#222" stroke-width="0.12">Total licks</text>
<polyline points="530.2,209.8 539.2,211.5 548.4,221.1 557.5,222 566.3,223.2 575.4,224.5" fill="none" stroke="#3434f0" stroke-width="0.9" stroke-linejoin="round"/>
<line x1="530.2" y1="209.8" x2="530.2" y2="202.1" stroke="#3434f0" stroke-width="0.8"/>
<line x1="529.3" y1="202.1" x2="531.1" y2="202.1" stroke="#3434f0" stroke-width="0.7"/>
<rect x="529.5" y="209.1" width="1.4" height="1.4" fill="#3434f0"/>
<line x1="539.2" y1="211.5" x2="539.2" y2="207.3" stroke="#3434f0" stroke-width="0.8"/>
<line x1="538.3" y1="207.3" x2="540.1" y2="207.3" stroke="#3434f0" stroke-width="0.7"/>
<rect x="538.5" y="210.8" width="1.4" height="1.4" fill="#3434f0"/>
<line x1="548.4" y1="221.1" x2="548.4" y2="216.3" stroke="#3434f0" stroke-width="0.8"/>
<line x1="547.5" y1="216.3" x2="549.3" y2="216.3" stroke="#3434f0" stroke-width="0.7"/>
<rect x="547.7" y="220.4" width="1.4" height="1.4" fill="#3434f0"/>
<line x1="557.5" y1="222" x2="557.5" y2="216.9" stroke="#3434f0" stroke-width="0.8"/>
<line x1="556.6" y1="216.9" x2="558.4" y2="216.9" stroke="#3434f0" stroke-width="0.7"/>
<rect x="556.8" y="221.3" width="1.4" height="1.4" fill="#3434f0"/>
<line x1="566.3" y1="223.2" x2="566.3" y2="218.8" stroke="#3434f0" stroke-width="0.8"/>
<line x1="565.4" y1="218.8" x2="567.2" y2="218.8" stroke="#3434f0" stroke-width="0.7"/>
<rect x="565.6" y="222.5" width="1.4" height="1.4" fill="#3434f0"/>
<line x1="575.4" y1="224.5" x2="575.4" y2="220.7" stroke="#3434f0" stroke-width="0.8"/>
<line x1="574.5" y1="220.7" x2="576.3" y2="220.7" stroke="#3434f0" stroke-width="0.7"/>
<rect x="574.7" y="223.8" width="1.4" height="1.4" fill="#3434f0"/>
<polyline points="530.2,210.2 539.2,214 548.4,224.1 557.5,227.9 566.3,226.3 575.4,229.5" fill="none" stroke="#42a03a" stroke-width="0.9" stroke-linejoin="round"/>
<line x1="530.2" y1="210.2" x2="530.2" y2="209" stroke="#42a03a" stroke-width="0.8"/>
<line x1="529.3" y1="209" x2="531.1" y2="209" stroke="#42a03a" stroke-width="0.7"/>
<rect x="529.5" y="209.5" width="1.4" height="1.4" fill="#42a03a"/>
<line x1="539.2" y1="214" x2="539.2" y2="212.5" stroke="#42a03a" stroke-width="0.8"/>
<line x1="538.3" y1="212.5" x2="540.1" y2="212.5" stroke="#42a03a" stroke-width="0.7"/>
<rect x="538.5" y="213.3" width="1.4" height="1.4" fill="#42a03a"/>
<line x1="548.4" y1="224.1" x2="548.4" y2="223" stroke="#42a03a" stroke-width="0.8"/>
<line x1="547.5" y1="223" x2="549.3" y2="223" stroke="#42a03a" stroke-width="0.7"/>
<rect x="547.7" y="223.4" width="1.4" height="1.4" fill="#42a03a"/>
<line x1="557.5" y1="227.9" x2="557.5" y2="225.7" stroke="#42a03a" stroke-width="0.8"/>
<line x1="556.6" y1="225.7" x2="558.4" y2="225.7" stroke="#42a03a" stroke-width="0.7"/>
<rect x="556.8" y="227.2" width="1.4" height="1.4" fill="#42a03a"/>
<line x1="566.3" y1="226.3" x2="566.3" y2="223.8" stroke="#42a03a" stroke-width="0.8"/>
<line x1="565.4" y1="223.8" x2="567.2" y2="223.8" stroke="#42a03a" stroke-width="0.7"/>
<rect x="565.6" y="225.6" width="1.4" height="1.4" fill="#42a03a"/>
<line x1="575.4" y1="229.5" x2="575.4" y2="226.6" stroke="#42a03a" stroke-width="0.8"/>
<line x1="574.5" y1="226.6" x2="576.3" y2="226.6" stroke="#42a03a" stroke-width="0.7"/>
<rect x="574.7" y="228.8" width="1.4" height="1.4" fill="#42a03a"/>
<text x="549.5" y="202.6" font-size="4.6" font-weight="bold" text-anchor="middle" fill="#222" stroke="#222" stroke-width="0.1" >ns</text>
<line x1="553" y1="196.5" x2="553" y2="205.3" stroke="#333" stroke-width="0.9"/>
<line x1="553.9" y1="196.9" x2="559.7" y2="196.9" stroke="#3434f0" stroke-width="0.85"/>
<line x1="553.9" y1="204.4" x2="559.7" y2="204.4" stroke="#42a03a" stroke-width="0.85"/>
<text x="563" y="198.6" font-size="4.7" font-weight="bold" text-anchor="start" fill="#3434f0" >WT</text>
<text x="563" y="206.1" font-size="4.7" font-weight="bold" font-style="italic" fill="#42a03a">Aeg-1<tspan font-size="3.0" dx="0.3" dy="-2.0">fl/fl</tspan><tspan dx="0.2" dy="2.0">Cre</tspan><tspan font-size="3.0" dx="0.2" dy="-2.0">+</tspan></text>
<text transform="translate(593.5,181.65)" font-size="9.6" font-weight="bold" fill="#000" stroke="#000" stroke-width="0.2">C-6</text>
<line x1="615.6" y1="194" x2="615.6" y2="251.4" stroke="#555" stroke-width="1"/>
<line x1="615.6" y1="194.3" x2="617.6" y2="194.3" stroke="#222" stroke-width="0.8"/>
<text x="614.5" y="195.92" font-size="4.5" font-weight="bold" text-anchor="end" fill="#222" stroke="#222" stroke-width="0.15" >90</text>
<line x1="615.6" y1="213.2" x2="617.6" y2="213.2" stroke="#222" stroke-width="0.8"/>
<text x="614.5" y="214.82" font-size="4.5" font-weight="bold" text-anchor="end" fill="#222" stroke="#222" stroke-width="0.15" >80</text>
<line x1="615.6" y1="232.1" x2="617.6" y2="232.1" stroke="#222" stroke-width="0.8"/>
<text x="614.5" y="233.72" font-size="4.5" font-weight="bold" text-anchor="end" fill="#222" stroke="#222" stroke-width="0.15" >70</text>
<line x1="615.6" y1="250.9" x2="617.6" y2="250.9" stroke="#222" stroke-width="0.8"/>
<text x="614.5" y="252.52" font-size="4.5" font-weight="bold" text-anchor="end" fill="#222" stroke="#222" stroke-width="0.15" >60</text>
<line x1="615.1" y1="250.9" x2="673.9" y2="250.9" stroke="#555" stroke-width="1"/>
<line x1="620.5" y1="248.7" x2="620.5" y2="250.9" stroke="#444" stroke-width="0.65"/>
<line x1="630.3" y1="248.7" x2="630.3" y2="250.9" stroke="#444" stroke-width="0.65"/>
<line x1="639.6" y1="248.7" x2="639.6" y2="250.9" stroke="#444" stroke-width="0.65"/>
<line x1="649.3" y1="248.7" x2="649.3" y2="250.9" stroke="#444" stroke-width="0.65"/>
<line x1="659" y1="248.7" x2="659" y2="250.9" stroke="#444" stroke-width="0.65"/>
<line x1="668.5" y1="248.7" x2="668.5" y2="250.9" stroke="#444" stroke-width="0.65"/>
<text x="620.7" y="256.25" font-size="4.7" font-weight="bold" text-anchor="middle" fill="#222" stroke="#222" stroke-width="0.12" >1d</text>
<text x="630.5" y="256.25" font-size="4.7" font-weight="bold" text-anchor="middle" fill="#222" stroke="#222" stroke-width="0.12" >2d</text>
<text x="639.8" y="256.25" font-size="4.7" font-weight="bold" text-anchor="middle" fill="#222" stroke="#222" stroke-width="0.12" >3d</text>
<text x="649.5" y="256.25" font-size="4.7" font-weight="bold" text-anchor="middle" fill="#222" stroke="#222" stroke-width="0.12" >4d</text>
<text x="659.2" y="256.25" font-size="4.7" font-weight="bold" text-anchor="middle" fill="#222" stroke="#222" stroke-width="0.12" >5d</text>
<text x="668.7" y="256.25" font-size="4.7" font-weight="bold" text-anchor="middle" fill="#222" stroke="#222" stroke-width="0.12" >6d</text>
<text transform="translate(601.34,222.2) rotate(-90)" font-size="4.55" font-weight="bold" text-anchor="middle" fill="#222" stroke="#222" stroke-width="0.12">Correct visit with</text>
<text transform="translate(606.84,222.2) rotate(-90)" font-size="4.55" font-weight="bold" text-anchor="middle" fill="#222" stroke="#222" stroke-width="0.12">a lick ( % )</text>
<polyline points="620.5,218.1 630.3,223.2 639.6,213.9 649.3,211.9 659,213.5 668.5,214.5" fill="none" stroke="#3434f0" stroke-width="0.9" stroke-linejoin="round"/>
<line x1="620.5" y1="218.1" x2="620.5" y2="213" stroke="#3434f0" stroke-width="0.8"/>
<line x1="619.6" y1="213" x2="621.4" y2="213" stroke="#3434f0" stroke-width="0.7"/>
<rect x="619.8" y="217.4" width="1.4" height="1.4" fill="#3434f0"/>
<line x1="630.3" y1="223.2" x2="630.3" y2="215.5" stroke="#3434f0" stroke-width="0.8"/>
<line x1="629.4" y1="215.5" x2="631.2" y2="215.5" stroke="#3434f0" stroke-width="0.7"/>
<rect x="629.6" y="222.5" width="1.4" height="1.4" fill="#3434f0"/>
<line x1="639.6" y1="213.9" x2="639.6" y2="204.25" stroke="#3434f0" stroke-width="0.8"/>
<line x1="638.7" y1="204.25" x2="640.5" y2="204.25" stroke="#3434f0" stroke-width="0.7"/>
<rect x="638.9" y="213.2" width="1.4" height="1.4" fill="#3434f0"/>
<line x1="649.3" y1="211.9" x2="649.3" y2="204.25" stroke="#3434f0" stroke-width="0.8"/>
<line x1="648.4" y1="204.25" x2="650.2" y2="204.25" stroke="#3434f0" stroke-width="0.7"/>
<rect x="648.6" y="211.2" width="1.4" height="1.4" fill="#3434f0"/>
<line x1="659" y1="213.5" x2="659" y2="204.25" stroke="#3434f0" stroke-width="0.8"/>
<line x1="658.1" y1="204.25" x2="659.9" y2="204.25" stroke="#3434f0" stroke-width="0.7"/>
<rect x="658.3" y="212.8" width="1.4" height="1.4" fill="#3434f0"/>
<line x1="668.5" y1="214.5" x2="668.5" y2="209.6" stroke="#3434f0" stroke-width="0.8"/>
<line x1="667.6" y1="209.6" x2="669.4" y2="209.6" stroke="#3434f0" stroke-width="0.7"/>
<rect x="667.8" y="213.8" width="1.4" height="1.4" fill="#3434f0"/>
<polyline points="620.5,231.5 630.3,244.3 639.6,247.3 649.3,227.8 659,238.1 668.5,234.3" fill="none" stroke="#42a03a" stroke-width="0.9" stroke-linejoin="round"/>
<line x1="620.5" y1="231.5" x2="620.5" y2="222.2" stroke="#42a03a" stroke-width="0.8"/>
<line x1="619.6" y1="222.2" x2="621.4" y2="222.2" stroke="#42a03a" stroke-width="0.7"/>
<rect x="619.8" y="230.8" width="1.4" height="1.4" fill="#42a03a"/>
<line x1="630.3" y1="244.3" x2="630.3" y2="234.3" stroke="#42a03a" stroke-width="0.8"/>
<line x1="629.4" y1="234.3" x2="631.2" y2="234.3" stroke="#42a03a" stroke-width="0.7"/>
<rect x="629.6" y="243.6" width="1.4" height="1.4" fill="#42a03a"/>
<line x1="639.6" y1="247.3" x2="639.6" y2="235" stroke="#42a03a" stroke-width="0.8"/>
<line x1="638.7" y1="235" x2="640.5" y2="235" stroke="#42a03a" stroke-width="0.7"/>
<rect x="638.9" y="246.6" width="1.4" height="1.4" fill="#42a03a"/>
<line x1="649.3" y1="227.8" x2="649.3" y2="218.5" stroke="#42a03a" stroke-width="0.8"/>
<line x1="648.4" y1="218.5" x2="650.2" y2="218.5" stroke="#42a03a" stroke-width="0.7"/>
<rect x="648.6" y="227.1" width="1.4" height="1.4" fill="#42a03a"/>
<line x1="659" y1="238.1" x2="659" y2="226.9" stroke="#42a03a" stroke-width="0.8"/>
<line x1="658.1" y1="226.9" x2="659.9" y2="226.9" stroke="#42a03a" stroke-width="0.7"/>
<rect x="658.3" y="237.4" width="1.4" height="1.4" fill="#42a03a"/>
<line x1="668.5" y1="234.3" x2="668.5" y2="225.3" stroke="#42a03a" stroke-width="0.8"/>
<line x1="667.6" y1="225.3" x2="669.4" y2="225.3" stroke="#42a03a" stroke-width="0.7"/>
<rect x="667.8" y="233.6" width="1.4" height="1.4" fill="#42a03a"/>
<circle cx="631.8" cy="194.25" r="1.1" fill="#222"/>
<circle cx="635.3" cy="194.25" r="1.1" fill="#222"/>
<circle cx="638.8" cy="194.25" r="1.1" fill="#222"/>
<circle cx="642.3" cy="194.25" r="1.1" fill="#222"/>
<line x1="645" y1="188.25" x2="645" y2="198.9" stroke="#aaa" stroke-width="0.9"/>
<line x1="645.9" y1="189.5" x2="651.9" y2="189.5" stroke="#3434f0" stroke-width="0.85"/>
<line x1="645.9" y1="198" x2="651.9" y2="198" stroke="#42a03a" stroke-width="0.85"/>
<text x="655.6" y="191.2" font-size="4.7" font-weight="bold" text-anchor="start" fill="#3434f0" >WT</text>
<text x="655.6" y="199.7" font-size="4.7" font-weight="bold" font-style="italic" fill="#42a03a">Aeg-1<tspan font-size="3.0" dx="0.3" dy="-2.0">fl/fl</tspan><tspan dx="0.2" dy="2.0">Cre</tspan><tspan font-size="3.0" dx="0.2" dy="-2.0">+</tspan></text>
<text transform="translate(147.8,265.85)" font-size="9.6" font-weight="bold" fill="#000" stroke="#000" stroke-width="0.2">D-1</text>
<line x1="165.1" y1="280.3" x2="165.1" y2="335.6" stroke="#aaa" stroke-width="1.3"/>
<line x1="165.1" y1="280.6" x2="167.1" y2="280.6" stroke="#222" stroke-width="0.8"/>
<text x="164" y="282.33" font-size="4.8" font-weight="bold" text-anchor="end" fill="#222" stroke="#222" stroke-width="0.15" >200</text>
<line x1="165.1" y1="294.4" x2="167.1" y2="294.4" stroke="#222" stroke-width="0.8"/>
<text x="164" y="296.13" font-size="4.8" font-weight="bold" text-anchor="end" fill="#222" stroke="#222" stroke-width="0.15" >150</text>
<line x1="165.1" y1="308.2" x2="167.1" y2="308.2" stroke="#222" stroke-width="0.8"/>
<text x="164" y="309.93" font-size="4.8" font-weight="bold" text-anchor="end" fill="#222" stroke="#222" stroke-width="0.15" >100</text>
<line x1="165.1" y1="321.7" x2="167.1" y2="321.7" stroke="#222" stroke-width="0.8"/>
<text x="164" y="323.43" font-size="4.8" font-weight="bold" text-anchor="end" fill="#222" stroke="#222" stroke-width="0.15" >50</text>
<line x1="165.1" y1="335.1" x2="167.1" y2="335.1" stroke="#222" stroke-width="0.8"/>
<text x="164" y="336.83" font-size="4.8" font-weight="bold" text-anchor="end" fill="#222" stroke="#222" stroke-width="0.15" >0</text>
<line x1="164.6" y1="335.1" x2="221.1" y2="335.1" stroke="#888" stroke-width="1.3"/>
<line x1="169.6" y1="332.9" x2="169.6" y2="335.1" stroke="#444" stroke-width="0.65"/>
<line x1="179" y1="332.9" x2="179" y2="335.1" stroke="#444" stroke-width="0.65"/>
<line x1="188.4" y1="332.9" x2="188.4" y2="335.1" stroke="#444" stroke-width="0.65"/>
<line x1="197.7" y1="332.9" x2="197.7" y2="335.1" stroke="#444" stroke-width="0.65"/>
<line x1="207.3" y1="332.9" x2="207.3" y2="335.1" stroke="#444" stroke-width="0.65"/>
<line x1="216.6" y1="332.9" x2="216.6" y2="335.1" stroke="#444" stroke-width="0.65"/>
<text x="169.8" y="340.55" font-size="4.7" font-weight="bold" text-anchor="middle" fill="#222" stroke="#222" stroke-width="0.12" >1d</text>
<text x="179.2" y="340.55" font-size="4.7" font-weight="bold" text-anchor="middle" fill="#222" stroke="#222" stroke-width="0.12" >2d</text>
<text x="188.6" y="340.55" font-size="4.7" font-weight="bold" text-anchor="middle" fill="#222" stroke="#222" stroke-width="0.12" >3d</text>
<text x="197.9" y="340.55" font-size="4.7" font-weight="bold" text-anchor="middle" fill="#222" stroke="#222" stroke-width="0.12" >4d</text>
<text x="207.5" y="340.55" font-size="4.7" font-weight="bold" text-anchor="middle" fill="#222" stroke="#222" stroke-width="0.12" >5d</text>
<text x="216.8" y="340.55" font-size="4.7" font-weight="bold" text-anchor="middle" fill="#222" stroke="#222" stroke-width="0.12" >6d</text>
<text transform="translate(154.36,307.5) rotate(-90)" font-size="4.62" font-weight="bold" text-anchor="middle" fill="#222" stroke="#222" stroke-width="0.12">Total visits</text>
<polyline points="169.6,312.9 179,314.5 188.4,315.1 197.7,317 207.3,316.4 216.6,314.1" fill="none" stroke="#3434f0" stroke-width="0.9" stroke-linejoin="round"/>
<line x1="169.6" y1="312.9" x2="169.6" y2="309.1" stroke="#3434f0" stroke-width="0.8"/>
<line x1="168.7" y1="309.1" x2="170.5" y2="309.1" stroke="#3434f0" stroke-width="0.7"/>
<rect x="168.9" y="312.2" width="1.4" height="1.4" fill="#3434f0"/>
<line x1="179" y1="314.5" x2="179" y2="310.7" stroke="#3434f0" stroke-width="0.8"/>
<line x1="178.1" y1="310.7" x2="179.9" y2="310.7" stroke="#3434f0" stroke-width="0.7"/>
<rect x="178.3" y="313.8" width="1.4" height="1.4" fill="#3434f0"/>
<line x1="188.4" y1="315.1" x2="188.4" y2="311.1" stroke="#3434f0" stroke-width="0.8"/>
<line x1="187.5" y1="311.1" x2="189.3" y2="311.1" stroke="#3434f0" stroke-width="0.7"/>
<rect x="187.7" y="314.4" width="1.4" height="1.4" fill="#3434f0"/>
<line x1="197.7" y1="317" x2="197.7" y2="314.1" stroke="#3434f0" stroke-width="0.8"/>
<line x1="196.8" y1="314.1" x2="198.6" y2="314.1" stroke="#3434f0" stroke-width="0.7"/>
<rect x="197" y="316.3" width="1.4" height="1.4" fill="#3434f0"/>
<line x1="207.3" y1="316.4" x2="207.3" y2="312.3" stroke="#3434f0" stroke-width="0.8"/>
<line x1="206.4" y1="312.3" x2="208.2" y2="312.3" stroke="#3434f0" stroke-width="0.7"/>
<rect x="206.6" y="315.7" width="1.4" height="1.4" fill="#3434f0"/>
<line x1="216.6" y1="314.1" x2="216.6" y2="309.8" stroke="#3434f0" stroke-width="0.8"/>
<line x1="215.7" y1="309.8" x2="217.5" y2="309.8" stroke="#3434f0" stroke-width="0.7"/>
<rect x="215.9" y="313.4" width="1.4" height="1.4" fill="#3434f0"/>
<polyline points="169.6,295 179,305.1 188.4,305.7 197.7,311.6 207.3,306.1 216.6,304.4" fill="none" stroke="#42a03a" stroke-width="0.9" stroke-linejoin="round"/>
<line x1="169.6" y1="295" x2="169.6" y2="290" stroke="#42a03a" stroke-width="0.8"/>
<line x1="168.7" y1="290" x2="170.5" y2="290" stroke="#42a03a" stroke-width="0.7"/>
<rect x="168.9" y="294.3" width="1.4" height="1.4" fill="#42a03a"/>
<line x1="179" y1="305.1" x2="179" y2="300.3" stroke="#42a03a" stroke-width="0.8"/>
<line x1="178.1" y1="300.3" x2="179.9" y2="300.3" stroke="#42a03a" stroke-width="0.7"/>
<rect x="178.3" y="304.4" width="1.4" height="1.4" fill="#42a03a"/>
<line x1="188.4" y1="305.7" x2="188.4" y2="302.3" stroke="#42a03a" stroke-width="0.8"/>
<line x1="187.5" y1="302.3" x2="189.3" y2="302.3" stroke="#42a03a" stroke-width="0.7"/>
<rect x="187.7" y="305" width="1.4" height="1.4" fill="#42a03a"/>
<line x1="197.7" y1="311.6" x2="197.7" y2="309.1" stroke="#42a03a" stroke-width="0.8"/>
<line x1="196.8" y1="309.1" x2="198.6" y2="309.1" stroke="#42a03a" stroke-width="0.7"/>
<rect x="197" y="310.9" width="1.4" height="1.4" fill="#42a03a"/>
<line x1="207.3" y1="306.1" x2="207.3" y2="302.3" stroke="#42a03a" stroke-width="0.8"/>
<line x1="206.4" y1="302.3" x2="208.2" y2="302.3" stroke="#42a03a" stroke-width="0.7"/>
<rect x="206.6" y="305.4" width="1.4" height="1.4" fill="#42a03a"/>
<line x1="216.6" y1="304.4" x2="216.6" y2="299.8" stroke="#42a03a" stroke-width="0.8"/>
<line x1="215.7" y1="299.8" x2="217.5" y2="299.8" stroke="#42a03a" stroke-width="0.7"/>
<rect x="215.9" y="303.7" width="1.4" height="1.4" fill="#42a03a"/>
<circle cx="177.6" cy="284.6" r="1.1" fill="#222"/>
<circle cx="181.03" cy="284.6" r="1.1" fill="#222"/>
<circle cx="184.47" cy="284.6" r="1.1" fill="#222"/>
<circle cx="187.9" cy="284.6" r="1.1" fill="#222"/>
<line x1="191.4" y1="278.7" x2="191.4" y2="288.4" stroke="#888" stroke-width="0.9"/>
<line x1="192.3" y1="278.9" x2="198.5" y2="278.9" stroke="#3434f0" stroke-width="0.85"/>
<line x1="192.3" y1="286.9" x2="198.5" y2="286.9" stroke="#42a03a" stroke-width="0.85"/>
<text x="202.2" y="280.6" font-size="4.7" font-weight="bold" text-anchor="start" fill="#3434f0" >WT</text>
<text x="202.2" y="288.6" font-size="4.7" font-weight="bold" font-style="italic" fill="#42a03a">Aeg-1<tspan font-size="3.0" dx="0.3" dy="-2.0">fl/fl</tspan><tspan dx="0.2" dy="2.0">Cre</tspan><tspan font-size="3.0" dx="0.2" dy="-2.0">+</tspan></text>
<text transform="translate(233.8,265.85)" font-size="9.6" font-weight="bold" fill="#000" stroke="#000" stroke-width="0.2">D-2</text>
<line x1="252.7" y1="278" x2="252.7" y2="335.6" stroke="#444" stroke-width="1"/>
<line x1="252.7" y1="278.3" x2="254.7" y2="278.3" stroke="#222" stroke-width="0.8"/>
<text x="251.6" y="279.81" font-size="4.2" font-weight="bold" text-anchor="end" fill="#222" stroke="#222" stroke-width="0.15" >80</text>
<line x1="252.7" y1="292.6" x2="254.7" y2="292.6" stroke="#222" stroke-width="0.8"/>
<text x="251.6" y="294.11" font-size="4.2" font-weight="bold" text-anchor="end" fill="#222" stroke="#222" stroke-width="0.15" >60</text>
<line x1="252.7" y1="307" x2="254.7" y2="307" stroke="#222" stroke-width="0.8"/>
<text x="251.6" y="308.51" font-size="4.2" font-weight="bold" text-anchor="end" fill="#222" stroke="#222" stroke-width="0.15" >40</text>
<line x1="252.7" y1="321.2" x2="254.7" y2="321.2" stroke="#222" stroke-width="0.8"/>
<text x="251.6" y="322.71" font-size="4.2" font-weight="bold" text-anchor="end" fill="#222" stroke="#222" stroke-width="0.15" >20</text>
<line x1="252.7" y1="335.1" x2="254.7" y2="335.1" stroke="#222" stroke-width="0.8"/>
<text x="251.6" y="336.61" font-size="4.2" font-weight="bold" text-anchor="end" fill="#222" stroke="#222" stroke-width="0.15" >0</text>
<line x1="252.2" y1="335.1" x2="309.8" y2="335.1" stroke="#444" stroke-width="1"/>
<line x1="257.1" y1="332.9" x2="257.1" y2="335.1" stroke="#444" stroke-width="0.65"/>
<line x1="266.5" y1="332.9" x2="266.5" y2="335.1" stroke="#444" stroke-width="0.65"/>
<line x1="276.2" y1="332.9" x2="276.2" y2="335.1" stroke="#444" stroke-width="0.65"/>
<line x1="285.7" y1="332.9" x2="285.7" y2="335.1" stroke="#444" stroke-width="0.65"/>
<line x1="295.4" y1="332.9" x2="295.4" y2="335.1" stroke="#444" stroke-width="0.65"/>
<line x1="305.1" y1="332.9" x2="305.1" y2="335.1" stroke="#444" stroke-width="0.65"/>
<text x="257.3" y="340.55" font-size="4.7" font-weight="bold" text-anchor="middle" fill="#222" stroke="#222" stroke-width="0.12" >1d</text>
<text x="266.7" y="340.55" font-size="4.7" font-weight="bold" text-anchor="middle" fill="#222" stroke="#222" stroke-width="0.12" >2d</text>
<text x="276.4" y="340.55" font-size="4.7" font-weight="bold" text-anchor="middle" fill="#222" stroke="#222" stroke-width="0.12" >3d</text>
<text x="285.9" y="340.55" font-size="4.7" font-weight="bold" text-anchor="middle" fill="#222" stroke="#222" stroke-width="0.12" >4d</text>
<text x="295.6" y="340.55" font-size="4.7" font-weight="bold" text-anchor="middle" fill="#222" stroke="#222" stroke-width="0.12" >5d</text>
<text x="305.3" y="340.55" font-size="4.7" font-weight="bold" text-anchor="middle" fill="#222" stroke="#222" stroke-width="0.12" >6d</text>
<text transform="translate(243.27,307.6) rotate(-90)" font-size="5.2" font-weight="normal" text-anchor="middle" fill="#222" stroke="#222" stroke-width="0.08">Correct visit ( % )</text>
<polyline points="257.1,305.7 266.5,301.9 276.2,299 285.7,294.8 295.4,299.4 305.1,304.1" fill="none" stroke="#3434f0" stroke-width="0.9" stroke-linejoin="round"/>
<line x1="257.1" y1="305.7" x2="257.1" y2="301.3" stroke="#3434f0" stroke-width="0.8"/>
<line x1="256.2" y1="301.3" x2="258" y2="301.3" stroke="#3434f0" stroke-width="0.7"/>
<rect x="256.4" y="305" width="1.4" height="1.4" fill="#3434f0"/>
<line x1="266.5" y1="301.9" x2="266.5" y2="295.6" stroke="#3434f0" stroke-width="0.8"/>
<line x1="265.6" y1="295.6" x2="267.4" y2="295.6" stroke="#3434f0" stroke-width="0.7"/>
<rect x="265.8" y="301.2" width="1.4" height="1.4" fill="#3434f0"/>
<line x1="276.2" y1="299" x2="276.2" y2="293.1" stroke="#3434f0" stroke-width="0.8"/>
<line x1="275.3" y1="293.1" x2="277.1" y2="293.1" stroke="#3434f0" stroke-width="0.7"/>
<rect x="275.5" y="298.3" width="1.4" height="1.4" fill="#3434f0"/>
<line x1="285.7" y1="294.8" x2="285.7" y2="290.4" stroke="#3434f0" stroke-width="0.8"/>
<line x1="284.8" y1="290.4" x2="286.6" y2="290.4" stroke="#3434f0" stroke-width="0.7"/>
<rect x="285" y="294.1" width="1.4" height="1.4" fill="#3434f0"/>
<line x1="295.4" y1="299.4" x2="295.4" y2="293.1" stroke="#3434f0" stroke-width="0.8"/>
<line x1="294.5" y1="293.1" x2="296.3" y2="293.1" stroke="#3434f0" stroke-width="0.7"/>
<rect x="294.7" y="298.7" width="1.4" height="1.4" fill="#3434f0"/>
<line x1="305.1" y1="304.1" x2="305.1" y2="298.2" stroke="#3434f0" stroke-width="0.8"/>
<line x1="304.2" y1="298.2" x2="306" y2="298.2" stroke="#3434f0" stroke-width="0.7"/>
<rect x="304.4" y="303.4" width="1.4" height="1.4" fill="#3434f0"/>
<polyline points="257.1,312.6 266.5,311.3 276.2,307.8 285.7,299 295.4,305.7 305.1,309.1" fill="none" stroke="#42a03a" stroke-width="0.9" stroke-linejoin="round"/>
<line x1="257.1" y1="312.6" x2="257.1" y2="308.8" stroke="#42a03a" stroke-width="0.8"/>
<line x1="256.2" y1="308.8" x2="258" y2="308.8" stroke="#42a03a" stroke-width="0.7"/>
<rect x="256.4" y="311.9" width="1.4" height="1.4" fill="#42a03a"/>
<line x1="266.5" y1="311.3" x2="266.5" y2="305.7" stroke="#42a03a" stroke-width="0.8"/>
<line x1="265.6" y1="305.7" x2="267.4" y2="305.7" stroke="#42a03a" stroke-width="0.7"/>
<rect x="265.8" y="310.6" width="1.4" height="1.4" fill="#42a03a"/>
<line x1="276.2" y1="307.8" x2="276.2" y2="303.2" stroke="#42a03a" stroke-width="0.8"/>
<line x1="275.3" y1="303.2" x2="277.1" y2="303.2" stroke="#42a03a" stroke-width="0.7"/>
<rect x="275.5" y="307.1" width="1.4" height="1.4" fill="#42a03a"/>
<line x1="285.7" y1="299" x2="285.7" y2="296" stroke="#42a03a" stroke-width="0.8"/>
<line x1="284.8" y1="296" x2="286.6" y2="296" stroke="#42a03a" stroke-width="0.7"/>
<rect x="285" y="298.3" width="1.4" height="1.4" fill="#42a03a"/>
<line x1="295.4" y1="305.7" x2="295.4" y2="299.8" stroke="#42a03a" stroke-width="0.8"/>
<line x1="294.5" y1="299.8" x2="296.3" y2="299.8" stroke="#42a03a" stroke-width="0.7"/>
<rect x="294.7" y="305" width="1.4" height="1.4" fill="#42a03a"/>
<line x1="305.1" y1="309.1" x2="305.1" y2="308" stroke="#42a03a" stroke-width="0.8"/>
<line x1="304.2" y1="308" x2="306" y2="308" stroke="#42a03a" stroke-width="0.7"/>
<rect x="304.4" y="308.4" width="1.4" height="1.4" fill="#42a03a"/>
<circle cx="278.2" cy="279.3" r="1.1" fill="#222"/>
<line x1="280.7" y1="274.3" x2="280.7" y2="283.1" stroke="#aaa" stroke-width="0.9"/>
<line x1="281.6" y1="275.3" x2="288.5" y2="275.3" stroke="#3434f0" stroke-width="0.85"/>
<line x1="281.6" y1="281.6" x2="288.5" y2="281.6" stroke="#42a03a" stroke-width="0.85"/>
<text x="292" y="277" font-size="4.7" font-weight="bold" text-anchor="start" fill="#3434f0" >WT</text>
<text x="292" y="283.3" font-size="4.7" font-weight="bold" font-style="italic" fill="#42a03a">Aeg-1<tspan font-size="3.0" dx="0.3" dy="-2.0">fl/fl</tspan><tspan dx="0.2" dy="2.0">Cre</tspan><tspan font-size="3.0" dx="0.2" dy="-2.0">+</tspan></text>
<text transform="translate(326.1,265.85)" font-size="9.6" font-weight="bold" fill="#000" stroke="#000" stroke-width="0.2">D-3</text>
<line x1="343.7" y1="280.3" x2="343.7" y2="335.6" stroke="#999" stroke-width="1.2"/>
<line x1="343.7" y1="280.6" x2="345.7" y2="280.6" stroke="#222" stroke-width="0.8"/>
<text x="342.6" y="282.11" font-size="4.2" font-weight="bold" text-anchor="end" fill="#222" font-style="italic" stroke="#222" stroke-width="0.15" >600</text>
<line x1="343.7" y1="298.6" x2="345.7" y2="298.6" stroke="#222" stroke-width="0.8"/>
<text x="342.6" y="300.11" font-size="4.2" font-weight="bold" text-anchor="end" fill="#222" font-style="italic" stroke="#222" stroke-width="0.15" >400</text>
<line x1="343.7" y1="317" x2="345.7" y2="317" stroke="#222" stroke-width="0.8"/>
<text x="342.6" y="318.51" font-size="4.2" font-weight="bold" text-anchor="end" fill="#222" font-style="italic" stroke="#222" stroke-width="0.15" >200</text>
<line x1="343.7" y1="335.1" x2="345.7" y2="335.1" stroke="#222" stroke-width="0.8"/>
<text x="342.6" y="336.61" font-size="4.2" font-weight="bold" text-anchor="end" fill="#222" font-style="italic" stroke="#222" stroke-width="0.15" >0</text>
<line x1="343.2" y1="335.1" x2="399" y2="335.1" stroke="#333" stroke-width="1.2"/>
<line x1="347.8" y1="332.9" x2="347.8" y2="335.1" stroke="#444" stroke-width="0.65"/>
<line x1="357.2" y1="332.9" x2="357.2" y2="335.1" stroke="#444" stroke-width="0.65"/>
<line x1="366.3" y1="332.9" x2="366.3" y2="335.1" stroke="#444" stroke-width="0.65"/>
<line x1="375.8" y1="332.9" x2="375.8" y2="335.1" stroke="#444" stroke-width="0.65"/>
<line x1="385.2" y1="332.9" x2="385.2" y2="335.1" stroke="#444" stroke-width="0.65"/>
<line x1="394.6" y1="332.9" x2="394.6" y2="335.1" stroke="#444" stroke-width="0.65"/>
<text x="348" y="340.55" font-size="4.7" font-weight="bold" text-anchor="middle" fill="#222" stroke="#222" stroke-width="0.12" >1d</text>
<text x="357.4" y="340.55" font-size="4.7" font-weight="bold" text-anchor="middle" fill="#222" stroke="#222" stroke-width="0.12" >2d</text>
<text x="366.5" y="340.55" font-size="4.7" font-weight="bold" text-anchor="middle" fill="#222" stroke="#222" stroke-width="0.12" >3d</text>
<text x="376" y="340.55" font-size="4.7" font-weight="bold" text-anchor="middle" fill="#222" stroke="#222" stroke-width="0.12" >4d</text>
<text x="385.4" y="340.55" font-size="4.7" font-weight="bold" text-anchor="middle" fill="#222" stroke="#222" stroke-width="0.12" >5d</text>
<text x="394.8" y="340.55" font-size="4.7" font-weight="bold" text-anchor="middle" fill="#222" stroke="#222" stroke-width="0.12" >6d</text>
<text transform="translate(331.52,307.8) rotate(-90)" font-size="4.5" font-weight="bold" text-anchor="middle" fill="#222" stroke="#222" stroke-width="0.12">Nosepoke number</text>
<polyline points="347.8,294 357.2,303.2 366.3,302.3 375.8,303.6 385.2,305.3 394.6,305.1" fill="none" stroke="#3434f0" stroke-width="0.9" stroke-linejoin="round"/>
<line x1="347.8" y1="294" x2="347.8" y2="286.2" stroke="#3434f0" stroke-width="0.8"/>
<line x1="346.9" y1="286.2" x2="348.7" y2="286.2" stroke="#3434f0" stroke-width="0.7"/>
<rect x="347.1" y="293.3" width="1.4" height="1.4" fill="#3434f0"/>
<line x1="357.2" y1="303.2" x2="357.2" y2="296" stroke="#3434f0" stroke-width="0.8"/>
<line x1="356.3" y1="296" x2="358.1" y2="296" stroke="#3434f0" stroke-width="0.7"/>
<rect x="356.5" y="302.5" width="1.4" height="1.4" fill="#3434f0"/>
<line x1="366.3" y1="302.3" x2="366.3" y2="296" stroke="#3434f0" stroke-width="0.8"/>
<line x1="365.4" y1="296" x2="367.2" y2="296" stroke="#3434f0" stroke-width="0.7"/>
<rect x="365.6" y="301.6" width="1.4" height="1.4" fill="#3434f0"/>
<line x1="375.8" y1="303.6" x2="375.8" y2="296.3" stroke="#3434f0" stroke-width="0.8"/>
<line x1="374.9" y1="296.3" x2="376.7" y2="296.3" stroke="#3434f0" stroke-width="0.7"/>
<rect x="375.1" y="302.9" width="1.4" height="1.4" fill="#3434f0"/>
<line x1="385.2" y1="305.3" x2="385.2" y2="294.8" stroke="#3434f0" stroke-width="0.8"/>
<line x1="384.3" y1="294.8" x2="386.1" y2="294.8" stroke="#3434f0" stroke-width="0.7"/>
<rect x="384.5" y="304.6" width="1.4" height="1.4" fill="#3434f0"/>
<line x1="394.6" y1="305.1" x2="394.6" y2="295" stroke="#3434f0" stroke-width="0.8"/>
<line x1="393.7" y1="295" x2="395.5" y2="295" stroke="#3434f0" stroke-width="0.7"/>
<rect x="393.9" y="304.4" width="1.4" height="1.4" fill="#3434f0"/>
<polyline points="347.8,304.8 357.2,308.2 366.3,310.1 375.8,306.1 385.2,310.1 394.6,314.1" fill="none" stroke="#42a03a" stroke-width="0.9" stroke-linejoin="round"/>
<line x1="347.8" y1="304.8" x2="347.8" y2="299" stroke="#42a03a" stroke-width="0.8"/>
<line x1="346.9" y1="299" x2="348.7" y2="299" stroke="#42a03a" stroke-width="0.7"/>
<rect x="347.1" y="304.1" width="1.4" height="1.4" fill="#42a03a"/>
<line x1="357.2" y1="308.2" x2="357.2" y2="306" stroke="#42a03a" stroke-width="0.8"/>
<line x1="356.3" y1="306" x2="358.1" y2="306" stroke="#42a03a" stroke-width="0.7"/>
<rect x="356.5" y="307.5" width="1.4" height="1.4" fill="#42a03a"/>
<line x1="366.3" y1="310.1" x2="366.3" y2="304.1" stroke="#42a03a" stroke-width="0.8"/>
<line x1="365.4" y1="304.1" x2="367.2" y2="304.1" stroke="#42a03a" stroke-width="0.7"/>
<rect x="365.6" y="309.4" width="1.4" height="1.4" fill="#42a03a"/>
<line x1="375.8" y1="306.1" x2="375.8" y2="304" stroke="#42a03a" stroke-width="0.8"/>
<line x1="374.9" y1="304" x2="376.7" y2="304" stroke="#42a03a" stroke-width="0.7"/>
<rect x="375.1" y="305.4" width="1.4" height="1.4" fill="#42a03a"/>
<line x1="385.2" y1="310.1" x2="385.2" y2="306.3" stroke="#42a03a" stroke-width="0.8"/>
<line x1="384.3" y1="306.3" x2="386.1" y2="306.3" stroke="#42a03a" stroke-width="0.7"/>
<rect x="384.5" y="309.4" width="1.4" height="1.4" fill="#42a03a"/>
<line x1="394.6" y1="314.1" x2="394.6" y2="309.1" stroke="#42a03a" stroke-width="0.8"/>
<line x1="393.7" y1="309.1" x2="395.5" y2="309.1" stroke="#42a03a" stroke-width="0.7"/>
<rect x="393.9" y="313.4" width="1.4" height="1.4" fill="#42a03a"/>
<text x="368.4" y="282.7" font-size="4.6" font-weight="bold" text-anchor="middle" fill="#222" stroke="#222" stroke-width="0.1" >ns</text>
<line x1="371.7" y1="276.6" x2="371.7" y2="285.6" stroke="#333" stroke-width="0.9"/>
<line x1="372.6" y1="277.1" x2="378.3" y2="277.1" stroke="#3434f0" stroke-width="0.85"/>
<line x1="372.6" y1="284.6" x2="378.3" y2="284.6" stroke="#42a03a" stroke-width="0.85"/>
<text x="382" y="278.8" font-size="4.7" font-weight="bold" text-anchor="start" fill="#3434f0" >WT</text>
<text x="382" y="286.3" font-size="4.7" font-weight="bold" font-style="italic" fill="#42a03a">Aeg-1<tspan font-size="3.0" dx="0.3" dy="-2.0">fl/fl</tspan><tspan dx="0.2" dy="2.0">Cre</tspan><tspan font-size="3.0" dx="0.2" dy="-2.0">+</tspan></text>
<text transform="translate(415.2,266.15)" font-size="9.6" font-weight="bold" fill="#000" stroke="#000" stroke-width="0.2">D-4</text>
<line x1="436.9" y1="286.3" x2="436.9" y2="336.8" stroke="#999" stroke-width="1"/>
<line x1="436.9" y1="286.6" x2="438.9" y2="286.6" stroke="#222" stroke-width="0.8"/>
<text x="435.8" y="288.11" font-size="4.2" font-weight="bold" text-anchor="end" fill="#222" stroke="#222" stroke-width="0.15" >400</text>
<line x1="436.9" y1="298.9" x2="438.9" y2="298.9" stroke="#222" stroke-width="0.8"/>
<text x="435.8" y="300.41" font-size="4.2" font-weight="bold" text-anchor="end" fill="#222" stroke="#222" stroke-width="0.15" >300</text>
<line x1="436.9" y1="311.3" x2="438.9" y2="311.3" stroke="#222" stroke-width="0.8"/>
<text x="435.8" y="312.81" font-size="4.2" font-weight="bold" text-anchor="end" fill="#222" stroke="#222" stroke-width="0.15" >200</text>
<line x1="436.9" y1="324.2" x2="438.9" y2="324.2" stroke="#222" stroke-width="0.8"/>
<text x="435.8" y="325.71" font-size="4.2" font-weight="bold" text-anchor="end" fill="#222" stroke="#222" stroke-width="0.15" >100</text>
<line x1="436.9" y1="336.3" x2="438.9" y2="336.3" stroke="#222" stroke-width="0.8"/>
<text x="435.8" y="337.81" font-size="4.2" font-weight="bold" text-anchor="end" fill="#222" stroke="#222" stroke-width="0.15" >0</text>
<line x1="436.4" y1="336.3" x2="487.5" y2="336.3" stroke="#777" stroke-width="1"/>
<line x1="441" y1="334.1" x2="441" y2="336.3" stroke="#444" stroke-width="0.65"/>
<line x1="449.4" y1="334.1" x2="449.4" y2="336.3" stroke="#444" stroke-width="0.65"/>
<line x1="458.2" y1="334.1" x2="458.2" y2="336.3" stroke="#444" stroke-width="0.65"/>
<line x1="466.5" y1="334.1" x2="466.5" y2="336.3" stroke="#444" stroke-width="0.65"/>
<line x1="475.3" y1="334.1" x2="475.3" y2="336.3" stroke="#444" stroke-width="0.65"/>
<line x1="483.7" y1="334.1" x2="483.7" y2="336.3" stroke="#444" stroke-width="0.65"/>
<text x="441.2" y="341.55" font-size="4.7" font-weight="bold" text-anchor="middle" fill="#222" stroke="#222" stroke-width="0.12" >1d</text>
<text x="449.6" y="341.55" font-size="4.7" font-weight="bold" text-anchor="middle" fill="#222" stroke="#222" stroke-width="0.12" >2d</text>
<text x="458.4" y="341.55" font-size="4.7" font-weight="bold" text-anchor="middle" fill="#222" stroke="#222" stroke-width="0.12" >3d</text>
<text x="466.7" y="341.55" font-size="4.7" font-weight="bold" text-anchor="middle" fill="#222" stroke="#222" stroke-width="0.12" >4d</text>
<text x="475.5" y="341.55" font-size="4.7" font-weight="bold" text-anchor="middle" fill="#222" stroke="#222" stroke-width="0.12" >5d</text>
<text x="483.9" y="341.55" font-size="4.7" font-weight="bold" text-anchor="middle" fill="#222" stroke="#222" stroke-width="0.12" >6d</text>
<text transform="translate(420.37,311) rotate(-90)" font-size="4.64" font-weight="normal" text-anchor="middle" fill="#222" stroke="#222" stroke-width="0.08">Incorrect number of</text>
<text transform="translate(426.27,311) rotate(-90)" font-size="4.64" font-weight="normal" text-anchor="middle" fill="#222" stroke="#222" stroke-width="0.08">nosepoke</text>
<polyline points="441,315.7 449.4,322.4 458.2,320.1 466.5,323.6 475.3,326.7 483.7,326.4" fill="none" stroke="#3434f0" stroke-width="0.9" stroke-linejoin="round"/>
<line x1="441" y1="315.7" x2="441" y2="311.3" stroke="#3434f0" stroke-width="0.8"/>
<line x1="440.1" y1="311.3" x2="441.9" y2="311.3" stroke="#3434f0" stroke-width="0.7"/>
<rect x="440.3" y="315" width="1.4" height="1.4" fill="#3434f0"/>
<line x1="449.4" y1="322.4" x2="449.4" y2="319.5" stroke="#3434f0" stroke-width="0.8"/>
<line x1="448.5" y1="319.5" x2="450.3" y2="319.5" stroke="#3434f0" stroke-width="0.7"/>
<rect x="448.7" y="321.7" width="1.4" height="1.4" fill="#3434f0"/>
<line x1="458.2" y1="320.1" x2="458.2" y2="317.9" stroke="#3434f0" stroke-width="0.8"/>
<line x1="457.3" y1="317.9" x2="459.1" y2="317.9" stroke="#3434f0" stroke-width="0.7"/>
<rect x="457.5" y="319.4" width="1.4" height="1.4" fill="#3434f0"/>
<line x1="466.5" y1="323.6" x2="466.5" y2="321.4" stroke="#3434f0" stroke-width="0.8"/>
<line x1="465.6" y1="321.4" x2="467.4" y2="321.4" stroke="#3434f0" stroke-width="0.7"/>
<rect x="465.8" y="322.9" width="1.4" height="1.4" fill="#3434f0"/>
<line x1="475.3" y1="326.7" x2="475.3" y2="324.1" stroke="#3434f0" stroke-width="0.8"/>
<line x1="474.4" y1="324.1" x2="476.2" y2="324.1" stroke="#3434f0" stroke-width="0.7"/>
<rect x="474.6" y="326" width="1.4" height="1.4" fill="#3434f0"/>
<line x1="483.7" y1="326.4" x2="483.7" y2="322" stroke="#3434f0" stroke-width="0.8"/>
<line x1="482.8" y1="322" x2="484.6" y2="322" stroke="#3434f0" stroke-width="0.7"/>
<rect x="483" y="325.7" width="1.4" height="1.4" fill="#3434f0"/>
<polyline points="441,304.8 449.4,309.5 458.2,314.1 466.5,311.7 475.3,311.7 483.7,315.7" fill="none" stroke="#42a03a" stroke-width="0.9" stroke-linejoin="round"/>
<line x1="441" y1="304.8" x2="441" y2="295.3" stroke="#42a03a" stroke-width="0.8"/>
<line x1="440.1" y1="295.3" x2="441.9" y2="295.3" stroke="#42a03a" stroke-width="0.7"/>
<rect x="440.3" y="304.1" width="1.4" height="1.4" fill="#42a03a"/>
<line x1="449.4" y1="309.5" x2="449.4" y2="302.8" stroke="#42a03a" stroke-width="0.8"/>
<line x1="448.5" y1="302.8" x2="450.3" y2="302.8" stroke="#42a03a" stroke-width="0.7"/>
<rect x="448.7" y="308.8" width="1.4" height="1.4" fill="#42a03a"/>
<line x1="458.2" y1="314.1" x2="458.2" y2="307.3" stroke="#42a03a" stroke-width="0.8"/>
<line x1="457.3" y1="307.3" x2="459.1" y2="307.3" stroke="#42a03a" stroke-width="0.7"/>
<rect x="457.5" y="313.4" width="1.4" height="1.4" fill="#42a03a"/>
<line x1="466.5" y1="311.7" x2="466.5" y2="305.9" stroke="#42a03a" stroke-width="0.8"/>
<line x1="465.6" y1="305.9" x2="467.4" y2="305.9" stroke="#42a03a" stroke-width="0.7"/>
<rect x="465.8" y="311" width="1.4" height="1.4" fill="#42a03a"/>
<line x1="475.3" y1="311.7" x2="475.3" y2="304.3" stroke="#42a03a" stroke-width="0.8"/>
<line x1="474.4" y1="304.3" x2="476.2" y2="304.3" stroke="#42a03a" stroke-width="0.7"/>
<rect x="474.6" y="311" width="1.4" height="1.4" fill="#42a03a"/>
<line x1="483.7" y1="315.7" x2="483.7" y2="310.7" stroke="#42a03a" stroke-width="0.8"/>
<line x1="482.8" y1="310.7" x2="484.6" y2="310.7" stroke="#42a03a" stroke-width="0.7"/>
<rect x="483" y="315" width="1.4" height="1.4" fill="#42a03a"/>
<circle cx="453.1" cy="288.1" r="1.1" fill="#222"/>
<circle cx="456.1" cy="288.1" r="1.1" fill="#222"/>
<circle cx="459.1" cy="288.1" r="1.1" fill="#222"/>
<line x1="461.5" y1="282.5" x2="461.5" y2="292.1" stroke="#333" stroke-width="0.9"/>
<line x1="462.4" y1="282.9" x2="468.7" y2="282.9" stroke="#3434f0" stroke-width="0.85"/>
<line x1="462.4" y1="291.3" x2="468.7" y2="291.3" stroke="#42a03a" stroke-width="0.85"/>
<text x="472" y="284.6" font-size="4.7" font-weight="bold" text-anchor="start" fill="#3434f0" >WT</text>
<text x="472" y="293" font-size="4.7" font-weight="bold" font-style="italic" fill="#42a03a">Aeg-1<tspan font-size="3.0" dx="0.3" dy="-2.0">fl/fl</tspan><tspan dx="0.2" dy="2.0">Cre</tspan><tspan font-size="3.0" dx="0.2" dy="-2.0">+</tspan></text>
<text transform="translate(505.6,265.85)" font-size="9.6" font-weight="bold" fill="#000" stroke="#000" stroke-width="0.2">D-5</text>
<line x1="525.8" y1="281.7" x2="525.8" y2="336" stroke="#444" stroke-width="1"/>
<line x1="525.8" y1="282" x2="527.8" y2="282" stroke="#222" stroke-width="0.8"/>
<text x="524.7" y="283.51" font-size="4.2" font-weight="bold" text-anchor="end" fill="#222" stroke="#222" stroke-width="0.15" >6000</text>
<line x1="525.8" y1="300" x2="527.8" y2="300" stroke="#222" stroke-width="0.8"/>
<text x="524.7" y="301.51" font-size="4.2" font-weight="bold" text-anchor="end" fill="#222" stroke="#222" stroke-width="0.15" >4000</text>
<line x1="525.8" y1="317.9" x2="527.8" y2="317.9" stroke="#222" stroke-width="0.8"/>
<text x="524.7" y="319.41" font-size="4.2" font-weight="bold" text-anchor="end" fill="#222" stroke="#222" stroke-width="0.15" >2000</text>
<line x1="525.8" y1="335.5" x2="527.8" y2="335.5" stroke="#222" stroke-width="0.8"/>
<text x="524.7" y="337.01" font-size="4.2" font-weight="bold" text-anchor="end" fill="#222" stroke="#222" stroke-width="0.15" >0</text>
<line x1="525.3" y1="335.5" x2="580" y2="335.5" stroke="#444" stroke-width="1"/>
<line x1="530.2" y1="333.3" x2="530.2" y2="335.5" stroke="#444" stroke-width="0.65"/>
<line x1="539.3" y1="333.3" x2="539.3" y2="335.5" stroke="#444" stroke-width="0.65"/>
<line x1="548.4" y1="333.3" x2="548.4" y2="335.5" stroke="#444" stroke-width="0.65"/>
<line x1="557.5" y1="333.3" x2="557.5" y2="335.5" stroke="#444" stroke-width="0.65"/>
<line x1="566.3" y1="333.3" x2="566.3" y2="335.5" stroke="#444" stroke-width="0.65"/>
<line x1="575.4" y1="333.3" x2="575.4" y2="335.5" stroke="#444" stroke-width="0.65"/>
<text x="530.4" y="340.95" font-size="4.7" font-weight="bold" text-anchor="middle" fill="#222" stroke="#222" stroke-width="0.12" >1d</text>
<text x="539.5" y="340.95" font-size="4.7" font-weight="bold" text-anchor="middle" fill="#222" stroke="#222" stroke-width="0.12" >2d</text>
<text x="548.6" y="340.95" font-size="4.7" font-weight="bold" text-anchor="middle" fill="#222" stroke="#222" stroke-width="0.12" >3d</text>
<text x="557.7" y="340.95" font-size="4.7" font-weight="bold" text-anchor="middle" fill="#222" stroke="#222" stroke-width="0.12" >4d</text>
<text x="566.5" y="340.95" font-size="4.7" font-weight="bold" text-anchor="middle" fill="#222" stroke="#222" stroke-width="0.12" >5d</text>
<text x="575.6" y="340.95" font-size="4.7" font-weight="bold" text-anchor="middle" fill="#222" stroke="#222" stroke-width="0.12" >6d</text>
<text transform="translate(511.67,308.6) rotate(-90)" font-size="4.36" font-weight="bold" text-anchor="middle" fill="#222" stroke="#222" stroke-width="0.12">Total licks</text>
<polyline points="530.2,302.8 539.3,306.1 548.4,296.5 557.5,309.5 566.3,314.5 575.4,302.3" fill="none" stroke="#3434f0" stroke-width="0.9" stroke-linejoin="round"/>
<line x1="530.2" y1="302.8" x2="530.2" y2="294" stroke="#3434f0" stroke-width="0.8"/>
<line x1="529.3" y1="294" x2="531.1" y2="294" stroke="#3434f0" stroke-width="0.7"/>
<rect x="529.5" y="302.1" width="1.4" height="1.4" fill="#3434f0"/>
<line x1="539.3" y1="306.1" x2="539.3" y2="299" stroke="#3434f0" stroke-width="0.8"/>
<line x1="538.4" y1="299" x2="540.2" y2="299" stroke="#3434f0" stroke-width="0.7"/>
<rect x="538.6" y="305.4" width="1.4" height="1.4" fill="#3434f0"/>
<line x1="548.4" y1="296.5" x2="548.4" y2="287.5" stroke="#3434f0" stroke-width="0.8"/>
<line x1="547.5" y1="287.5" x2="549.3" y2="287.5" stroke="#3434f0" stroke-width="0.7"/>
<rect x="547.7" y="295.8" width="1.4" height="1.4" fill="#3434f0"/>
<line x1="557.5" y1="309.5" x2="557.5" y2="300" stroke="#3434f0" stroke-width="0.8"/>
<line x1="556.6" y1="300" x2="558.4" y2="300" stroke="#3434f0" stroke-width="0.7"/>
<rect x="556.8" y="308.8" width="1.4" height="1.4" fill="#3434f0"/>
<line x1="566.3" y1="314.5" x2="566.3" y2="306.3" stroke="#3434f0" stroke-width="0.8"/>
<line x1="565.4" y1="306.3" x2="567.2" y2="306.3" stroke="#3434f0" stroke-width="0.7"/>
<rect x="565.6" y="313.8" width="1.4" height="1.4" fill="#3434f0"/>
<line x1="575.4" y1="302.3" x2="575.4" y2="293.1" stroke="#3434f0" stroke-width="0.8"/>
<line x1="574.5" y1="293.1" x2="576.3" y2="293.1" stroke="#3434f0" stroke-width="0.7"/>
<rect x="574.7" y="301.6" width="1.4" height="1.4" fill="#3434f0"/>
<polyline points="530.2,303.6 539.3,307 548.4,302.3 557.5,310.1 566.3,310.3 575.4,304.8" fill="none" stroke="#42a03a" stroke-width="0.9" stroke-linejoin="round"/>
<line x1="530.2" y1="303.6" x2="530.2" y2="302" stroke="#42a03a" stroke-width="0.8"/>
<line x1="529.3" y1="302" x2="531.1" y2="302" stroke="#42a03a" stroke-width="0.7"/>
<rect x="529.5" y="302.9" width="1.4" height="1.4" fill="#42a03a"/>
<line x1="539.3" y1="307" x2="539.3" y2="305.5" stroke="#42a03a" stroke-width="0.8"/>
<line x1="538.4" y1="305.5" x2="540.2" y2="305.5" stroke="#42a03a" stroke-width="0.7"/>
<rect x="538.6" y="306.3" width="1.4" height="1.4" fill="#42a03a"/>
<line x1="548.4" y1="302.3" x2="548.4" y2="300" stroke="#42a03a" stroke-width="0.8"/>
<line x1="547.5" y1="300" x2="549.3" y2="300" stroke="#42a03a" stroke-width="0.7"/>
<rect x="547.7" y="301.6" width="1.4" height="1.4" fill="#42a03a"/>
<line x1="557.5" y1="310.1" x2="557.5" y2="308.5" stroke="#42a03a" stroke-width="0.8"/>
<line x1="556.6" y1="308.5" x2="558.4" y2="308.5" stroke="#42a03a" stroke-width="0.7"/>
<rect x="556.8" y="309.4" width="1.4" height="1.4" fill="#42a03a"/>
<line x1="566.3" y1="310.3" x2="566.3" y2="306.1" stroke="#42a03a" stroke-width="0.8"/>
<line x1="565.4" y1="306.1" x2="567.2" y2="306.1" stroke="#42a03a" stroke-width="0.7"/>
<rect x="565.6" y="309.6" width="1.4" height="1.4" fill="#42a03a"/>
<line x1="575.4" y1="304.8" x2="575.4" y2="303" stroke="#42a03a" stroke-width="0.8"/>
<line x1="574.5" y1="303" x2="576.3" y2="303" stroke="#42a03a" stroke-width="0.7"/>
<rect x="574.7" y="304.1" width="1.4" height="1.4" fill="#42a03a"/>
<text x="548.35" y="281.8" font-size="4.6" font-weight="bold" text-anchor="middle" fill="#222" stroke="#222" stroke-width="0.1" >ns</text>
<line x1="551.8" y1="275.8" x2="551.8" y2="284.4" stroke="#aaa" stroke-width="0.9"/>
<line x1="552.7" y1="275.8" x2="559.3" y2="275.8" stroke="#3434f0" stroke-width="0.85"/>
<line x1="552.7" y1="283.7" x2="559.3" y2="283.7" stroke="#42a03a" stroke-width="0.85"/>
<text x="562.6" y="277.5" font-size="4.7" font-weight="bold" text-anchor="start" fill="#3434f0" >WT</text>
<text x="562.6" y="285.4" font-size="4.7" font-weight="bold" font-style="italic" fill="#42a03a">Aeg-1<tspan font-size="3.0" dx="0.3" dy="-2.0">fl/fl</tspan><tspan dx="0.2" dy="2.0">Cre</tspan><tspan font-size="3.0" dx="0.2" dy="-2.0">+</tspan></text>
<text transform="translate(593.5,265.75)" font-size="9.6" font-weight="bold" fill="#000" stroke="#000" stroke-width="0.2">D-6</text>
<line x1="618.1" y1="280.8" x2="618.1" y2="336.4" stroke="#999" stroke-width="1.2"/>
<line x1="618.1" y1="281.1" x2="620.1" y2="281.1" stroke="#222" stroke-width="0.8"/>
<text x="617" y="282.68" font-size="4.4" font-weight="bold" text-anchor="end" fill="#222" stroke="#222" stroke-width="0.15" >100</text>
<line x1="618.1" y1="292.2" x2="620.1" y2="292.2" stroke="#222" stroke-width="0.8"/>
<text x="617" y="293.78" font-size="4.4" font-weight="bold" text-anchor="end" fill="#222" stroke="#222" stroke-width="0.15" >90</text>
<line x1="618.1" y1="303.2" x2="620.1" y2="303.2" stroke="#222" stroke-width="0.8"/>
<text x="617" y="304.78" font-size="4.4" font-weight="bold" text-anchor="end" fill="#222" stroke="#222" stroke-width="0.15" >80</text>
<line x1="618.1" y1="314.1" x2="620.1" y2="314.1" stroke="#222" stroke-width="0.8"/>
<text x="617" y="315.68" font-size="4.4" font-weight="bold" text-anchor="end" fill="#222" stroke="#222" stroke-width="0.15" >70</text>
<line x1="618.1" y1="325" x2="620.1" y2="325" stroke="#222" stroke-width="0.8"/>
<text x="617" y="326.58" font-size="4.4" font-weight="bold" text-anchor="end" fill="#222" stroke="#222" stroke-width="0.15" >60</text>
<line x1="618.1" y1="335.9" x2="620.1" y2="335.9" stroke="#222" stroke-width="0.8"/>
<text x="617" y="337.48" font-size="4.4" font-weight="bold" text-anchor="end" fill="#222" stroke="#222" stroke-width="0.15" >50</text>
<line x1="617.6" y1="335.9" x2="672.4" y2="335.9" stroke="#aaa" stroke-width="1.2"/>
<line x1="622.2" y1="333.7" x2="622.2" y2="335.9" stroke="#444" stroke-width="0.65"/>
<line x1="631.6" y1="333.7" x2="631.6" y2="335.9" stroke="#444" stroke-width="0.65"/>
<line x1="640.6" y1="333.7" x2="640.6" y2="335.9" stroke="#444" stroke-width="0.65"/>
<line x1="650.1" y1="333.7" x2="650.1" y2="335.9" stroke="#444" stroke-width="0.65"/>
<line x1="659.6" y1="333.7" x2="659.6" y2="335.9" stroke="#444" stroke-width="0.65"/>
<line x1="668.8" y1="333.7" x2="668.8" y2="335.9" stroke="#444" stroke-width="0.65"/>
<text x="622.4" y="340.65" font-size="4.7" font-weight="bold" text-anchor="middle" fill="#222" stroke="#222" stroke-width="0.12" >1d</text>
<text x="631.8" y="340.65" font-size="4.7" font-weight="bold" text-anchor="middle" fill="#222" stroke="#222" stroke-width="0.12" >2d</text>
<text x="640.8" y="340.65" font-size="4.7" font-weight="bold" text-anchor="middle" fill="#222" stroke="#222" stroke-width="0.12" >3d</text>
<text x="650.3" y="340.65" font-size="4.7" font-weight="bold" text-anchor="middle" fill="#222" stroke="#222" stroke-width="0.12" >4d</text>
<text x="659.8" y="340.65" font-size="4.7" font-weight="bold" text-anchor="middle" fill="#222" stroke="#222" stroke-width="0.12" >5d</text>
<text x="669" y="340.65" font-size="4.7" font-weight="bold" text-anchor="middle" fill="#222" stroke="#222" stroke-width="0.12" >6d</text>
<text transform="translate(601.31,307.8) rotate(-90)" font-size="4.46" font-weight="bold" text-anchor="middle" fill="#222" stroke="#222" stroke-width="0.12">Correct visit with</text>
<text transform="translate(607.21,307.8) rotate(-90)" font-size="4.46" font-weight="bold" text-anchor="middle" fill="#222" stroke="#222" stroke-width="0.12">a lick ( % )</text>
<polyline points="622.2,308.1 631.6,310.7 640.6,298.2 650.1,315.1 659.6,321.1 668.8,311.7" fill="none" stroke="#3434f0" stroke-width="0.9" stroke-linejoin="round"/>
<line x1="622.2" y1="308.1" x2="622.2" y2="298.6" stroke="#3434f0" stroke-width="0.8"/>
<line x1="621.3" y1="298.6" x2="623.1" y2="298.6" stroke="#3434f0" stroke-width="0.7"/>
<rect x="621.5" y="307.4" width="1.4" height="1.4" fill="#3434f0"/>
<line x1="631.6" y1="310.7" x2="631.6" y2="303.3" stroke="#3434f0" stroke-width="0.8"/>
<line x1="630.7" y1="303.3" x2="632.5" y2="303.3" stroke="#3434f0" stroke-width="0.7"/>
<rect x="630.9" y="310" width="1.4" height="1.4" fill="#3434f0"/>
<line x1="640.6" y1="298.2" x2="640.6" y2="291.1" stroke="#3434f0" stroke-width="0.8"/>
<line x1="639.7" y1="291.1" x2="641.5" y2="291.1" stroke="#3434f0" stroke-width="0.7"/>
<rect x="639.9" y="297.5" width="1.4" height="1.4" fill="#3434f0"/>
<line x1="650.1" y1="315.1" x2="650.1" y2="307" stroke="#3434f0" stroke-width="0.8"/>
<line x1="649.2" y1="307" x2="651" y2="307" stroke="#3434f0" stroke-width="0.7"/>
<rect x="649.4" y="314.4" width="1.4" height="1.4" fill="#3434f0"/>
<line x1="659.6" y1="321.1" x2="659.6" y2="310.7" stroke="#3434f0" stroke-width="0.8"/>
<line x1="658.7" y1="310.7" x2="660.5" y2="310.7" stroke="#3434f0" stroke-width="0.7"/>
<rect x="658.9" y="320.4" width="1.4" height="1.4" fill="#3434f0"/>
<line x1="668.8" y1="311.7" x2="668.8" y2="306" stroke="#3434f0" stroke-width="0.8"/>
<line x1="667.9" y1="306" x2="669.7" y2="306" stroke="#3434f0" stroke-width="0.7"/>
<rect x="668.1" y="311" width="1.4" height="1.4" fill="#3434f0"/>
<polyline points="622.2,320.2 631.6,317.5 640.6,314.3 650.1,331.6 659.6,327.4 668.8,312" fill="none" stroke="#42a03a" stroke-width="0.9" stroke-linejoin="round"/>
<line x1="622.2" y1="320.2" x2="622.2" y2="315.9" stroke="#42a03a" stroke-width="0.8"/>
<line x1="621.3" y1="315.9" x2="623.1" y2="315.9" stroke="#42a03a" stroke-width="0.7"/>
<rect x="621.5" y="319.5" width="1.4" height="1.4" fill="#42a03a"/>
<line x1="631.6" y1="317.5" x2="631.6" y2="311.2" stroke="#42a03a" stroke-width="0.8"/>
<line x1="630.7" y1="311.2" x2="632.5" y2="311.2" stroke="#42a03a" stroke-width="0.7"/>
<rect x="630.9" y="316.8" width="1.4" height="1.4" fill="#42a03a"/>
<line x1="640.6" y1="314.3" x2="640.6" y2="306.5" stroke="#42a03a" stroke-width="0.8"/>
<line x1="639.7" y1="306.5" x2="641.5" y2="306.5" stroke="#42a03a" stroke-width="0.7"/>
<rect x="639.9" y="313.6" width="1.4" height="1.4" fill="#42a03a"/>
<line x1="650.1" y1="331.6" x2="650.1" y2="327.7" stroke="#42a03a" stroke-width="0.8"/>
<line x1="649.2" y1="327.7" x2="651" y2="327.7" stroke="#42a03a" stroke-width="0.7"/>
<rect x="649.4" y="330.9" width="1.4" height="1.4" fill="#42a03a"/>
<line x1="659.6" y1="327.4" x2="659.6" y2="323.8" stroke="#42a03a" stroke-width="0.8"/>
<line x1="658.7" y1="323.8" x2="660.5" y2="323.8" stroke="#42a03a" stroke-width="0.7"/>
<rect x="658.9" y="326.7" width="1.4" height="1.4" fill="#42a03a"/>
<line x1="668.8" y1="312" x2="668.8" y2="311" stroke="#42a03a" stroke-width="0.8"/>
<line x1="667.9" y1="311" x2="669.7" y2="311" stroke="#42a03a" stroke-width="0.7"/>
<rect x="668.1" y="311.3" width="1.4" height="1.4" fill="#42a03a"/>
<circle cx="643.75" cy="284.5" r="1.1" fill="#222"/>
<line x1="646.5" y1="279.5" x2="646.5" y2="288.6" stroke="#333" stroke-width="0.9"/>
<line x1="647.4" y1="280.25" x2="653" y2="280.25" stroke="#3434f0" stroke-width="0.85"/>
<line x1="647.4" y1="288" x2="653" y2="288" stroke="#42a03a" stroke-width="0.85"/>
<text x="656.5" y="281.95" font-size="4.7" font-weight="bold" text-anchor="start" fill="#3434f0" >WT</text>
<text x="656.5" y="289.7" font-size="4.7" font-weight="bold" font-style="italic" fill="#42a03a">Aeg-1<tspan font-size="3.0" dx="0.3" dy="-2.0">fl/fl</tspan><tspan dx="0.2" dy="2.0">Cre</tspan><tspan font-size="3.0" dx="0.2" dy="-2.0">+</tspan></text>
</svg>
</body></html>
